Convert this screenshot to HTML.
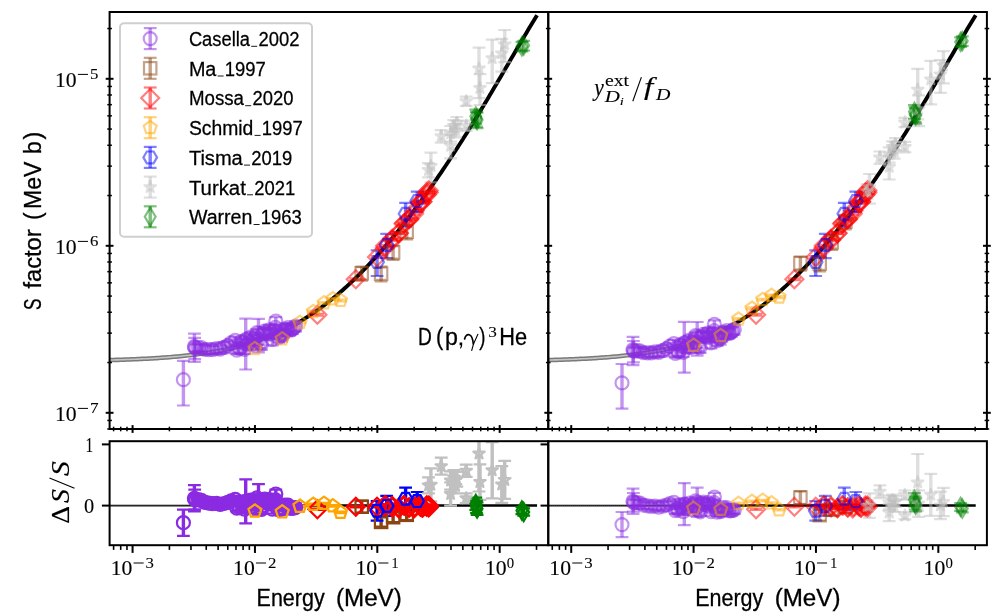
<!DOCTYPE html>
<html><head><meta charset="utf-8"><title>S factor</title><style>html,body{margin:0;padding:0;background:#fff}svg{display:block}text{fill:#000;stroke:#000}svg{will-change:transform}</style></head><body>
<svg width="997" height="613" viewBox="0 0 997 613">
<rect width="997" height="613" fill="#fff"/>
<defs>
<clipPath id="ctl"><rect x="109.60" y="12.00" width="438.65" height="417.00"/></clipPath>
<clipPath id="ctr"><rect x="548.25" y="12.00" width="438.65" height="417.00"/></clipPath>
<clipPath id="cbl"><rect x="109.60" y="441.20" width="438.65" height="104.00"/></clipPath>
<clipPath id="cbr"><rect x="548.25" y="441.20" width="438.65" height="104.00"/></clipPath>
</defs>
<g clip-path="url(#ctl)">
<path d="M109.60 360.11 L111.74 360.05 L113.87 359.98 L116.01 359.92 L118.15 359.85 L120.29 359.79 L122.42 359.71 L124.56 359.64 L126.70 359.56 L128.84 359.48 L130.97 359.40 L133.11 359.31 L135.25 359.22 L137.38 359.12 L139.52 359.03 L141.66 358.92 L143.80 358.82 L145.93 358.71 L148.07 358.59 L150.21 358.47 L152.34 358.35 L154.48 358.22 L156.62 358.09 L158.76 357.95 L160.89 357.81 L163.03 357.66 L165.17 357.50 L167.31 357.34 L169.44 357.17 L171.58 356.99 L173.72 356.81 L175.85 356.63 L177.99 356.43 L180.13 356.23 L182.27 356.02 L184.40 355.80 L186.54 355.57 L188.68 355.33 L190.81 355.09 L192.95 354.83 L195.09 354.57 L197.23 354.30 L199.36 354.01 L201.50 353.72 L203.64 353.42 L205.78 353.10 L207.91 352.77 L210.05 352.43 L212.19 352.08 L214.32 351.71 L216.46 351.34 L218.60 350.95 L220.74 350.54 L222.87 350.12 L225.01 349.69 L227.15 349.24 L229.28 348.77 L231.42 348.29 L233.56 347.79 L235.70 347.28 L237.83 346.74 L239.97 346.19 L242.11 345.62 L244.25 345.04 L246.38 344.43 L248.52 343.80 L250.66 343.15 L252.79 342.49 L254.93 341.80 L257.07 341.09 L259.21 340.35 L261.34 339.60 L263.48 338.82 L265.62 338.01 L267.75 337.19 L269.89 336.33 L272.03 335.46 L274.17 334.55 L276.30 333.63 L278.44 332.67 L280.58 331.69 L282.72 330.68 L284.85 329.64 L286.99 328.58 L289.13 327.48 L291.26 326.36 L293.40 325.21 L295.54 324.03 L297.68 322.82" fill="none" stroke="#7a7a7a" stroke-width="4.6"/>
<path d="M109.60 360.11 L111.74 360.05 L113.87 359.98 L116.01 359.92 L118.15 359.85 L120.29 359.79 L122.42 359.71 L124.56 359.64 L126.70 359.56 L128.84 359.48 L130.97 359.40 L133.11 359.31 L135.25 359.22 L137.38 359.12 L139.52 359.03 L141.66 358.92 L143.80 358.82 L145.93 358.71 L148.07 358.59 L150.21 358.47 L152.34 358.35 L154.48 358.22 L156.62 358.09 L158.76 357.95 L160.89 357.81 L163.03 357.66 L165.17 357.50 L167.31 357.34 L169.44 357.17 L171.58 356.99 L173.72 356.81 L175.85 356.63 L177.99 356.43 L180.13 356.23 L182.27 356.02 L184.40 355.80 L186.54 355.57 L188.68 355.33 L190.81 355.09 L192.95 354.83 L195.09 354.57 L197.23 354.30 L199.36 354.01 L201.50 353.72 L203.64 353.42 L205.78 353.10 L207.91 352.77 L210.05 352.43 L212.19 352.08 L214.32 351.71 L216.46 351.34 L218.60 350.95 L220.74 350.54 L222.87 350.12 L225.01 349.69 L227.15 349.24 L229.28 348.77 L231.42 348.29 L233.56 347.79 L235.70 347.28 L237.83 346.74 L239.97 346.19 L242.11 345.62 L244.25 345.04 L246.38 344.43 L248.52 343.80 L250.66 343.15 L252.79 342.49 L254.93 341.80 L257.07 341.09 L259.21 340.35 L261.34 339.60 L263.48 338.82 L265.62 338.01 L267.75 337.19 L269.89 336.33 L272.03 335.46 L274.17 334.55 L276.30 333.63 L278.44 332.67 L280.58 331.69 L282.72 330.68 L284.85 329.64 L286.99 328.58 L289.13 327.48 L291.26 326.36 L293.40 325.21 L295.54 324.03 L297.68 322.82" fill="none" stroke="#c4c4c4" stroke-width="1.6"/>
<path d="M297.68 322.82 L299.81 321.58 L301.95 320.31 L304.09 319.01 L306.23 317.68 L308.36 316.31 L310.50 314.92 L312.64 313.50 L314.77 312.04 L316.91 310.55 L319.05 309.03 L321.19 307.48 L323.32 305.89 L325.46 304.28 L327.60 302.63 L329.73 300.95 L331.87 299.23 L334.01 297.49 L336.15 295.71 L338.28 293.90 L340.42 292.06 L342.56 290.19 L344.70 288.28 L346.83 286.35 L348.97 284.38 L351.11 282.38 L353.24 280.35 L355.38 278.29 L357.52 276.20 L359.66 274.07 L361.79 271.92 L363.93 269.74 L366.07 267.53 L368.20 265.28 L370.34 263.01 L372.48 260.71 L374.62 258.38 L376.75 256.02 L378.89 253.63 L381.03 251.21 L383.17 248.77 L385.30 246.29 L387.44 243.79 L389.58 241.26 L391.71 238.71 L393.85 236.12 L395.99 233.51 L398.13 230.88 L400.26 228.22 L402.40 225.53 L404.54 222.81 L406.67 220.07 L408.81 217.30 L410.95 214.51 L413.09 211.69 L415.22 208.85 L417.36 205.98 L419.50 203.09 L421.64 200.17 L423.77 197.23 L425.91 194.26 L428.05 191.27 L430.18 188.25 L432.32 185.21 L434.46 182.15 L436.60 179.06 L438.73 175.95 L440.87 172.81 L443.01 169.66 L445.14 166.48 L447.28 163.27 L449.42 160.04 L451.56 156.79 L453.69 153.52 L455.83 150.23 L457.97 146.91 L460.11 143.57 L462.24 140.21 L464.38 136.83 L466.52 133.43 L468.65 130.01 L470.79 126.57 L472.93 123.11 L475.07 119.63 L477.20 116.13 L479.34 112.62 L481.48 109.08 L483.62 105.53 L485.75 101.97 L487.89 98.39 L490.03 94.79 L492.16 91.19 L494.30 87.57 L496.44 83.94 L498.58 80.30 L500.71 76.65 L502.85 72.99 L504.99 69.33 L507.12 65.67 L509.26 62.00 L511.40 58.34 L513.54 54.67 L515.67 51.01 L517.81 47.36 L519.95 43.72 L522.09 40.09 L524.22 36.47 L526.36 32.88 L528.50 29.30 L530.63 25.76 L532.77 22.25 L534.91 18.77 L537.05 15.33" fill="none" stroke="#000" stroke-width="3.9"/>
<g stroke-opacity="0.50" fill-opacity="0.50" fill="none">
<path d="M183.4 360.8V405.5" stroke="rgb(138,43,226)" stroke-width="3.4"/>
<path d="M194.4 333.7V361.9" stroke="rgb(138,43,226)" stroke-width="3.4"/>
<path d="M194.7 337.9V359.1" stroke="rgb(138,43,226)" stroke-width="3.4"/>
<path d="M196.0 344.5V351.7" stroke="rgb(138,43,226)" stroke-width="3.4"/>
<path d="M198.4 344.1V351.0" stroke="rgb(138,43,226)" stroke-width="3.4"/>
<path d="M201.4 343.8V351.9" stroke="rgb(138,43,226)" stroke-width="3.4"/>
<path d="M204.9 345.2V354.2" stroke="rgb(138,43,226)" stroke-width="3.4"/>
<path d="M208.8 345.4V354.2" stroke="rgb(138,43,226)" stroke-width="3.4"/>
<path d="M212.5 346.1V353.5" stroke="rgb(138,43,226)" stroke-width="3.4"/>
<path d="M216.5 343.6V354.1" stroke="rgb(138,43,226)" stroke-width="3.4"/>
<path d="M220.2 345.3V353.4" stroke="rgb(138,43,226)" stroke-width="3.4"/>
<path d="M224.1 342.1V353.1" stroke="rgb(138,43,226)" stroke-width="3.4"/>
<path d="M227.8 341.2V349.7" stroke="rgb(138,43,226)" stroke-width="3.4"/>
<path d="M231.2 339.4V346.4" stroke="rgb(138,43,226)" stroke-width="3.4"/>
<path d="M235.2 336.6V344.3" stroke="rgb(138,43,226)" stroke-width="3.4"/>
<path d="M236.8 346.1V354.2" stroke="rgb(138,43,226)" stroke-width="3.4"/>
<path d="M238.3 342.0V352.9" stroke="rgb(138,43,226)" stroke-width="3.4"/>
<path d="M239.9 343.8V354.0" stroke="rgb(138,43,226)" stroke-width="3.4"/>
<path d="M241.4 337.7V346.1" stroke="rgb(138,43,226)" stroke-width="3.4"/>
<path d="M243.0 339.0V346.3" stroke="rgb(138,43,226)" stroke-width="3.4"/>
<path d="M244.5 345.1V353.8" stroke="rgb(138,43,226)" stroke-width="3.4"/>
<path d="M246.1 335.7V344.3" stroke="rgb(138,43,226)" stroke-width="3.4"/>
<path d="M247.6 339.8V349.7" stroke="rgb(138,43,226)" stroke-width="3.4"/>
<path d="M249.2 338.1V346.4" stroke="rgb(138,43,226)" stroke-width="3.4"/>
<path d="M250.7 332.4V341.9" stroke="rgb(138,43,226)" stroke-width="3.4"/>
<path d="M252.3 339.4V349.4" stroke="rgb(138,43,226)" stroke-width="3.4"/>
<path d="M253.8 334.5V345.2" stroke="rgb(138,43,226)" stroke-width="3.4"/>
<path d="M255.4 332.5V340.4" stroke="rgb(138,43,226)" stroke-width="3.4"/>
<path d="M256.9 329.2V336.1" stroke="rgb(138,43,226)" stroke-width="3.4"/>
<path d="M258.5 334.6V345.0" stroke="rgb(138,43,226)" stroke-width="3.4"/>
<path d="M260.0 338.3V348.1" stroke="rgb(138,43,226)" stroke-width="3.4"/>
<path d="M261.5 339.0V349.8" stroke="rgb(138,43,226)" stroke-width="3.4"/>
<path d="M263.1 328.8V337.8" stroke="rgb(138,43,226)" stroke-width="3.4"/>
<path d="M264.6 327.3V335.1" stroke="rgb(138,43,226)" stroke-width="3.4"/>
<path d="M266.2 328.5V337.7" stroke="rgb(138,43,226)" stroke-width="3.4"/>
<path d="M267.7 329.6V338.5" stroke="rgb(138,43,226)" stroke-width="3.4"/>
<path d="M269.3 324.8V335.2" stroke="rgb(138,43,226)" stroke-width="3.4"/>
<path d="M270.8 329.4V339.3" stroke="rgb(138,43,226)" stroke-width="3.4"/>
<path d="M272.4 334.4V345.3" stroke="rgb(138,43,226)" stroke-width="3.4"/>
<path d="M273.9 325.2V336.1" stroke="rgb(138,43,226)" stroke-width="3.4"/>
<path d="M275.5 323.7V331.4" stroke="rgb(138,43,226)" stroke-width="3.4"/>
<path d="M277.0 327.9V338.0" stroke="rgb(138,43,226)" stroke-width="3.4"/>
<path d="M278.6 332.7V342.7" stroke="rgb(138,43,226)" stroke-width="3.4"/>
<path d="M280.1 330.7V338.7" stroke="rgb(138,43,226)" stroke-width="3.4"/>
<path d="M281.7 330.1V341.4" stroke="rgb(138,43,226)" stroke-width="3.4"/>
<path d="M283.2 329.5V338.2" stroke="rgb(138,43,226)" stroke-width="3.4"/>
<path d="M284.8 325.3V332.8" stroke="rgb(138,43,226)" stroke-width="3.4"/>
<path d="M286.3 324.7V336.0" stroke="rgb(138,43,226)" stroke-width="3.4"/>
<path d="M287.9 323.4V331.8" stroke="rgb(138,43,226)" stroke-width="3.4"/>
<path d="M289.4 324.1V335.6" stroke="rgb(138,43,226)" stroke-width="3.4"/>
<path d="M291.0 326.0V334.4" stroke="rgb(138,43,226)" stroke-width="3.4"/>
<path d="M292.5 324.0V333.8" stroke="rgb(138,43,226)" stroke-width="3.4"/>
<path d="M294.1 324.0V331.6" stroke="rgb(138,43,226)" stroke-width="3.4"/>
<path d="M295.6 321.4V331.4" stroke="rgb(138,43,226)" stroke-width="3.4"/>
<path d="M245.7 318.7V369.5" stroke="rgb(138,43,226)" stroke-width="3.4"/>
<path d="M258.5 318.8V352.4" stroke="rgb(138,43,226)" stroke-width="3.4"/>
<path d="M275.8 317.1V325.6" stroke="rgb(138,43,226)" stroke-width="3.4"/>
<path d="M177.0 360.8h12.8M177.0 405.5h12.8" stroke="rgb(138,43,226)" stroke-width="2.2"/>
<path d="M188.0 333.7h12.8M188.0 361.9h12.8" stroke="rgb(138,43,226)" stroke-width="2.2"/>
<path d="M188.3 337.9h12.8M188.3 359.1h12.8" stroke="rgb(138,43,226)" stroke-width="2.2"/>
<path d="M189.6 344.5h12.8M189.6 351.7h12.8" stroke="rgb(138,43,226)" stroke-width="2.2"/>
<path d="M192.0 344.1h12.8M192.0 351.0h12.8" stroke="rgb(138,43,226)" stroke-width="2.2"/>
<path d="M195.0 343.8h12.8M195.0 351.9h12.8" stroke="rgb(138,43,226)" stroke-width="2.2"/>
<path d="M198.5 345.2h12.8M198.5 354.2h12.8" stroke="rgb(138,43,226)" stroke-width="2.2"/>
<path d="M202.4 345.4h12.8M202.4 354.2h12.8" stroke="rgb(138,43,226)" stroke-width="2.2"/>
<path d="M206.1 346.1h12.8M206.1 353.5h12.8" stroke="rgb(138,43,226)" stroke-width="2.2"/>
<path d="M210.1 343.6h12.8M210.1 354.1h12.8" stroke="rgb(138,43,226)" stroke-width="2.2"/>
<path d="M213.8 345.3h12.8M213.8 353.4h12.8" stroke="rgb(138,43,226)" stroke-width="2.2"/>
<path d="M217.7 342.1h12.8M217.7 353.1h12.8" stroke="rgb(138,43,226)" stroke-width="2.2"/>
<path d="M221.4 341.2h12.8M221.4 349.7h12.8" stroke="rgb(138,43,226)" stroke-width="2.2"/>
<path d="M224.8 339.4h12.8M224.8 346.4h12.8" stroke="rgb(138,43,226)" stroke-width="2.2"/>
<path d="M228.8 336.6h12.8M228.8 344.3h12.8" stroke="rgb(138,43,226)" stroke-width="2.2"/>
<path d="M230.4 346.1h12.8M230.4 354.2h12.8" stroke="rgb(138,43,226)" stroke-width="2.2"/>
<path d="M231.9 342.0h12.8M231.9 352.9h12.8" stroke="rgb(138,43,226)" stroke-width="2.2"/>
<path d="M233.5 343.8h12.8M233.5 354.0h12.8" stroke="rgb(138,43,226)" stroke-width="2.2"/>
<path d="M235.0 337.7h12.8M235.0 346.1h12.8" stroke="rgb(138,43,226)" stroke-width="2.2"/>
<path d="M236.6 339.0h12.8M236.6 346.3h12.8" stroke="rgb(138,43,226)" stroke-width="2.2"/>
<path d="M238.1 345.1h12.8M238.1 353.8h12.8" stroke="rgb(138,43,226)" stroke-width="2.2"/>
<path d="M239.7 335.7h12.8M239.7 344.3h12.8" stroke="rgb(138,43,226)" stroke-width="2.2"/>
<path d="M241.2 339.8h12.8M241.2 349.7h12.8" stroke="rgb(138,43,226)" stroke-width="2.2"/>
<path d="M242.8 338.1h12.8M242.8 346.4h12.8" stroke="rgb(138,43,226)" stroke-width="2.2"/>
<path d="M244.3 332.4h12.8M244.3 341.9h12.8" stroke="rgb(138,43,226)" stroke-width="2.2"/>
<path d="M245.9 339.4h12.8M245.9 349.4h12.8" stroke="rgb(138,43,226)" stroke-width="2.2"/>
<path d="M247.4 334.5h12.8M247.4 345.2h12.8" stroke="rgb(138,43,226)" stroke-width="2.2"/>
<path d="M249.0 332.5h12.8M249.0 340.4h12.8" stroke="rgb(138,43,226)" stroke-width="2.2"/>
<path d="M250.5 329.2h12.8M250.5 336.1h12.8" stroke="rgb(138,43,226)" stroke-width="2.2"/>
<path d="M252.1 334.6h12.8M252.1 345.0h12.8" stroke="rgb(138,43,226)" stroke-width="2.2"/>
<path d="M253.6 338.3h12.8M253.6 348.1h12.8" stroke="rgb(138,43,226)" stroke-width="2.2"/>
<path d="M255.1 339.0h12.8M255.1 349.8h12.8" stroke="rgb(138,43,226)" stroke-width="2.2"/>
<path d="M256.7 328.8h12.8M256.7 337.8h12.8" stroke="rgb(138,43,226)" stroke-width="2.2"/>
<path d="M258.2 327.3h12.8M258.2 335.1h12.8" stroke="rgb(138,43,226)" stroke-width="2.2"/>
<path d="M259.8 328.5h12.8M259.8 337.7h12.8" stroke="rgb(138,43,226)" stroke-width="2.2"/>
<path d="M261.3 329.6h12.8M261.3 338.5h12.8" stroke="rgb(138,43,226)" stroke-width="2.2"/>
<path d="M262.9 324.8h12.8M262.9 335.2h12.8" stroke="rgb(138,43,226)" stroke-width="2.2"/>
<path d="M264.4 329.4h12.8M264.4 339.3h12.8" stroke="rgb(138,43,226)" stroke-width="2.2"/>
<path d="M266.0 334.4h12.8M266.0 345.3h12.8" stroke="rgb(138,43,226)" stroke-width="2.2"/>
<path d="M267.5 325.2h12.8M267.5 336.1h12.8" stroke="rgb(138,43,226)" stroke-width="2.2"/>
<path d="M269.1 323.7h12.8M269.1 331.4h12.8" stroke="rgb(138,43,226)" stroke-width="2.2"/>
<path d="M270.6 327.9h12.8M270.6 338.0h12.8" stroke="rgb(138,43,226)" stroke-width="2.2"/>
<path d="M272.2 332.7h12.8M272.2 342.7h12.8" stroke="rgb(138,43,226)" stroke-width="2.2"/>
<path d="M273.7 330.7h12.8M273.7 338.7h12.8" stroke="rgb(138,43,226)" stroke-width="2.2"/>
<path d="M275.3 330.1h12.8M275.3 341.4h12.8" stroke="rgb(138,43,226)" stroke-width="2.2"/>
<path d="M276.8 329.5h12.8M276.8 338.2h12.8" stroke="rgb(138,43,226)" stroke-width="2.2"/>
<path d="M278.4 325.3h12.8M278.4 332.8h12.8" stroke="rgb(138,43,226)" stroke-width="2.2"/>
<path d="M279.9 324.7h12.8M279.9 336.0h12.8" stroke="rgb(138,43,226)" stroke-width="2.2"/>
<path d="M281.5 323.4h12.8M281.5 331.8h12.8" stroke="rgb(138,43,226)" stroke-width="2.2"/>
<path d="M283.0 324.1h12.8M283.0 335.6h12.8" stroke="rgb(138,43,226)" stroke-width="2.2"/>
<path d="M284.6 326.0h12.8M284.6 334.4h12.8" stroke="rgb(138,43,226)" stroke-width="2.2"/>
<path d="M286.1 324.0h12.8M286.1 333.8h12.8" stroke="rgb(138,43,226)" stroke-width="2.2"/>
<path d="M287.7 324.0h12.8M287.7 331.6h12.8" stroke="rgb(138,43,226)" stroke-width="2.2"/>
<path d="M289.2 321.4h12.8M289.2 331.4h12.8" stroke="rgb(138,43,226)" stroke-width="2.2"/>
<path d="M239.3 318.7h12.8M239.3 369.5h12.8" stroke="rgb(138,43,226)" stroke-width="2.2"/>
<path d="M252.1 318.8h12.8M252.1 352.4h12.8" stroke="rgb(138,43,226)" stroke-width="2.2"/>
<path d="M269.4 317.1h12.8M269.4 325.6h12.8" stroke="rgb(138,43,226)" stroke-width="2.2"/>
<path d="M361.7 266.6V280.7" stroke="rgb(139,69,19)" stroke-width="3.4"/>
<path d="M381.1 266.6V281.5" stroke="rgb(139,69,19)" stroke-width="3.4"/>
<path d="M393.1 245.5V259.9" stroke="rgb(139,69,19)" stroke-width="3.4"/>
<path d="M406.7 224.9V239.4" stroke="rgb(139,69,19)" stroke-width="3.4"/>
<path d="M355.3 266.6h12.8M355.3 280.7h12.8" stroke="rgb(139,69,19)" stroke-width="2.2"/>
<path d="M374.7 266.6h12.8M374.7 281.5h12.8" stroke="rgb(139,69,19)" stroke-width="2.2"/>
<path d="M386.7 245.5h12.8M386.7 259.9h12.8" stroke="rgb(139,69,19)" stroke-width="2.2"/>
<path d="M400.3 224.9h12.8M400.3 239.4h12.8" stroke="rgb(139,69,19)" stroke-width="2.2"/>
<path d="M317.4 313.8V315.6" stroke="rgb(255,0,0)" stroke-width="3.4"/>
<path d="M355.8 278.3V280.1" stroke="rgb(255,0,0)" stroke-width="3.4"/>
<path d="M377.0 256.1V257.9" stroke="rgb(255,0,0)" stroke-width="3.4"/>
<path d="M385.2 244.9V246.6" stroke="rgb(255,0,0)" stroke-width="3.4"/>
<path d="M392.4 239.2V241.0" stroke="rgb(255,0,0)" stroke-width="3.4"/>
<path d="M398.6 232.3V234.2" stroke="rgb(255,0,0)" stroke-width="3.4"/>
<path d="M404.3 222.3V224.0" stroke="rgb(255,0,0)" stroke-width="3.4"/>
<path d="M409.3 217.9V219.7" stroke="rgb(255,0,0)" stroke-width="3.4"/>
<path d="M414.0 212.9V214.7" stroke="rgb(255,0,0)" stroke-width="3.4"/>
<path d="M419.9 201.3V203.1" stroke="rgb(255,0,0)" stroke-width="3.4"/>
<path d="M422.2 200.7V202.5" stroke="rgb(255,0,0)" stroke-width="3.4"/>
<path d="M426.6 193.9V195.6" stroke="rgb(255,0,0)" stroke-width="3.4"/>
<path d="M428.7 191.7V193.5" stroke="rgb(255,0,0)" stroke-width="3.4"/>
<path d="M384.7 247.0V248.7" stroke="rgb(255,0,0)" stroke-width="3.4"/>
<path d="M392.2 237.9V239.6" stroke="rgb(255,0,0)" stroke-width="3.4"/>
<path d="M398.8 232.2V234.0" stroke="rgb(255,0,0)" stroke-width="3.4"/>
<path d="M403.5 222.9V224.6" stroke="rgb(255,0,0)" stroke-width="3.4"/>
<path d="M409.0 218.5V220.3" stroke="rgb(255,0,0)" stroke-width="3.4"/>
<path d="M414.8 209.8V211.5" stroke="rgb(255,0,0)" stroke-width="3.4"/>
<path d="M420.4 202.2V203.9" stroke="rgb(255,0,0)" stroke-width="3.4"/>
<path d="M422.5 200.8V202.6" stroke="rgb(255,0,0)" stroke-width="3.4"/>
<path d="M426.8 191.6V193.3" stroke="rgb(255,0,0)" stroke-width="3.4"/>
<path d="M428.7 189.5V191.2" stroke="rgb(255,0,0)" stroke-width="3.4"/>
<path d="M311.0 313.8h12.8M311.0 315.6h12.8" stroke="rgb(255,0,0)" stroke-width="2.2"/>
<path d="M349.4 278.3h12.8M349.4 280.1h12.8" stroke="rgb(255,0,0)" stroke-width="2.2"/>
<path d="M370.6 256.1h12.8M370.6 257.9h12.8" stroke="rgb(255,0,0)" stroke-width="2.2"/>
<path d="M378.8 244.9h12.8M378.8 246.6h12.8" stroke="rgb(255,0,0)" stroke-width="2.2"/>
<path d="M386.0 239.2h12.8M386.0 241.0h12.8" stroke="rgb(255,0,0)" stroke-width="2.2"/>
<path d="M392.2 232.3h12.8M392.2 234.2h12.8" stroke="rgb(255,0,0)" stroke-width="2.2"/>
<path d="M397.9 222.3h12.8M397.9 224.0h12.8" stroke="rgb(255,0,0)" stroke-width="2.2"/>
<path d="M402.9 217.9h12.8M402.9 219.7h12.8" stroke="rgb(255,0,0)" stroke-width="2.2"/>
<path d="M407.6 212.9h12.8M407.6 214.7h12.8" stroke="rgb(255,0,0)" stroke-width="2.2"/>
<path d="M413.5 201.3h12.8M413.5 203.1h12.8" stroke="rgb(255,0,0)" stroke-width="2.2"/>
<path d="M415.8 200.7h12.8M415.8 202.5h12.8" stroke="rgb(255,0,0)" stroke-width="2.2"/>
<path d="M420.2 193.9h12.8M420.2 195.6h12.8" stroke="rgb(255,0,0)" stroke-width="2.2"/>
<path d="M422.3 191.7h12.8M422.3 193.5h12.8" stroke="rgb(255,0,0)" stroke-width="2.2"/>
<path d="M378.3 247.0h12.8M378.3 248.7h12.8" stroke="rgb(255,0,0)" stroke-width="2.2"/>
<path d="M385.8 237.9h12.8M385.8 239.6h12.8" stroke="rgb(255,0,0)" stroke-width="2.2"/>
<path d="M392.4 232.2h12.8M392.4 234.0h12.8" stroke="rgb(255,0,0)" stroke-width="2.2"/>
<path d="M397.1 222.9h12.8M397.1 224.6h12.8" stroke="rgb(255,0,0)" stroke-width="2.2"/>
<path d="M402.6 218.5h12.8M402.6 220.3h12.8" stroke="rgb(255,0,0)" stroke-width="2.2"/>
<path d="M408.4 209.8h12.8M408.4 211.5h12.8" stroke="rgb(255,0,0)" stroke-width="2.2"/>
<path d="M414.0 202.2h12.8M414.0 203.9h12.8" stroke="rgb(255,0,0)" stroke-width="2.2"/>
<path d="M416.1 200.8h12.8M416.1 202.6h12.8" stroke="rgb(255,0,0)" stroke-width="2.2"/>
<path d="M420.4 191.6h12.8M420.4 193.3h12.8" stroke="rgb(255,0,0)" stroke-width="2.2"/>
<path d="M422.3 189.5h12.8M422.3 191.2h12.8" stroke="rgb(255,0,0)" stroke-width="2.2"/>
<path d="M254.9 347.7V349.6" stroke="rgb(255,165,0)" stroke-width="3.4"/>
<path d="M282.2 338.0V340.0" stroke="rgb(255,165,0)" stroke-width="3.4"/>
<path d="M299.9 321.5V323.3" stroke="rgb(255,165,0)" stroke-width="3.4"/>
<path d="M313.3 310.7V312.5" stroke="rgb(255,165,0)" stroke-width="3.4"/>
<path d="M324.0 302.1V303.8" stroke="rgb(255,165,0)" stroke-width="3.4"/>
<path d="M332.8 298.0V299.7" stroke="rgb(255,165,0)" stroke-width="3.4"/>
<path d="M340.5 299.5V301.5" stroke="rgb(255,165,0)" stroke-width="3.4"/>
<path d="M248.5 347.7h12.8M248.5 349.6h12.8" stroke="rgb(255,165,0)" stroke-width="2.2"/>
<path d="M275.8 338.0h12.8M275.8 340.0h12.8" stroke="rgb(255,165,0)" stroke-width="2.2"/>
<path d="M293.5 321.5h12.8M293.5 323.3h12.8" stroke="rgb(255,165,0)" stroke-width="2.2"/>
<path d="M306.9 310.7h12.8M306.9 312.5h12.8" stroke="rgb(255,165,0)" stroke-width="2.2"/>
<path d="M317.6 302.1h12.8M317.6 303.8h12.8" stroke="rgb(255,165,0)" stroke-width="2.2"/>
<path d="M326.4 298.0h12.8M326.4 299.7h12.8" stroke="rgb(255,165,0)" stroke-width="2.2"/>
<path d="M334.1 299.5h12.8M334.1 301.5h12.8" stroke="rgb(255,165,0)" stroke-width="2.2"/>
<path d="M377.1 250.4V276.0" stroke="rgb(0,0,255)" stroke-width="3.4"/>
<path d="M386.7 233.9V258.2" stroke="rgb(0,0,255)" stroke-width="3.4"/>
<path d="M405.6 202.9V226.6" stroke="rgb(0,0,255)" stroke-width="3.4"/>
<path d="M417.2 191.6V212.0" stroke="rgb(0,0,255)" stroke-width="3.4"/>
<path d="M370.7 250.4h12.8M370.7 276.0h12.8" stroke="rgb(0,0,255)" stroke-width="2.2"/>
<path d="M380.3 233.9h12.8M380.3 258.2h12.8" stroke="rgb(0,0,255)" stroke-width="2.2"/>
<path d="M399.2 202.9h12.8M399.2 226.6h12.8" stroke="rgb(0,0,255)" stroke-width="2.2"/>
<path d="M410.8 191.6h12.8M410.8 212.0h12.8" stroke="rgb(0,0,255)" stroke-width="2.2"/>
<path d="M428.5 163.2V177.4" stroke="rgb(192,192,192)" stroke-width="3.4"/>
<path d="M430.9 152.7V182.4" stroke="rgb(192,192,192)" stroke-width="3.4"/>
<path d="M441.2 130.2V142.6" stroke="rgb(192,192,192)" stroke-width="3.4"/>
<path d="M450.6 126.0V141.5" stroke="rgb(192,192,192)" stroke-width="3.4"/>
<path d="M450.6 134.9V158.3" stroke="rgb(192,192,192)" stroke-width="3.4"/>
<path d="M453.8 120.1V132.1" stroke="rgb(192,192,192)" stroke-width="3.4"/>
<path d="M456.8 117.0V129.2" stroke="rgb(192,192,192)" stroke-width="3.4"/>
<path d="M455.6 124.2V137.4" stroke="rgb(192,192,192)" stroke-width="3.4"/>
<path d="M466.2 96.7V105.9" stroke="rgb(192,192,192)" stroke-width="3.4"/>
<path d="M466.2 120.7V131.0" stroke="rgb(192,192,192)" stroke-width="3.4"/>
<path d="M479.0 47.6V98.1" stroke="rgb(192,192,192)" stroke-width="3.4"/>
<path d="M480.0 74.2V105.0" stroke="rgb(192,192,192)" stroke-width="3.4"/>
<path d="M492.2 39.6V83.2" stroke="rgb(192,192,192)" stroke-width="3.4"/>
<path d="M501.8 38.8V71.7" stroke="rgb(192,192,192)" stroke-width="3.4"/>
<path d="M504.7 30.0V62.2" stroke="rgb(192,192,192)" stroke-width="3.4"/>
<path d="M422.1 163.2h12.8M422.1 177.4h12.8" stroke="rgb(192,192,192)" stroke-width="2.2"/>
<path d="M424.5 152.7h12.8M424.5 182.4h12.8" stroke="rgb(192,192,192)" stroke-width="2.2"/>
<path d="M434.8 130.2h12.8M434.8 142.6h12.8" stroke="rgb(192,192,192)" stroke-width="2.2"/>
<path d="M444.2 126.0h12.8M444.2 141.5h12.8" stroke="rgb(192,192,192)" stroke-width="2.2"/>
<path d="M444.2 134.9h12.8M444.2 158.3h12.8" stroke="rgb(192,192,192)" stroke-width="2.2"/>
<path d="M447.4 120.1h12.8M447.4 132.1h12.8" stroke="rgb(192,192,192)" stroke-width="2.2"/>
<path d="M450.4 117.0h12.8M450.4 129.2h12.8" stroke="rgb(192,192,192)" stroke-width="2.2"/>
<path d="M449.2 124.2h12.8M449.2 137.4h12.8" stroke="rgb(192,192,192)" stroke-width="2.2"/>
<path d="M459.8 96.7h12.8M459.8 105.9h12.8" stroke="rgb(192,192,192)" stroke-width="2.2"/>
<path d="M459.8 120.7h12.8M459.8 131.0h12.8" stroke="rgb(192,192,192)" stroke-width="2.2"/>
<path d="M472.6 47.6h12.8M472.6 98.1h12.8" stroke="rgb(192,192,192)" stroke-width="2.2"/>
<path d="M473.6 74.2h12.8M473.6 105.0h12.8" stroke="rgb(192,192,192)" stroke-width="2.2"/>
<path d="M485.8 39.6h12.8M485.8 83.2h12.8" stroke="rgb(192,192,192)" stroke-width="2.2"/>
<path d="M495.4 38.8h12.8M495.4 71.7h12.8" stroke="rgb(192,192,192)" stroke-width="2.2"/>
<path d="M498.3 30.0h12.8M498.3 62.2h12.8" stroke="rgb(192,192,192)" stroke-width="2.2"/>
<path d="M475.8 109.6V123.7" stroke="rgb(0,128,0)" stroke-width="3.4"/>
<path d="M476.5 111.8V126.6" stroke="rgb(0,128,0)" stroke-width="3.4"/>
<path d="M477.1 112.7V128.1" stroke="rgb(0,128,0)" stroke-width="3.4"/>
<path d="M521.9 41.8V51.3" stroke="rgb(0,128,0)" stroke-width="3.4"/>
<path d="M523.7 40.8V50.5" stroke="rgb(0,128,0)" stroke-width="3.4"/>
<path d="M469.4 109.6h12.8M469.4 123.7h12.8" stroke="rgb(0,128,0)" stroke-width="2.2"/>
<path d="M470.1 111.8h12.8M470.1 126.6h12.8" stroke="rgb(0,128,0)" stroke-width="2.2"/>
<path d="M470.7 112.7h12.8M470.7 128.1h12.8" stroke="rgb(0,128,0)" stroke-width="2.2"/>
<path d="M515.5 41.8h12.8M515.5 51.3h12.8" stroke="rgb(0,128,0)" stroke-width="2.2"/>
<path d="M517.3 40.8h12.8M517.3 50.5h12.8" stroke="rgb(0,128,0)" stroke-width="2.2"/>
<g stroke="rgb(138,43,226)" stroke-width="2.2">
<circle cx="183.4" cy="379.7" r="6.5"/>
<circle cx="194.4" cy="346.4" r="6.5"/>
<circle cx="194.7" cy="347.7" r="6.5"/>
<circle cx="196.0" cy="348.0" r="6.5"/>
<circle cx="198.4" cy="347.5" r="6.5"/>
<circle cx="201.4" cy="347.7" r="6.5"/>
<circle cx="204.9" cy="349.5" r="6.5"/>
<circle cx="208.8" cy="349.7" r="6.5"/>
<circle cx="212.5" cy="349.7" r="6.5"/>
<circle cx="216.5" cy="348.7" r="6.5"/>
<circle cx="220.2" cy="349.2" r="6.5"/>
<circle cx="224.1" cy="347.4" r="6.5"/>
<circle cx="227.8" cy="345.3" r="6.5"/>
<circle cx="231.2" cy="342.8" r="6.5"/>
<circle cx="235.2" cy="340.4" r="6.5"/>
<circle cx="236.8" cy="350.1" r="6.5"/>
<circle cx="238.3" cy="347.2" r="6.5"/>
<circle cx="239.9" cy="348.7" r="6.5"/>
<circle cx="241.4" cy="341.7" r="6.5"/>
<circle cx="243.0" cy="342.6" r="6.5"/>
<circle cx="244.5" cy="349.3" r="6.5"/>
<circle cx="246.1" cy="339.9" r="6.5"/>
<circle cx="247.6" cy="344.6" r="6.5"/>
<circle cx="249.2" cy="342.1" r="6.5"/>
<circle cx="250.7" cy="337.0" r="6.5"/>
<circle cx="252.3" cy="344.2" r="6.5"/>
<circle cx="253.8" cy="339.7" r="6.5"/>
<circle cx="255.4" cy="336.4" r="6.5"/>
<circle cx="256.9" cy="332.5" r="6.5"/>
<circle cx="258.5" cy="339.6" r="6.5"/>
<circle cx="260.0" cy="343.0" r="6.5"/>
<circle cx="261.5" cy="344.2" r="6.5"/>
<circle cx="263.1" cy="333.2" r="6.5"/>
<circle cx="264.6" cy="331.1" r="6.5"/>
<circle cx="266.2" cy="332.9" r="6.5"/>
<circle cx="267.7" cy="333.9" r="6.5"/>
<circle cx="269.3" cy="329.8" r="6.5"/>
<circle cx="270.8" cy="334.2" r="6.5"/>
<circle cx="272.4" cy="339.6" r="6.5"/>
<circle cx="273.9" cy="330.5" r="6.5"/>
<circle cx="275.5" cy="327.4" r="6.5"/>
<circle cx="277.0" cy="332.8" r="6.5"/>
<circle cx="278.6" cy="337.5" r="6.5"/>
<circle cx="280.1" cy="334.6" r="6.5"/>
<circle cx="281.7" cy="335.5" r="6.5"/>
<circle cx="283.2" cy="333.7" r="6.5"/>
<circle cx="284.8" cy="329.0" r="6.5"/>
<circle cx="286.3" cy="330.1" r="6.5"/>
<circle cx="287.9" cy="327.5" r="6.5"/>
<circle cx="289.4" cy="329.6" r="6.5"/>
<circle cx="291.0" cy="330.1" r="6.5"/>
<circle cx="292.5" cy="328.8" r="6.5"/>
<circle cx="294.1" cy="327.7" r="6.5"/>
<circle cx="295.6" cy="326.2" r="6.5"/>
<circle cx="245.7" cy="339.7" r="6.5"/>
<circle cx="258.5" cy="333.7" r="6.5"/>
<circle cx="275.8" cy="321.2" r="6.5"/>
</g>
<g stroke="rgb(139,69,19)" stroke-width="2.2">
<rect x="355.5" y="267.1" width="12.4" height="12.4"/>
<rect x="374.9" y="267.5" width="12.4" height="12.4"/>
<rect x="386.9" y="246.2" width="12.4" height="12.4"/>
<rect x="400.5" y="225.6" width="12.4" height="12.4"/>
</g>
<g stroke="rgb(255,0,0)" stroke-width="2.2">
<polygon points="317.4,305.7 326.4,314.7 317.4,323.7 308.4,314.7"/>
<polygon points="355.8,270.2 364.8,279.2 355.8,288.2 346.8,279.2"/>
<polygon points="377.0,248.0 386.0,257.0 377.0,266.0 368.0,257.0"/>
<polygon points="385.2,236.7 394.2,245.7 385.2,254.7 376.2,245.7"/>
<polygon points="392.4,231.1 401.4,240.1 392.4,249.1 383.4,240.1"/>
<polygon points="398.6,224.2 407.6,233.2 398.6,242.2 389.6,233.2"/>
<polygon points="404.3,214.1 413.3,223.1 404.3,232.1 395.3,223.1"/>
<polygon points="409.3,209.8 418.3,218.8 409.3,227.8 400.3,218.8"/>
<polygon points="414.0,204.8 423.0,213.8 414.0,222.8 405.0,213.8"/>
<polygon points="419.9,193.2 428.9,202.2 419.9,211.2 410.9,202.2"/>
<polygon points="422.2,192.5 431.2,201.5 422.2,210.5 413.2,201.5"/>
<polygon points="426.6,185.7 435.6,194.7 426.6,203.7 417.6,194.7"/>
<polygon points="428.7,183.6 437.7,192.6 428.7,201.6 419.7,192.6"/>
<polygon points="384.7,238.9 393.7,247.9 384.7,256.9 375.7,247.9"/>
<polygon points="392.2,229.7 401.2,238.7 392.2,247.7 383.2,238.7"/>
<polygon points="398.8,224.1 407.8,233.1 398.8,242.1 389.8,233.1"/>
<polygon points="403.5,214.8 412.5,223.8 403.5,232.8 394.5,223.8"/>
<polygon points="409.0,210.4 418.0,219.4 409.0,228.4 400.0,219.4"/>
<polygon points="414.8,201.6 423.8,210.6 414.8,219.6 405.8,210.6"/>
<polygon points="420.4,194.0 429.4,203.0 420.4,212.0 411.4,203.0"/>
<polygon points="422.5,192.7 431.5,201.7 422.5,210.7 413.5,201.7"/>
<polygon points="426.8,183.5 435.8,192.5 426.8,201.5 417.8,192.5"/>
<polygon points="428.7,181.4 437.7,190.4 428.7,199.4 419.7,190.4"/>
</g>
<g stroke="rgb(255,165,0)" stroke-width="2.2">
<polygon points="254.9,341.8 261.4,346.5 258.9,354.1 250.9,354.1 248.5,346.5"/>
<polygon points="282.2,332.2 288.7,336.9 286.2,344.5 278.2,344.5 275.7,336.9"/>
<polygon points="299.9,315.6 306.4,320.3 303.9,327.9 295.9,327.9 293.4,320.3"/>
<polygon points="313.3,304.8 319.8,309.5 317.3,317.1 309.3,317.1 306.9,309.5"/>
<polygon points="324.0,296.1 330.5,300.8 328.0,308.4 320.0,308.4 317.6,300.8"/>
<polygon points="332.8,292.0 339.3,296.7 336.8,304.3 328.8,304.3 326.4,296.7"/>
<polygon points="340.5,293.7 346.9,298.4 344.5,306.0 336.5,306.0 334.0,298.4"/>
</g>
<g stroke="rgb(0,0,255)" stroke-width="2.2">
<polygon points="383.9,262.1 380.5,256.2 373.7,256.2 370.3,262.1 373.7,268.0 380.5,268.0"/>
<polygon points="393.5,245.0 390.1,239.1 383.3,239.1 379.9,245.0 383.3,250.9 390.1,250.9"/>
<polygon points="412.4,213.7 409.0,207.9 402.2,207.9 398.8,213.7 402.2,219.6 409.0,219.6"/>
<polygon points="424.0,201.1 420.6,195.2 413.8,195.2 410.4,201.1 413.8,207.0 420.6,207.0"/>
</g>
<g stroke="rgb(192,192,192)" stroke-width="2.2">
<polygon points="428.5,164.0 429.8,168.1 434.2,168.1 430.7,170.7 432.0,174.8 428.5,172.2 425.0,174.8 426.3,170.7 422.8,168.1 427.2,168.1" stroke-linejoin="round"/>
<polygon points="430.9,160.0 432.2,164.2 436.6,164.2 433.1,166.8 434.4,170.9 430.9,168.3 427.4,170.9 428.7,166.8 425.2,164.2 429.5,164.2" stroke-linejoin="round"/>
<polygon points="441.2,130.2 442.6,134.3 446.9,134.3 443.4,136.9 444.8,141.0 441.2,138.5 437.7,141.0 439.1,136.9 435.5,134.3 439.9,134.3" stroke-linejoin="round"/>
<polygon points="450.6,127.4 451.9,131.5 456.3,131.5 452.8,134.1 454.1,138.2 450.6,135.6 447.1,138.2 448.4,134.1 444.9,131.5 449.2,131.5" stroke-linejoin="round"/>
<polygon points="450.6,139.7 451.9,143.8 456.3,143.8 452.8,146.4 454.1,150.5 450.6,148.0 447.1,150.5 448.4,146.4 444.9,143.8 449.2,143.8" stroke-linejoin="round"/>
<polygon points="453.8,119.9 455.2,124.0 459.5,124.0 456.0,126.6 457.4,130.7 453.8,128.2 450.3,130.7 451.6,126.6 448.1,124.0 452.5,124.0" stroke-linejoin="round"/>
<polygon points="456.8,116.8 458.1,121.0 462.5,121.0 458.9,123.5 460.3,127.7 456.8,125.1 453.2,127.7 454.6,123.5 451.1,121.0 455.4,121.0" stroke-linejoin="round"/>
<polygon points="455.6,124.5 456.9,128.7 461.3,128.7 457.7,131.2 459.1,135.4 455.6,132.8 452.0,135.4 453.4,131.2 449.9,128.7 454.2,128.7" stroke-linejoin="round"/>
<polygon points="466.2,95.2 467.6,99.3 471.9,99.3 468.4,101.9 469.8,106.0 466.2,103.5 462.7,106.0 464.1,101.9 460.5,99.3 464.9,99.3" stroke-linejoin="round"/>
<polygon points="466.2,119.7 467.6,123.8 471.9,123.8 468.4,126.4 469.8,130.5 466.2,127.9 462.7,130.5 464.1,126.4 460.5,123.8 464.9,123.8" stroke-linejoin="round"/>
<polygon points="479.0,62.5 480.4,66.7 484.7,66.7 481.2,69.2 482.6,73.4 479.0,70.8 475.5,73.4 476.8,69.2 473.3,66.7 477.7,66.7" stroke-linejoin="round"/>
<polygon points="480.0,82.0 481.3,86.1 485.7,86.1 482.1,88.7 483.5,92.8 480.0,90.3 476.4,92.8 477.8,88.7 474.3,86.1 478.6,86.1" stroke-linejoin="round"/>
<polygon points="492.2,52.2 493.5,56.3 497.9,56.3 494.3,58.9 495.7,63.0 492.2,60.5 488.6,63.0 490.0,58.9 486.5,56.3 490.8,56.3" stroke-linejoin="round"/>
<polygon points="501.8,47.4 503.1,51.5 507.5,51.5 503.9,54.1 505.3,58.2 501.8,55.6 498.2,58.2 499.6,54.1 496.1,51.5 500.4,51.5" stroke-linejoin="round"/>
<polygon points="504.7,38.3 506.1,42.5 510.5,42.5 506.9,45.0 508.3,49.2 504.7,46.6 501.2,49.2 502.6,45.0 499.0,42.5 503.4,42.5" stroke-linejoin="round"/>
</g>
<g stroke="rgb(0,128,0)" stroke-width="2.2">
<polygon points="475.8,107.3 481.2,116.3 475.8,125.3 470.4,116.3"/>
<polygon points="476.5,109.8 481.9,118.8 476.5,127.8 471.1,118.8"/>
<polygon points="477.1,111.0 482.5,120.0 477.1,129.0 471.7,120.0"/>
<polygon points="521.9,37.4 527.3,46.4 521.9,55.4 516.5,46.4"/>
<polygon points="523.7,36.5 529.1,45.5 523.7,54.5 518.3,45.5"/>
</g>
</g>
</g>
<g clip-path="url(#ctr)">
<path d="M548.25 360.11 L550.39 360.05 L552.52 359.98 L554.66 359.92 L556.80 359.85 L558.94 359.79 L561.07 359.71 L563.21 359.64 L565.35 359.56 L567.49 359.48 L569.62 359.40 L571.76 359.31 L573.90 359.22 L576.03 359.12 L578.17 359.03 L580.31 358.92 L582.45 358.82 L584.58 358.71 L586.72 358.59 L588.86 358.47 L590.99 358.35 L593.13 358.22 L595.27 358.09 L597.41 357.95 L599.54 357.81 L601.68 357.66 L603.82 357.50 L605.96 357.34 L608.09 357.17 L610.23 356.99 L612.37 356.81 L614.50 356.63 L616.64 356.43 L618.78 356.23 L620.92 356.02 L623.05 355.80 L625.19 355.57 L627.33 355.33 L629.46 355.09 L631.60 354.83 L633.74 354.57 L635.88 354.30 L638.01 354.01 L640.15 353.72 L642.29 353.42 L644.43 353.10 L646.56 352.77 L648.70 352.43 L650.84 352.08 L652.97 351.71 L655.11 351.34 L657.25 350.95 L659.39 350.54 L661.52 350.12 L663.66 349.69 L665.80 349.24 L667.93 348.77 L670.07 348.29 L672.21 347.79 L674.35 347.28 L676.48 346.74 L678.62 346.19 L680.76 345.62 L682.90 345.04 L685.03 344.43 L687.17 343.80 L689.31 343.15 L691.44 342.49 L693.58 341.80 L695.72 341.09 L697.86 340.35 L699.99 339.60 L702.13 338.82 L704.27 338.01 L706.40 337.19 L708.54 336.33 L710.68 335.46 L712.82 334.55 L714.95 333.63 L717.09 332.67 L719.23 331.69 L721.37 330.68 L723.50 329.64 L725.64 328.58 L727.78 327.48 L729.91 326.36 L732.05 325.21 L734.19 324.03 L736.33 322.82" fill="none" stroke="#7a7a7a" stroke-width="4.6"/>
<path d="M548.25 360.11 L550.39 360.05 L552.52 359.98 L554.66 359.92 L556.80 359.85 L558.94 359.79 L561.07 359.71 L563.21 359.64 L565.35 359.56 L567.49 359.48 L569.62 359.40 L571.76 359.31 L573.90 359.22 L576.03 359.12 L578.17 359.03 L580.31 358.92 L582.45 358.82 L584.58 358.71 L586.72 358.59 L588.86 358.47 L590.99 358.35 L593.13 358.22 L595.27 358.09 L597.41 357.95 L599.54 357.81 L601.68 357.66 L603.82 357.50 L605.96 357.34 L608.09 357.17 L610.23 356.99 L612.37 356.81 L614.50 356.63 L616.64 356.43 L618.78 356.23 L620.92 356.02 L623.05 355.80 L625.19 355.57 L627.33 355.33 L629.46 355.09 L631.60 354.83 L633.74 354.57 L635.88 354.30 L638.01 354.01 L640.15 353.72 L642.29 353.42 L644.43 353.10 L646.56 352.77 L648.70 352.43 L650.84 352.08 L652.97 351.71 L655.11 351.34 L657.25 350.95 L659.39 350.54 L661.52 350.12 L663.66 349.69 L665.80 349.24 L667.93 348.77 L670.07 348.29 L672.21 347.79 L674.35 347.28 L676.48 346.74 L678.62 346.19 L680.76 345.62 L682.90 345.04 L685.03 344.43 L687.17 343.80 L689.31 343.15 L691.44 342.49 L693.58 341.80 L695.72 341.09 L697.86 340.35 L699.99 339.60 L702.13 338.82 L704.27 338.01 L706.40 337.19 L708.54 336.33 L710.68 335.46 L712.82 334.55 L714.95 333.63 L717.09 332.67 L719.23 331.69 L721.37 330.68 L723.50 329.64 L725.64 328.58 L727.78 327.48 L729.91 326.36 L732.05 325.21 L734.19 324.03 L736.33 322.82" fill="none" stroke="#c4c4c4" stroke-width="1.6"/>
<path d="M736.33 322.82 L738.46 321.58 L740.60 320.31 L742.74 319.01 L744.88 317.68 L747.01 316.31 L749.15 314.92 L751.29 313.50 L753.42 312.04 L755.56 310.55 L757.70 309.03 L759.84 307.48 L761.97 305.89 L764.11 304.28 L766.25 302.63 L768.38 300.95 L770.52 299.23 L772.66 297.49 L774.80 295.71 L776.93 293.90 L779.07 292.06 L781.21 290.19 L783.35 288.28 L785.48 286.35 L787.62 284.38 L789.76 282.38 L791.89 280.35 L794.03 278.29 L796.17 276.20 L798.31 274.07 L800.44 271.92 L802.58 269.74 L804.72 267.53 L806.85 265.28 L808.99 263.01 L811.13 260.71 L813.27 258.38 L815.40 256.02 L817.54 253.63 L819.68 251.21 L821.82 248.77 L823.95 246.29 L826.09 243.79 L828.23 241.26 L830.36 238.71 L832.50 236.12 L834.64 233.51 L836.78 230.88 L838.91 228.22 L841.05 225.53 L843.19 222.81 L845.32 220.07 L847.46 217.30 L849.60 214.51 L851.74 211.69 L853.87 208.85 L856.01 205.98 L858.15 203.09 L860.29 200.17 L862.42 197.23 L864.56 194.26 L866.70 191.27 L868.83 188.25 L870.97 185.21 L873.11 182.15 L875.25 179.06 L877.38 175.95 L879.52 172.81 L881.66 169.66 L883.79 166.48 L885.93 163.27 L888.07 160.04 L890.21 156.79 L892.34 153.52 L894.48 150.23 L896.62 146.91 L898.76 143.57 L900.89 140.21 L903.03 136.83 L905.17 133.43 L907.30 130.01 L909.44 126.57 L911.58 123.11 L913.72 119.63 L915.85 116.13 L917.99 112.62 L920.13 109.08 L922.27 105.53 L924.40 101.97 L926.54 98.39 L928.68 94.79 L930.81 91.19 L932.95 87.57 L935.09 83.94 L937.23 80.30 L939.36 76.65 L941.50 72.99 L943.64 69.33 L945.77 65.67 L947.91 62.00 L950.05 58.34 L952.19 54.67 L954.32 51.01 L956.46 47.36 L958.60 43.72 L960.74 40.09 L962.87 36.47 L965.01 32.88 L967.15 29.30 L969.28 25.76 L971.42 22.25 L973.56 18.77 L975.70 15.33" fill="none" stroke="#000" stroke-width="3.9"/>
<g stroke-opacity="0.50" fill-opacity="0.50" fill="none">
<path d="M622.0 364.0V408.6" stroke="rgb(138,43,226)" stroke-width="3.4"/>
<path d="M633.0 336.9V365.1" stroke="rgb(138,43,226)" stroke-width="3.4"/>
<path d="M633.4 341.0V362.3" stroke="rgb(138,43,226)" stroke-width="3.4"/>
<path d="M634.7 347.7V354.9" stroke="rgb(138,43,226)" stroke-width="3.4"/>
<path d="M637.0 347.3V354.2" stroke="rgb(138,43,226)" stroke-width="3.4"/>
<path d="M640.0 347.0V355.1" stroke="rgb(138,43,226)" stroke-width="3.4"/>
<path d="M643.5 348.4V357.4" stroke="rgb(138,43,226)" stroke-width="3.4"/>
<path d="M647.5 348.6V357.4" stroke="rgb(138,43,226)" stroke-width="3.4"/>
<path d="M651.2 349.3V356.7" stroke="rgb(138,43,226)" stroke-width="3.4"/>
<path d="M655.1 346.8V357.3" stroke="rgb(138,43,226)" stroke-width="3.4"/>
<path d="M658.8 348.5V356.6" stroke="rgb(138,43,226)" stroke-width="3.4"/>
<path d="M662.8 345.3V356.3" stroke="rgb(138,43,226)" stroke-width="3.4"/>
<path d="M666.4 344.4V352.9" stroke="rgb(138,43,226)" stroke-width="3.4"/>
<path d="M669.9 342.6V349.5" stroke="rgb(138,43,226)" stroke-width="3.4"/>
<path d="M673.9 339.8V347.5" stroke="rgb(138,43,226)" stroke-width="3.4"/>
<path d="M675.4 349.3V357.4" stroke="rgb(138,43,226)" stroke-width="3.4"/>
<path d="M677.0 345.2V356.1" stroke="rgb(138,43,226)" stroke-width="3.4"/>
<path d="M678.5 347.0V357.2" stroke="rgb(138,43,226)" stroke-width="3.4"/>
<path d="M680.1 340.9V349.2" stroke="rgb(138,43,226)" stroke-width="3.4"/>
<path d="M681.6 342.2V349.5" stroke="rgb(138,43,226)" stroke-width="3.4"/>
<path d="M683.2 348.3V357.0" stroke="rgb(138,43,226)" stroke-width="3.4"/>
<path d="M684.7 338.9V347.5" stroke="rgb(138,43,226)" stroke-width="3.4"/>
<path d="M686.3 343.0V352.9" stroke="rgb(138,43,226)" stroke-width="3.4"/>
<path d="M687.8 341.2V349.6" stroke="rgb(138,43,226)" stroke-width="3.4"/>
<path d="M689.4 335.6V345.0" stroke="rgb(138,43,226)" stroke-width="3.4"/>
<path d="M690.9 342.6V352.6" stroke="rgb(138,43,226)" stroke-width="3.4"/>
<path d="M692.5 337.7V348.4" stroke="rgb(138,43,226)" stroke-width="3.4"/>
<path d="M694.0 335.7V343.6" stroke="rgb(138,43,226)" stroke-width="3.4"/>
<path d="M695.6 332.4V339.3" stroke="rgb(138,43,226)" stroke-width="3.4"/>
<path d="M697.1 337.8V348.2" stroke="rgb(138,43,226)" stroke-width="3.4"/>
<path d="M698.6 341.5V351.3" stroke="rgb(138,43,226)" stroke-width="3.4"/>
<path d="M700.2 342.1V353.0" stroke="rgb(138,43,226)" stroke-width="3.4"/>
<path d="M701.7 332.0V341.0" stroke="rgb(138,43,226)" stroke-width="3.4"/>
<path d="M703.3 330.5V338.3" stroke="rgb(138,43,226)" stroke-width="3.4"/>
<path d="M704.8 331.7V340.9" stroke="rgb(138,43,226)" stroke-width="3.4"/>
<path d="M706.4 332.8V341.7" stroke="rgb(138,43,226)" stroke-width="3.4"/>
<path d="M707.9 328.0V338.4" stroke="rgb(138,43,226)" stroke-width="3.4"/>
<path d="M709.5 332.6V342.5" stroke="rgb(138,43,226)" stroke-width="3.4"/>
<path d="M711.0 337.5V348.5" stroke="rgb(138,43,226)" stroke-width="3.4"/>
<path d="M712.6 328.4V339.3" stroke="rgb(138,43,226)" stroke-width="3.4"/>
<path d="M714.1 326.9V334.6" stroke="rgb(138,43,226)" stroke-width="3.4"/>
<path d="M715.7 331.1V341.2" stroke="rgb(138,43,226)" stroke-width="3.4"/>
<path d="M717.2 335.9V345.8" stroke="rgb(138,43,226)" stroke-width="3.4"/>
<path d="M718.8 333.9V341.9" stroke="rgb(138,43,226)" stroke-width="3.4"/>
<path d="M720.3 333.3V344.6" stroke="rgb(138,43,226)" stroke-width="3.4"/>
<path d="M721.9 332.7V341.4" stroke="rgb(138,43,226)" stroke-width="3.4"/>
<path d="M723.4 328.5V336.0" stroke="rgb(138,43,226)" stroke-width="3.4"/>
<path d="M725.0 327.8V339.1" stroke="rgb(138,43,226)" stroke-width="3.4"/>
<path d="M726.5 326.6V335.0" stroke="rgb(138,43,226)" stroke-width="3.4"/>
<path d="M728.1 327.3V338.8" stroke="rgb(138,43,226)" stroke-width="3.4"/>
<path d="M729.6 329.2V337.6" stroke="rgb(138,43,226)" stroke-width="3.4"/>
<path d="M731.2 327.2V337.0" stroke="rgb(138,43,226)" stroke-width="3.4"/>
<path d="M732.7 327.2V334.8" stroke="rgb(138,43,226)" stroke-width="3.4"/>
<path d="M734.3 324.6V334.6" stroke="rgb(138,43,226)" stroke-width="3.4"/>
<path d="M684.3 321.9V372.7" stroke="rgb(138,43,226)" stroke-width="3.4"/>
<path d="M697.2 322.0V355.6" stroke="rgb(138,43,226)" stroke-width="3.4"/>
<path d="M714.4 320.3V328.8" stroke="rgb(138,43,226)" stroke-width="3.4"/>
<path d="M615.6 364.0h12.8M615.6 408.6h12.8" stroke="rgb(138,43,226)" stroke-width="2.2"/>
<path d="M626.6 336.9h12.8M626.6 365.1h12.8" stroke="rgb(138,43,226)" stroke-width="2.2"/>
<path d="M627.0 341.0h12.8M627.0 362.3h12.8" stroke="rgb(138,43,226)" stroke-width="2.2"/>
<path d="M628.3 347.7h12.8M628.3 354.9h12.8" stroke="rgb(138,43,226)" stroke-width="2.2"/>
<path d="M630.6 347.3h12.8M630.6 354.2h12.8" stroke="rgb(138,43,226)" stroke-width="2.2"/>
<path d="M633.6 347.0h12.8M633.6 355.1h12.8" stroke="rgb(138,43,226)" stroke-width="2.2"/>
<path d="M637.1 348.4h12.8M637.1 357.4h12.8" stroke="rgb(138,43,226)" stroke-width="2.2"/>
<path d="M641.1 348.6h12.8M641.1 357.4h12.8" stroke="rgb(138,43,226)" stroke-width="2.2"/>
<path d="M644.8 349.3h12.8M644.8 356.7h12.8" stroke="rgb(138,43,226)" stroke-width="2.2"/>
<path d="M648.7 346.8h12.8M648.7 357.3h12.8" stroke="rgb(138,43,226)" stroke-width="2.2"/>
<path d="M652.4 348.5h12.8M652.4 356.6h12.8" stroke="rgb(138,43,226)" stroke-width="2.2"/>
<path d="M656.4 345.3h12.8M656.4 356.3h12.8" stroke="rgb(138,43,226)" stroke-width="2.2"/>
<path d="M660.0 344.4h12.8M660.0 352.9h12.8" stroke="rgb(138,43,226)" stroke-width="2.2"/>
<path d="M663.5 342.6h12.8M663.5 349.5h12.8" stroke="rgb(138,43,226)" stroke-width="2.2"/>
<path d="M667.5 339.8h12.8M667.5 347.5h12.8" stroke="rgb(138,43,226)" stroke-width="2.2"/>
<path d="M669.0 349.3h12.8M669.0 357.4h12.8" stroke="rgb(138,43,226)" stroke-width="2.2"/>
<path d="M670.6 345.2h12.8M670.6 356.1h12.8" stroke="rgb(138,43,226)" stroke-width="2.2"/>
<path d="M672.1 347.0h12.8M672.1 357.2h12.8" stroke="rgb(138,43,226)" stroke-width="2.2"/>
<path d="M673.7 340.9h12.8M673.7 349.2h12.8" stroke="rgb(138,43,226)" stroke-width="2.2"/>
<path d="M675.2 342.2h12.8M675.2 349.5h12.8" stroke="rgb(138,43,226)" stroke-width="2.2"/>
<path d="M676.8 348.3h12.8M676.8 357.0h12.8" stroke="rgb(138,43,226)" stroke-width="2.2"/>
<path d="M678.3 338.9h12.8M678.3 347.5h12.8" stroke="rgb(138,43,226)" stroke-width="2.2"/>
<path d="M679.9 343.0h12.8M679.9 352.9h12.8" stroke="rgb(138,43,226)" stroke-width="2.2"/>
<path d="M681.4 341.2h12.8M681.4 349.6h12.8" stroke="rgb(138,43,226)" stroke-width="2.2"/>
<path d="M683.0 335.6h12.8M683.0 345.0h12.8" stroke="rgb(138,43,226)" stroke-width="2.2"/>
<path d="M684.5 342.6h12.8M684.5 352.6h12.8" stroke="rgb(138,43,226)" stroke-width="2.2"/>
<path d="M686.1 337.7h12.8M686.1 348.4h12.8" stroke="rgb(138,43,226)" stroke-width="2.2"/>
<path d="M687.6 335.7h12.8M687.6 343.6h12.8" stroke="rgb(138,43,226)" stroke-width="2.2"/>
<path d="M689.2 332.4h12.8M689.2 339.3h12.8" stroke="rgb(138,43,226)" stroke-width="2.2"/>
<path d="M690.7 337.8h12.8M690.7 348.2h12.8" stroke="rgb(138,43,226)" stroke-width="2.2"/>
<path d="M692.2 341.5h12.8M692.2 351.3h12.8" stroke="rgb(138,43,226)" stroke-width="2.2"/>
<path d="M693.8 342.1h12.8M693.8 353.0h12.8" stroke="rgb(138,43,226)" stroke-width="2.2"/>
<path d="M695.3 332.0h12.8M695.3 341.0h12.8" stroke="rgb(138,43,226)" stroke-width="2.2"/>
<path d="M696.9 330.5h12.8M696.9 338.3h12.8" stroke="rgb(138,43,226)" stroke-width="2.2"/>
<path d="M698.4 331.7h12.8M698.4 340.9h12.8" stroke="rgb(138,43,226)" stroke-width="2.2"/>
<path d="M700.0 332.8h12.8M700.0 341.7h12.8" stroke="rgb(138,43,226)" stroke-width="2.2"/>
<path d="M701.5 328.0h12.8M701.5 338.4h12.8" stroke="rgb(138,43,226)" stroke-width="2.2"/>
<path d="M703.1 332.6h12.8M703.1 342.5h12.8" stroke="rgb(138,43,226)" stroke-width="2.2"/>
<path d="M704.6 337.5h12.8M704.6 348.5h12.8" stroke="rgb(138,43,226)" stroke-width="2.2"/>
<path d="M706.2 328.4h12.8M706.2 339.3h12.8" stroke="rgb(138,43,226)" stroke-width="2.2"/>
<path d="M707.7 326.9h12.8M707.7 334.6h12.8" stroke="rgb(138,43,226)" stroke-width="2.2"/>
<path d="M709.3 331.1h12.8M709.3 341.2h12.8" stroke="rgb(138,43,226)" stroke-width="2.2"/>
<path d="M710.8 335.9h12.8M710.8 345.8h12.8" stroke="rgb(138,43,226)" stroke-width="2.2"/>
<path d="M712.4 333.9h12.8M712.4 341.9h12.8" stroke="rgb(138,43,226)" stroke-width="2.2"/>
<path d="M713.9 333.3h12.8M713.9 344.6h12.8" stroke="rgb(138,43,226)" stroke-width="2.2"/>
<path d="M715.5 332.7h12.8M715.5 341.4h12.8" stroke="rgb(138,43,226)" stroke-width="2.2"/>
<path d="M717.0 328.5h12.8M717.0 336.0h12.8" stroke="rgb(138,43,226)" stroke-width="2.2"/>
<path d="M718.6 327.8h12.8M718.6 339.1h12.8" stroke="rgb(138,43,226)" stroke-width="2.2"/>
<path d="M720.1 326.6h12.8M720.1 335.0h12.8" stroke="rgb(138,43,226)" stroke-width="2.2"/>
<path d="M721.7 327.3h12.8M721.7 338.8h12.8" stroke="rgb(138,43,226)" stroke-width="2.2"/>
<path d="M723.2 329.2h12.8M723.2 337.6h12.8" stroke="rgb(138,43,226)" stroke-width="2.2"/>
<path d="M724.8 327.2h12.8M724.8 337.0h12.8" stroke="rgb(138,43,226)" stroke-width="2.2"/>
<path d="M726.3 327.2h12.8M726.3 334.8h12.8" stroke="rgb(138,43,226)" stroke-width="2.2"/>
<path d="M727.9 324.6h12.8M727.9 334.6h12.8" stroke="rgb(138,43,226)" stroke-width="2.2"/>
<path d="M677.9 321.9h12.8M677.9 372.7h12.8" stroke="rgb(138,43,226)" stroke-width="2.2"/>
<path d="M690.8 322.0h12.8M690.8 355.6h12.8" stroke="rgb(138,43,226)" stroke-width="2.2"/>
<path d="M708.0 320.3h12.8M708.0 328.8h12.8" stroke="rgb(138,43,226)" stroke-width="2.2"/>
<path d="M800.4 256.5V270.6" stroke="rgb(139,69,19)" stroke-width="3.4"/>
<path d="M819.7 256.5V271.4" stroke="rgb(139,69,19)" stroke-width="3.4"/>
<path d="M831.7 235.4V249.8" stroke="rgb(139,69,19)" stroke-width="3.4"/>
<path d="M845.4 214.8V229.3" stroke="rgb(139,69,19)" stroke-width="3.4"/>
<path d="M794.0 256.5h12.8M794.0 270.6h12.8" stroke="rgb(139,69,19)" stroke-width="2.2"/>
<path d="M813.3 256.5h12.8M813.3 271.4h12.8" stroke="rgb(139,69,19)" stroke-width="2.2"/>
<path d="M825.3 235.4h12.8M825.3 249.8h12.8" stroke="rgb(139,69,19)" stroke-width="2.2"/>
<path d="M839.0 214.8h12.8M839.0 229.3h12.8" stroke="rgb(139,69,19)" stroke-width="2.2"/>
<path d="M756.1 313.8V315.6" stroke="rgb(255,0,0)" stroke-width="3.4"/>
<path d="M794.4 278.3V280.1" stroke="rgb(255,0,0)" stroke-width="3.4"/>
<path d="M815.7 256.1V257.9" stroke="rgb(255,0,0)" stroke-width="3.4"/>
<path d="M823.8 244.9V246.6" stroke="rgb(255,0,0)" stroke-width="3.4"/>
<path d="M831.1 239.2V241.0" stroke="rgb(255,0,0)" stroke-width="3.4"/>
<path d="M837.3 232.3V234.2" stroke="rgb(255,0,0)" stroke-width="3.4"/>
<path d="M842.9 222.3V224.0" stroke="rgb(255,0,0)" stroke-width="3.4"/>
<path d="M848.0 217.9V219.7" stroke="rgb(255,0,0)" stroke-width="3.4"/>
<path d="M852.7 212.9V214.7" stroke="rgb(255,0,0)" stroke-width="3.4"/>
<path d="M858.5 201.3V203.1" stroke="rgb(255,0,0)" stroke-width="3.4"/>
<path d="M860.9 200.7V202.5" stroke="rgb(255,0,0)" stroke-width="3.4"/>
<path d="M865.3 193.9V195.6" stroke="rgb(255,0,0)" stroke-width="3.4"/>
<path d="M867.3 191.7V193.5" stroke="rgb(255,0,0)" stroke-width="3.4"/>
<path d="M823.4 247.0V248.7" stroke="rgb(255,0,0)" stroke-width="3.4"/>
<path d="M830.9 237.9V239.6" stroke="rgb(255,0,0)" stroke-width="3.4"/>
<path d="M837.5 232.2V234.0" stroke="rgb(255,0,0)" stroke-width="3.4"/>
<path d="M842.1 222.9V224.6" stroke="rgb(255,0,0)" stroke-width="3.4"/>
<path d="M847.6 218.5V220.3" stroke="rgb(255,0,0)" stroke-width="3.4"/>
<path d="M853.4 209.8V211.5" stroke="rgb(255,0,0)" stroke-width="3.4"/>
<path d="M859.1 202.2V203.9" stroke="rgb(255,0,0)" stroke-width="3.4"/>
<path d="M861.1 200.8V202.6" stroke="rgb(255,0,0)" stroke-width="3.4"/>
<path d="M865.5 191.6V193.3" stroke="rgb(255,0,0)" stroke-width="3.4"/>
<path d="M867.4 189.5V191.2" stroke="rgb(255,0,0)" stroke-width="3.4"/>
<path d="M749.7 313.8h12.8M749.7 315.6h12.8" stroke="rgb(255,0,0)" stroke-width="2.2"/>
<path d="M788.0 278.3h12.8M788.0 280.1h12.8" stroke="rgb(255,0,0)" stroke-width="2.2"/>
<path d="M809.3 256.1h12.8M809.3 257.9h12.8" stroke="rgb(255,0,0)" stroke-width="2.2"/>
<path d="M817.4 244.9h12.8M817.4 246.6h12.8" stroke="rgb(255,0,0)" stroke-width="2.2"/>
<path d="M824.7 239.2h12.8M824.7 241.0h12.8" stroke="rgb(255,0,0)" stroke-width="2.2"/>
<path d="M830.9 232.3h12.8M830.9 234.2h12.8" stroke="rgb(255,0,0)" stroke-width="2.2"/>
<path d="M836.5 222.3h12.8M836.5 224.0h12.8" stroke="rgb(255,0,0)" stroke-width="2.2"/>
<path d="M841.6 217.9h12.8M841.6 219.7h12.8" stroke="rgb(255,0,0)" stroke-width="2.2"/>
<path d="M846.3 212.9h12.8M846.3 214.7h12.8" stroke="rgb(255,0,0)" stroke-width="2.2"/>
<path d="M852.1 201.3h12.8M852.1 203.1h12.8" stroke="rgb(255,0,0)" stroke-width="2.2"/>
<path d="M854.5 200.7h12.8M854.5 202.5h12.8" stroke="rgb(255,0,0)" stroke-width="2.2"/>
<path d="M858.9 193.9h12.8M858.9 195.6h12.8" stroke="rgb(255,0,0)" stroke-width="2.2"/>
<path d="M860.9 191.7h12.8M860.9 193.5h12.8" stroke="rgb(255,0,0)" stroke-width="2.2"/>
<path d="M817.0 247.0h12.8M817.0 248.7h12.8" stroke="rgb(255,0,0)" stroke-width="2.2"/>
<path d="M824.5 237.9h12.8M824.5 239.6h12.8" stroke="rgb(255,0,0)" stroke-width="2.2"/>
<path d="M831.1 232.2h12.8M831.1 234.0h12.8" stroke="rgb(255,0,0)" stroke-width="2.2"/>
<path d="M835.7 222.9h12.8M835.7 224.6h12.8" stroke="rgb(255,0,0)" stroke-width="2.2"/>
<path d="M841.2 218.5h12.8M841.2 220.3h12.8" stroke="rgb(255,0,0)" stroke-width="2.2"/>
<path d="M847.0 209.8h12.8M847.0 211.5h12.8" stroke="rgb(255,0,0)" stroke-width="2.2"/>
<path d="M852.7 202.2h12.8M852.7 203.9h12.8" stroke="rgb(255,0,0)" stroke-width="2.2"/>
<path d="M854.7 200.8h12.8M854.7 202.6h12.8" stroke="rgb(255,0,0)" stroke-width="2.2"/>
<path d="M859.1 191.6h12.8M859.1 193.3h12.8" stroke="rgb(255,0,0)" stroke-width="2.2"/>
<path d="M861.0 189.5h12.8M861.0 191.2h12.8" stroke="rgb(255,0,0)" stroke-width="2.2"/>
<path d="M693.6 344.3V346.3" stroke="rgb(255,165,0)" stroke-width="3.4"/>
<path d="M720.8 334.7V336.6" stroke="rgb(255,165,0)" stroke-width="3.4"/>
<path d="M738.5 318.2V320.0" stroke="rgb(255,165,0)" stroke-width="3.4"/>
<path d="M752.0 307.4V309.1" stroke="rgb(255,165,0)" stroke-width="3.4"/>
<path d="M762.7 298.8V300.4" stroke="rgb(255,165,0)" stroke-width="3.4"/>
<path d="M771.5 294.6V296.4" stroke="rgb(255,165,0)" stroke-width="3.4"/>
<path d="M779.1 296.2V298.1" stroke="rgb(255,165,0)" stroke-width="3.4"/>
<path d="M687.2 344.3h12.8M687.2 346.3h12.8" stroke="rgb(255,165,0)" stroke-width="2.2"/>
<path d="M714.4 334.7h12.8M714.4 336.6h12.8" stroke="rgb(255,165,0)" stroke-width="2.2"/>
<path d="M732.1 318.2h12.8M732.1 320.0h12.8" stroke="rgb(255,165,0)" stroke-width="2.2"/>
<path d="M745.6 307.4h12.8M745.6 309.1h12.8" stroke="rgb(255,165,0)" stroke-width="2.2"/>
<path d="M756.3 298.8h12.8M756.3 300.4h12.8" stroke="rgb(255,165,0)" stroke-width="2.2"/>
<path d="M765.1 294.6h12.8M765.1 296.4h12.8" stroke="rgb(255,165,0)" stroke-width="2.2"/>
<path d="M772.7 296.2h12.8M772.7 298.1h12.8" stroke="rgb(255,165,0)" stroke-width="2.2"/>
<path d="M815.7 250.4V276.0" stroke="rgb(0,0,255)" stroke-width="3.4"/>
<path d="M825.3 233.9V258.2" stroke="rgb(0,0,255)" stroke-width="3.4"/>
<path d="M844.3 202.9V226.6" stroke="rgb(0,0,255)" stroke-width="3.4"/>
<path d="M855.8 191.6V212.0" stroke="rgb(0,0,255)" stroke-width="3.4"/>
<path d="M809.3 250.4h12.8M809.3 276.0h12.8" stroke="rgb(0,0,255)" stroke-width="2.2"/>
<path d="M818.9 233.9h12.8M818.9 258.2h12.8" stroke="rgb(0,0,255)" stroke-width="2.2"/>
<path d="M837.9 202.9h12.8M837.9 226.6h12.8" stroke="rgb(0,0,255)" stroke-width="2.2"/>
<path d="M849.4 191.6h12.8M849.4 212.0h12.8" stroke="rgb(0,0,255)" stroke-width="2.2"/>
<path d="M867.1 184.4V198.6" stroke="rgb(192,192,192)" stroke-width="3.4"/>
<path d="M869.5 174.0V203.6" stroke="rgb(192,192,192)" stroke-width="3.4"/>
<path d="M879.9 151.5V163.8" stroke="rgb(192,192,192)" stroke-width="3.4"/>
<path d="M889.2 147.3V162.7" stroke="rgb(192,192,192)" stroke-width="3.4"/>
<path d="M889.2 156.1V179.5" stroke="rgb(192,192,192)" stroke-width="3.4"/>
<path d="M892.5 141.4V153.3" stroke="rgb(192,192,192)" stroke-width="3.4"/>
<path d="M895.4 138.2V150.4" stroke="rgb(192,192,192)" stroke-width="3.4"/>
<path d="M894.2 145.4V158.6" stroke="rgb(192,192,192)" stroke-width="3.4"/>
<path d="M904.9 117.9V127.2" stroke="rgb(192,192,192)" stroke-width="3.4"/>
<path d="M904.9 141.9V152.3" stroke="rgb(192,192,192)" stroke-width="3.4"/>
<path d="M917.7 68.8V119.3" stroke="rgb(192,192,192)" stroke-width="3.4"/>
<path d="M918.6 95.4V126.2" stroke="rgb(192,192,192)" stroke-width="3.4"/>
<path d="M930.8 60.8V104.4" stroke="rgb(192,192,192)" stroke-width="3.4"/>
<path d="M940.4 60.0V92.9" stroke="rgb(192,192,192)" stroke-width="3.4"/>
<path d="M943.4 51.2V83.4" stroke="rgb(192,192,192)" stroke-width="3.4"/>
<path d="M860.7 184.4h12.8M860.7 198.6h12.8" stroke="rgb(192,192,192)" stroke-width="2.2"/>
<path d="M863.1 174.0h12.8M863.1 203.6h12.8" stroke="rgb(192,192,192)" stroke-width="2.2"/>
<path d="M873.5 151.5h12.8M873.5 163.8h12.8" stroke="rgb(192,192,192)" stroke-width="2.2"/>
<path d="M882.8 147.3h12.8M882.8 162.7h12.8" stroke="rgb(192,192,192)" stroke-width="2.2"/>
<path d="M882.8 156.1h12.8M882.8 179.5h12.8" stroke="rgb(192,192,192)" stroke-width="2.2"/>
<path d="M886.1 141.4h12.8M886.1 153.3h12.8" stroke="rgb(192,192,192)" stroke-width="2.2"/>
<path d="M889.0 138.2h12.8M889.0 150.4h12.8" stroke="rgb(192,192,192)" stroke-width="2.2"/>
<path d="M887.8 145.4h12.8M887.8 158.6h12.8" stroke="rgb(192,192,192)" stroke-width="2.2"/>
<path d="M898.5 117.9h12.8M898.5 127.2h12.8" stroke="rgb(192,192,192)" stroke-width="2.2"/>
<path d="M898.5 141.9h12.8M898.5 152.3h12.8" stroke="rgb(192,192,192)" stroke-width="2.2"/>
<path d="M911.3 68.8h12.8M911.3 119.3h12.8" stroke="rgb(192,192,192)" stroke-width="2.2"/>
<path d="M912.2 95.4h12.8M912.2 126.2h12.8" stroke="rgb(192,192,192)" stroke-width="2.2"/>
<path d="M924.4 60.8h12.8M924.4 104.4h12.8" stroke="rgb(192,192,192)" stroke-width="2.2"/>
<path d="M934.0 60.0h12.8M934.0 92.9h12.8" stroke="rgb(192,192,192)" stroke-width="2.2"/>
<path d="M937.0 51.2h12.8M937.0 83.4h12.8" stroke="rgb(192,192,192)" stroke-width="2.2"/>
<path d="M914.4 105.1V119.2" stroke="rgb(0,128,0)" stroke-width="3.4"/>
<path d="M915.1 107.3V122.1" stroke="rgb(0,128,0)" stroke-width="3.4"/>
<path d="M915.8 108.3V123.6" stroke="rgb(0,128,0)" stroke-width="3.4"/>
<path d="M960.6 37.3V46.8" stroke="rgb(0,128,0)" stroke-width="3.4"/>
<path d="M962.3 36.3V46.0" stroke="rgb(0,128,0)" stroke-width="3.4"/>
<path d="M908.0 105.1h12.8M908.0 119.2h12.8" stroke="rgb(0,128,0)" stroke-width="2.2"/>
<path d="M908.7 107.3h12.8M908.7 122.1h12.8" stroke="rgb(0,128,0)" stroke-width="2.2"/>
<path d="M909.4 108.3h12.8M909.4 123.6h12.8" stroke="rgb(0,128,0)" stroke-width="2.2"/>
<path d="M954.2 37.3h12.8M954.2 46.8h12.8" stroke="rgb(0,128,0)" stroke-width="2.2"/>
<path d="M955.9 36.3h12.8M955.9 46.0h12.8" stroke="rgb(0,128,0)" stroke-width="2.2"/>
<g stroke="rgb(138,43,226)" stroke-width="2.2">
<circle cx="622.0" cy="382.9" r="6.5"/>
<circle cx="633.0" cy="349.6" r="6.5"/>
<circle cx="633.4" cy="350.9" r="6.5"/>
<circle cx="634.7" cy="351.2" r="6.5"/>
<circle cx="637.0" cy="350.7" r="6.5"/>
<circle cx="640.0" cy="350.9" r="6.5"/>
<circle cx="643.5" cy="352.7" r="6.5"/>
<circle cx="647.5" cy="352.9" r="6.5"/>
<circle cx="651.2" cy="352.9" r="6.5"/>
<circle cx="655.1" cy="351.9" r="6.5"/>
<circle cx="658.8" cy="352.4" r="6.5"/>
<circle cx="662.8" cy="350.6" r="6.5"/>
<circle cx="666.4" cy="348.5" r="6.5"/>
<circle cx="669.9" cy="346.0" r="6.5"/>
<circle cx="673.9" cy="343.6" r="6.5"/>
<circle cx="675.4" cy="353.3" r="6.5"/>
<circle cx="677.0" cy="350.4" r="6.5"/>
<circle cx="678.5" cy="351.9" r="6.5"/>
<circle cx="680.1" cy="344.9" r="6.5"/>
<circle cx="681.6" cy="345.8" r="6.5"/>
<circle cx="683.2" cy="352.5" r="6.5"/>
<circle cx="684.7" cy="343.1" r="6.5"/>
<circle cx="686.3" cy="347.8" r="6.5"/>
<circle cx="687.8" cy="345.3" r="6.5"/>
<circle cx="689.4" cy="340.2" r="6.5"/>
<circle cx="690.9" cy="347.4" r="6.5"/>
<circle cx="692.5" cy="342.9" r="6.5"/>
<circle cx="694.0" cy="339.5" r="6.5"/>
<circle cx="695.6" cy="335.7" r="6.5"/>
<circle cx="697.1" cy="342.8" r="6.5"/>
<circle cx="698.6" cy="346.2" r="6.5"/>
<circle cx="700.2" cy="347.4" r="6.5"/>
<circle cx="701.7" cy="336.4" r="6.5"/>
<circle cx="703.3" cy="334.3" r="6.5"/>
<circle cx="704.8" cy="336.1" r="6.5"/>
<circle cx="706.4" cy="337.1" r="6.5"/>
<circle cx="707.9" cy="333.0" r="6.5"/>
<circle cx="709.5" cy="337.4" r="6.5"/>
<circle cx="711.0" cy="342.8" r="6.5"/>
<circle cx="712.6" cy="333.7" r="6.5"/>
<circle cx="714.1" cy="330.6" r="6.5"/>
<circle cx="715.7" cy="336.0" r="6.5"/>
<circle cx="717.2" cy="340.7" r="6.5"/>
<circle cx="718.8" cy="337.8" r="6.5"/>
<circle cx="720.3" cy="338.7" r="6.5"/>
<circle cx="721.9" cy="336.9" r="6.5"/>
<circle cx="723.4" cy="332.2" r="6.5"/>
<circle cx="725.0" cy="333.3" r="6.5"/>
<circle cx="726.5" cy="330.7" r="6.5"/>
<circle cx="728.1" cy="332.8" r="6.5"/>
<circle cx="729.6" cy="333.3" r="6.5"/>
<circle cx="731.2" cy="331.9" r="6.5"/>
<circle cx="732.7" cy="330.9" r="6.5"/>
<circle cx="734.3" cy="329.4" r="6.5"/>
<circle cx="684.3" cy="342.9" r="6.5"/>
<circle cx="697.2" cy="336.9" r="6.5"/>
<circle cx="714.4" cy="324.4" r="6.5"/>
</g>
<g stroke="rgb(139,69,19)" stroke-width="2.2">
<rect x="794.2" y="257.0" width="12.4" height="12.4"/>
<rect x="813.5" y="257.4" width="12.4" height="12.4"/>
<rect x="825.5" y="236.1" width="12.4" height="12.4"/>
<rect x="839.2" y="215.5" width="12.4" height="12.4"/>
</g>
<g stroke="rgb(255,0,0)" stroke-width="2.2">
<polygon points="756.1,305.7 765.1,314.7 756.1,323.7 747.1,314.7"/>
<polygon points="794.4,270.2 803.4,279.2 794.4,288.2 785.4,279.2"/>
<polygon points="815.7,248.0 824.7,257.0 815.7,266.0 806.7,257.0"/>
<polygon points="823.8,236.7 832.8,245.7 823.8,254.7 814.8,245.7"/>
<polygon points="831.1,231.1 840.1,240.1 831.1,249.1 822.1,240.1"/>
<polygon points="837.3,224.2 846.3,233.2 837.3,242.2 828.3,233.2"/>
<polygon points="842.9,214.1 851.9,223.1 842.9,232.1 833.9,223.1"/>
<polygon points="848.0,209.8 857.0,218.8 848.0,227.8 839.0,218.8"/>
<polygon points="852.7,204.8 861.7,213.8 852.7,222.8 843.7,213.8"/>
<polygon points="858.5,193.2 867.5,202.2 858.5,211.2 849.5,202.2"/>
<polygon points="860.9,192.5 869.9,201.5 860.9,210.5 851.9,201.5"/>
<polygon points="865.3,185.7 874.3,194.7 865.3,203.7 856.3,194.7"/>
<polygon points="867.3,183.6 876.3,192.6 867.3,201.6 858.3,192.6"/>
<polygon points="823.4,238.9 832.4,247.9 823.4,256.9 814.4,247.9"/>
<polygon points="830.9,229.7 839.9,238.7 830.9,247.7 821.9,238.7"/>
<polygon points="837.5,224.1 846.5,233.1 837.5,242.1 828.5,233.1"/>
<polygon points="842.1,214.8 851.1,223.8 842.1,232.8 833.1,223.8"/>
<polygon points="847.6,210.4 856.6,219.4 847.6,228.4 838.6,219.4"/>
<polygon points="853.4,201.6 862.4,210.6 853.4,219.6 844.4,210.6"/>
<polygon points="859.1,194.0 868.1,203.0 859.1,212.0 850.1,203.0"/>
<polygon points="861.1,192.7 870.1,201.7 861.1,210.7 852.1,201.7"/>
<polygon points="865.5,183.5 874.5,192.5 865.5,201.5 856.5,192.5"/>
<polygon points="867.4,181.4 876.4,190.4 867.4,199.4 858.4,190.4"/>
</g>
<g stroke="rgb(255,165,0)" stroke-width="2.2">
<polygon points="693.6,338.5 700.1,343.2 697.6,350.8 689.6,350.8 687.1,343.2"/>
<polygon points="720.8,328.8 727.3,333.5 724.8,341.1 716.8,341.1 714.4,333.5"/>
<polygon points="738.5,312.3 745.0,317.0 742.5,324.6 734.5,324.6 732.1,317.0"/>
<polygon points="752.0,301.5 758.4,306.2 756.0,313.8 748.0,313.8 745.5,306.2"/>
<polygon points="762.7,292.8 769.2,297.5 766.7,305.1 758.7,305.1 756.2,297.5"/>
<polygon points="771.5,288.7 777.9,293.4 775.5,301.0 767.5,301.0 765.0,293.4"/>
<polygon points="779.1,290.3 785.6,295.0 783.1,302.6 775.1,302.6 772.7,295.0"/>
</g>
<g stroke="rgb(0,0,255)" stroke-width="2.2">
<polygon points="822.5,262.1 819.1,256.2 812.3,256.2 808.9,262.1 812.3,268.0 819.1,268.0"/>
<polygon points="832.1,245.0 828.7,239.1 821.9,239.1 818.5,245.0 821.9,250.9 828.7,250.9"/>
<polygon points="851.1,213.7 847.7,207.9 840.9,207.9 837.5,213.7 840.9,219.6 847.7,219.6"/>
<polygon points="862.6,201.1 859.2,195.2 852.4,195.2 849.0,201.1 852.4,207.0 859.2,207.0"/>
</g>
<g stroke="rgb(192,192,192)" stroke-width="2.2">
<polygon points="867.1,185.2 868.5,189.3 872.9,189.3 869.3,191.9 870.7,196.0 867.1,193.5 863.6,196.0 865.0,191.9 861.4,189.3 865.8,189.3" stroke-linejoin="round"/>
<polygon points="869.5,181.3 870.9,185.4 875.2,185.4 871.7,188.0 873.1,192.1 869.5,189.6 866.0,192.1 867.3,188.0 863.8,185.4 868.2,185.4" stroke-linejoin="round"/>
<polygon points="879.9,151.4 881.2,155.5 885.6,155.5 882.1,158.1 883.4,162.2 879.9,159.7 876.4,162.2 877.7,158.1 874.2,155.5 878.5,155.5" stroke-linejoin="round"/>
<polygon points="889.2,148.6 890.6,152.7 894.9,152.7 891.4,155.3 892.8,159.4 889.2,156.9 885.7,159.4 887.1,155.3 883.5,152.7 887.9,152.7" stroke-linejoin="round"/>
<polygon points="889.2,160.9 890.6,165.0 894.9,165.0 891.4,167.6 892.8,171.7 889.2,169.2 885.7,171.7 887.1,167.6 883.5,165.0 887.9,165.0" stroke-linejoin="round"/>
<polygon points="892.5,141.1 893.8,145.2 898.2,145.2 894.7,147.8 896.0,151.9 892.5,149.4 889.0,151.9 890.3,147.8 886.8,145.2 891.1,145.2" stroke-linejoin="round"/>
<polygon points="895.4,138.1 896.8,142.2 901.1,142.2 897.6,144.8 898.9,148.9 895.4,146.4 891.9,148.9 893.2,144.8 889.7,142.2 894.1,142.2" stroke-linejoin="round"/>
<polygon points="894.2,145.7 895.6,149.9 899.9,149.9 896.4,152.4 897.7,156.6 894.2,154.0 890.7,156.6 892.0,152.4 888.5,149.9 892.9,149.9" stroke-linejoin="round"/>
<polygon points="904.9,116.4 906.2,120.5 910.6,120.5 907.1,123.1 908.4,127.2 904.9,124.7 901.4,127.2 902.7,123.1 899.2,120.5 903.5,120.5" stroke-linejoin="round"/>
<polygon points="904.9,140.9 906.2,145.0 910.6,145.0 907.1,147.6 908.4,151.7 904.9,149.2 901.4,151.7 902.7,147.6 899.2,145.0 903.5,145.0" stroke-linejoin="round"/>
<polygon points="917.7,83.7 919.0,87.9 923.4,87.9 919.9,90.4 921.2,94.6 917.7,92.0 914.2,94.6 915.5,90.4 912.0,87.9 916.3,87.9" stroke-linejoin="round"/>
<polygon points="918.6,103.2 920.0,107.3 924.3,107.3 920.8,109.9 922.1,114.1 918.6,111.5 915.1,114.1 916.4,109.9 912.9,107.3 917.3,107.3" stroke-linejoin="round"/>
<polygon points="930.8,73.4 932.2,77.5 936.5,77.5 933.0,80.1 934.3,84.2 930.8,81.7 927.3,84.2 928.6,80.1 925.1,77.5 929.5,77.5" stroke-linejoin="round"/>
<polygon points="940.4,68.6 941.8,72.7 946.1,72.7 942.6,75.3 943.9,79.4 940.4,76.9 936.9,79.4 938.2,75.3 934.7,72.7 939.1,72.7" stroke-linejoin="round"/>
<polygon points="943.4,59.5 944.7,63.7 949.1,63.7 945.6,66.2 946.9,70.4 943.4,67.8 939.9,70.4 941.2,66.2 937.7,63.7 942.0,63.7" stroke-linejoin="round"/>
</g>
<g stroke="rgb(0,128,0)" stroke-width="2.2">
<polygon points="914.4,102.8 919.8,111.8 914.4,120.8 909.0,111.8"/>
<polygon points="915.1,105.3 920.5,114.3 915.1,123.3 909.7,114.3"/>
<polygon points="915.8,106.5 921.2,115.5 915.8,124.5 910.4,115.5"/>
<polygon points="960.6,32.9 966.0,41.9 960.6,50.9 955.2,41.9"/>
<polygon points="962.3,32.0 967.7,41.0 962.3,50.0 956.9,41.0"/>
</g>
</g>
</g>
<g clip-path="url(#cbl)">
<line x1="109.60" y1="505.60" x2="298.04" y2="505.60" stroke="#141414" stroke-width="1.9"/>
<line x1="109.60" y1="505.10" x2="298.04" y2="505.10" stroke="#999" stroke-width="0.5" stroke-dasharray="1 1"/>
<line x1="298.04" y1="505.60" x2="537.05" y2="505.60" stroke="#000" stroke-width="2.5"/>
<g stroke-opacity="1.00" fill-opacity="1.00" fill="none">
<path d="M183.4 509.6V535.9M194.4 485.1V511.4M194.7 489.7V509.3M196.0 496.6V503.2M198.4 496.5V502.9M201.4 496.6V504.0M204.9 498.4V506.4M208.8 499.2V506.9M212.5 500.4V506.8M216.5 498.8V507.9M220.2 500.9V507.8M224.1 498.7V508.3M227.8 498.6V506.1M231.2 497.6V503.9M235.2 495.8V503.0M236.8 504.8V511.4M238.3 501.5V510.7M239.9 503.5V511.8M241.4 498.3V505.8M243.0 500.0V506.4M244.5 505.7V512.6M246.1 497.7V505.4M247.6 501.9V510.2M249.2 500.7V507.9M250.7 495.8V504.5M252.3 502.8V511.0M253.8 498.8V508.1M255.4 497.4V504.5M256.9 494.6V501.2M258.5 500.3V509.2M260.0 504.1V512.0M261.5 505.1V513.7M263.1 496.4V504.6M264.6 495.5V502.8M266.2 497.2V505.5M267.7 498.9V506.7M269.3 494.8V504.4M270.8 499.8V508.4M272.4 504.8V513.5M273.9 497.1V506.8M275.5 496.2V503.4M277.0 500.9V509.4M278.6 505.7V513.5M280.1 504.6V511.1M281.7 504.7V513.6M283.2 504.8V511.8M284.8 501.8V508.2M286.3 501.9V511.3M287.9 501.5V508.6M289.4 502.8V512.2M291.0 505.1V511.9M292.5 504.2V512.1M294.1 504.9V511.1M295.6 503.4V511.6M245.7 479.3V523.3M258.5 484.2V514.8M275.8 489.7V498.3" stroke="rgb(138,43,226)" stroke-width="3.4"/>
<path d="M177.0 509.6h12.8M177.0 535.9h12.8M188.0 485.1h12.8M188.0 511.4h12.8M188.3 489.7h12.8M188.3 509.3h12.8M189.6 496.6h12.8M189.6 503.2h12.8M192.0 496.5h12.8M192.0 502.9h12.8M195.0 496.6h12.8M195.0 504.0h12.8M198.5 498.4h12.8M198.5 506.4h12.8M202.4 499.2h12.8M202.4 506.9h12.8M206.1 500.4h12.8M206.1 506.8h12.8M210.1 498.8h12.8M210.1 507.9h12.8M213.8 500.9h12.8M213.8 507.8h12.8M217.7 498.7h12.8M217.7 508.3h12.8M221.4 498.6h12.8M221.4 506.1h12.8M224.8 497.6h12.8M224.8 503.9h12.8M228.8 495.8h12.8M228.8 503.0h12.8M230.4 504.8h12.8M230.4 511.4h12.8M231.9 501.5h12.8M231.9 510.7h12.8M233.5 503.5h12.8M233.5 511.8h12.8M235.0 498.3h12.8M235.0 505.8h12.8M236.6 500.0h12.8M236.6 506.4h12.8M238.1 505.7h12.8M238.1 512.6h12.8M239.7 497.7h12.8M239.7 505.4h12.8M241.2 501.9h12.8M241.2 510.2h12.8M242.8 500.7h12.8M242.8 507.9h12.8M244.3 495.8h12.8M244.3 504.5h12.8M245.9 502.8h12.8M245.9 511.0h12.8M247.4 498.8h12.8M247.4 508.1h12.8M249.0 497.4h12.8M249.0 504.5h12.8M250.5 494.6h12.8M250.5 501.2h12.8M252.1 500.3h12.8M252.1 509.2h12.8M253.6 504.1h12.8M253.6 512.0h12.8M255.1 505.1h12.8M255.1 513.7h12.8M256.7 496.4h12.8M256.7 504.6h12.8M258.2 495.5h12.8M258.2 502.8h12.8M259.8 497.2h12.8M259.8 505.5h12.8M261.3 498.9h12.8M261.3 506.7h12.8M262.9 494.8h12.8M262.9 504.4h12.8M264.4 499.8h12.8M264.4 508.4h12.8M266.0 504.8h12.8M266.0 513.5h12.8M267.5 497.1h12.8M267.5 506.8h12.8M269.1 496.2h12.8M269.1 503.4h12.8M270.6 500.9h12.8M270.6 509.4h12.8M272.2 505.7h12.8M272.2 513.5h12.8M273.7 504.6h12.8M273.7 511.1h12.8M275.3 504.7h12.8M275.3 513.6h12.8M276.8 504.8h12.8M276.8 511.8h12.8M278.4 501.8h12.8M278.4 508.2h12.8M279.9 501.9h12.8M279.9 511.3h12.8M281.5 501.5h12.8M281.5 508.6h12.8M283.0 502.8h12.8M283.0 512.2h12.8M284.6 505.1h12.8M284.6 511.9h12.8M286.1 504.2h12.8M286.1 512.1h12.8M287.7 504.9h12.8M287.7 511.1h12.8M289.2 503.4h12.8M289.2 511.6h12.8M239.3 479.3h12.8M239.3 523.3h12.8M252.1 484.2h12.8M252.1 514.8h12.8M269.4 489.7h12.8M269.4 498.3h12.8" stroke="rgb(138,43,226)" stroke-width="2.2"/>
<path d="M361.7 500.9V512.5M381.1 517.4V526.5M393.1 512.3V522.1M406.7 509.6V520.0" stroke="rgb(139,69,19)" stroke-width="3.4"/>
<path d="M355.3 500.9h12.8M355.3 512.5h12.8M374.7 517.4h12.8M374.7 526.5h12.8M386.7 512.3h12.8M386.7 522.1h12.8M400.3 509.6h12.8M400.3 520.0h12.8" stroke="rgb(139,69,19)" stroke-width="2.2"/>
<path d="M317.4 508.5V510.0M355.8 506.0V507.4M377.0 506.0V507.4M385.2 504.3V505.7M392.4 506.7V508.2M398.6 507.3V508.8M404.3 504.9V506.3M409.3 506.7V508.2M414.0 507.6V509.1M419.9 504.6V506.0M422.2 506.7V508.2M426.6 506.1V507.6M428.7 506.7V508.2M384.7 505.6V507.1M392.2 505.4V506.9M398.8 507.4V508.8M403.5 504.5V506.0M409.0 506.8V508.2M414.8 505.9V507.4M420.4 505.9V507.3M422.5 507.1V508.5M426.8 504.4V505.9M428.7 504.9V506.4" stroke="rgb(255,0,0)" stroke-width="3.4"/>
<path d="M311.0 508.5h12.8M311.0 510.0h12.8M349.4 506.0h12.8M349.4 507.4h12.8M370.6 506.0h12.8M370.6 507.4h12.8M378.8 504.3h12.8M378.8 505.7h12.8M386.0 506.7h12.8M386.0 508.2h12.8M392.2 507.3h12.8M392.2 508.8h12.8M397.9 504.9h12.8M397.9 506.3h12.8M402.9 506.7h12.8M402.9 508.2h12.8M407.6 507.6h12.8M407.6 509.1h12.8M413.5 504.6h12.8M413.5 506.0h12.8M415.8 506.7h12.8M415.8 508.2h12.8M420.2 506.1h12.8M420.2 507.6h12.8M422.3 506.7h12.8M422.3 508.2h12.8M378.3 505.6h12.8M378.3 507.1h12.8M385.8 505.4h12.8M385.8 506.9h12.8M392.4 507.4h12.8M392.4 508.8h12.8M397.1 504.5h12.8M397.1 506.0h12.8M402.6 506.8h12.8M402.6 508.2h12.8M408.4 505.9h12.8M408.4 507.4h12.8M414.0 505.9h12.8M414.0 507.3h12.8M416.1 507.1h12.8M416.1 508.5h12.8M420.4 504.4h12.8M420.4 505.9h12.8M422.3 504.9h12.8M422.3 506.4h12.8" stroke="rgb(255,0,0)" stroke-width="2.2"/>
<path d="M254.9 510.4V511.8M282.2 511.3V512.8M299.9 505.6V507.1M313.3 503.6V505.1M324.0 502.8V504.3M332.8 505.2V506.6M340.5 511.6V513.1" stroke="rgb(255,165,0)" stroke-width="3.4"/>
<path d="M248.5 510.4h12.8M248.5 511.8h12.8M275.8 511.3h12.8M275.8 512.8h12.8M293.5 505.6h12.8M293.5 507.1h12.8M306.9 503.6h12.8M306.9 505.1h12.8M317.6 502.8h12.8M317.6 504.3h12.8M326.4 505.2h12.8M326.4 506.6h12.8M334.1 511.6h12.8M334.1 513.1h12.8" stroke="rgb(255,165,0)" stroke-width="2.2"/>
<path d="M377.1 501.0V520.6M386.7 495.8V516.0M405.6 487.7V509.8M417.2 492.0V510.3" stroke="rgb(0,0,255)" stroke-width="3.4"/>
<path d="M370.7 501.0h12.8M370.7 520.6h12.8M380.3 495.8h12.8M380.3 516.0h12.8M399.2 487.7h12.8M399.2 509.8h12.8M410.8 492.0h12.8M410.8 510.3h12.8" stroke="rgb(0,0,255)" stroke-width="2.2"/>
<path d="M428.5 477.4V493.4M430.9 468.3V501.3M441.2 457.6V474.7M450.6 471.3V489.7M450.6 482.3V505.6M453.8 470.1V484.8M456.8 471.9V486.6M455.6 478.7V493.4M466.2 464.6V476.8M466.2 493.4V503.2M479.0 415.6V491.5M480.0 464.3V499.8M492.2 442.1V498.4M501.8 466.1V502.8M504.7 460.9V498.9" stroke="rgb(192,192,192)" stroke-width="3.4"/>
<path d="M422.1 477.4h12.8M422.1 493.4h12.8M424.5 468.3h12.8M424.5 501.3h12.8M434.8 457.6h12.8M434.8 474.7h12.8M444.2 471.3h12.8M444.2 489.7h12.8M444.2 482.3h12.8M444.2 505.6h12.8M447.4 470.1h12.8M447.4 484.8h12.8M450.4 471.9h12.8M450.4 486.6h12.8M449.2 478.7h12.8M449.2 493.4h12.8M459.8 464.6h12.8M459.8 476.8h12.8M459.8 493.4h12.8M459.8 503.2h12.8M472.6 415.6h12.8M472.6 491.5h12.8M473.6 464.3h12.8M473.6 499.8h12.8M485.8 442.1h12.8M485.8 498.4h12.8M495.4 466.1h12.8M495.4 502.8h12.8M498.3 460.9h12.8M498.3 498.9h12.8" stroke="rgb(192,192,192)" stroke-width="2.2"/>
<path d="M475.8 497.6V509.9M476.5 500.7V512.9M477.1 502.5V514.8M521.9 506.8V514.2M523.7 508.4V515.7" stroke="rgb(0,128,0)" stroke-width="3.4"/>
<path d="M469.4 497.6h12.8M469.4 509.9h12.8M470.1 500.7h12.8M470.1 512.9h12.8M470.7 502.5h12.8M470.7 514.8h12.8M515.5 506.8h12.8M515.5 514.2h12.8M517.3 508.4h12.8M517.3 515.7h12.8" stroke="rgb(0,128,0)" stroke-width="2.2"/>
<g stroke="rgb(138,43,226)" stroke-width="2.2">
<circle cx="183.4" cy="522.7" r="6.5"/>
<circle cx="194.4" cy="498.3" r="6.5"/>
<circle cx="194.7" cy="499.5" r="6.5"/>
<circle cx="196.0" cy="499.9" r="6.5"/>
<circle cx="198.4" cy="499.7" r="6.5"/>
<circle cx="201.4" cy="500.3" r="6.5"/>
<circle cx="204.9" cy="502.4" r="6.5"/>
<circle cx="208.8" cy="503.1" r="6.5"/>
<circle cx="212.5" cy="503.6" r="6.5"/>
<circle cx="216.5" cy="503.3" r="6.5"/>
<circle cx="220.2" cy="504.4" r="6.5"/>
<circle cx="224.1" cy="503.5" r="6.5"/>
<circle cx="227.8" cy="502.4" r="6.5"/>
<circle cx="231.2" cy="500.8" r="6.5"/>
<circle cx="235.2" cy="499.4" r="6.5"/>
<circle cx="236.8" cy="508.1" r="6.5"/>
<circle cx="238.3" cy="506.1" r="6.5"/>
<circle cx="239.9" cy="507.7" r="6.5"/>
<circle cx="241.4" cy="502.1" r="6.5"/>
<circle cx="243.0" cy="503.2" r="6.5"/>
<circle cx="244.5" cy="509.2" r="6.5"/>
<circle cx="246.1" cy="501.6" r="6.5"/>
<circle cx="247.6" cy="506.0" r="6.5"/>
<circle cx="249.2" cy="504.3" r="6.5"/>
<circle cx="250.7" cy="500.2" r="6.5"/>
<circle cx="252.3" cy="506.9" r="6.5"/>
<circle cx="253.8" cy="503.5" r="6.5"/>
<circle cx="255.4" cy="501.0" r="6.5"/>
<circle cx="256.9" cy="497.9" r="6.5"/>
<circle cx="258.5" cy="504.8" r="6.5"/>
<circle cx="260.0" cy="508.0" r="6.5"/>
<circle cx="261.5" cy="509.4" r="6.5"/>
<circle cx="263.1" cy="500.5" r="6.5"/>
<circle cx="264.6" cy="499.2" r="6.5"/>
<circle cx="266.2" cy="501.4" r="6.5"/>
<circle cx="267.7" cy="502.8" r="6.5"/>
<circle cx="269.3" cy="499.6" r="6.5"/>
<circle cx="270.8" cy="504.1" r="6.5"/>
<circle cx="272.4" cy="509.1" r="6.5"/>
<circle cx="273.9" cy="502.0" r="6.5"/>
<circle cx="275.5" cy="499.8" r="6.5"/>
<circle cx="277.0" cy="505.2" r="6.5"/>
<circle cx="278.6" cy="509.6" r="6.5"/>
<circle cx="280.1" cy="507.8" r="6.5"/>
<circle cx="281.7" cy="509.2" r="6.5"/>
<circle cx="283.2" cy="508.3" r="6.5"/>
<circle cx="284.8" cy="505.0" r="6.5"/>
<circle cx="286.3" cy="506.6" r="6.5"/>
<circle cx="287.9" cy="505.0" r="6.5"/>
<circle cx="289.4" cy="507.5" r="6.5"/>
<circle cx="291.0" cy="508.5" r="6.5"/>
<circle cx="292.5" cy="508.1" r="6.5"/>
<circle cx="294.1" cy="508.0" r="6.5"/>
<circle cx="295.6" cy="507.5" r="6.5"/>
<circle cx="245.7" cy="501.3" r="6.5"/>
<circle cx="258.5" cy="499.5" r="6.5"/>
<circle cx="275.8" cy="494.0" r="6.5"/>
</g>
<g stroke="rgb(139,69,19)" stroke-width="2.2">
<rect x="355.5" y="500.5" width="12.4" height="12.4"/>
<rect x="374.9" y="515.7" width="12.4" height="12.4"/>
<rect x="386.9" y="511.0" width="12.4" height="12.4"/>
<rect x="400.5" y="508.6" width="12.4" height="12.4"/>
</g>
<g stroke="rgb(255,0,0)" stroke-width="2.2">
<polygon points="317.4,500.3 326.4,509.3 317.4,518.3 308.4,509.3"/>
<polygon points="355.8,497.7 364.8,506.7 355.8,515.7 346.8,506.7"/>
<polygon points="377.0,497.7 386.0,506.7 377.0,515.7 368.0,506.7"/>
<polygon points="385.2,496.0 394.2,505.0 385.2,514.0 376.2,505.0"/>
<polygon points="392.4,498.4 401.4,507.4 392.4,516.4 383.4,507.4"/>
<polygon points="398.6,499.0 407.6,508.0 398.6,517.0 389.6,508.0"/>
<polygon points="404.3,496.6 413.3,505.6 404.3,514.6 395.3,505.6"/>
<polygon points="409.3,498.4 418.3,507.4 409.3,516.4 400.3,507.4"/>
<polygon points="414.0,499.4 423.0,508.4 414.0,517.4 405.0,508.4"/>
<polygon points="419.9,496.3 428.9,505.3 419.9,514.3 410.9,505.3"/>
<polygon points="422.2,498.4 431.2,507.4 422.2,516.4 413.2,507.4"/>
<polygon points="426.6,497.8 435.6,506.8 426.6,515.8 417.6,506.8"/>
<polygon points="428.7,498.4 437.7,507.4 428.7,516.4 419.7,507.4"/>
<polygon points="384.7,497.4 393.7,506.4 384.7,515.4 375.7,506.4"/>
<polygon points="392.2,497.1 401.2,506.1 392.2,515.1 383.2,506.1"/>
<polygon points="398.8,499.1 407.8,508.1 398.8,517.1 389.8,508.1"/>
<polygon points="403.5,496.3 412.5,505.3 403.5,514.3 394.5,505.3"/>
<polygon points="409.0,498.5 418.0,507.5 409.0,516.5 400.0,507.5"/>
<polygon points="414.8,497.6 423.8,506.6 414.8,515.6 405.8,506.6"/>
<polygon points="420.4,497.6 429.4,506.6 420.4,515.6 411.4,506.6"/>
<polygon points="422.5,498.8 431.5,507.8 422.5,516.8 413.5,507.8"/>
<polygon points="426.8,496.2 435.8,505.2 426.8,514.2 417.8,505.2"/>
<polygon points="428.7,496.6 437.7,505.6 428.7,514.6 419.7,505.6"/>
</g>
<g stroke="rgb(255,165,0)" stroke-width="2.2">
<polygon points="254.9,504.3 261.4,509.0 258.9,516.6 250.9,516.6 248.5,509.0"/>
<polygon points="282.2,505.2 288.7,509.9 286.2,517.5 278.2,517.5 275.7,509.9"/>
<polygon points="299.9,499.5 306.4,504.2 303.9,511.8 295.9,511.8 293.4,504.2"/>
<polygon points="313.3,497.6 319.8,502.3 317.3,509.9 309.3,509.9 306.9,502.3"/>
<polygon points="324.0,496.7 330.5,501.4 328.0,509.0 320.0,509.0 317.6,501.4"/>
<polygon points="332.8,499.1 339.3,503.8 336.8,511.4 328.8,511.4 326.4,503.8"/>
<polygon points="340.5,505.5 346.9,510.2 344.5,517.8 336.5,517.8 334.0,510.2"/>
</g>
<g stroke="rgb(0,0,255)" stroke-width="2.2">
<polygon points="383.9,510.8 380.5,504.9 373.7,504.9 370.3,510.8 373.7,516.7 380.5,516.7"/>
<polygon points="393.5,505.9 390.1,500.0 383.3,500.0 379.9,505.9 383.3,511.8 390.1,511.8"/>
<polygon points="412.4,498.7 409.0,492.9 402.2,492.9 398.8,498.7 402.2,504.6 409.0,504.6"/>
<polygon points="424.0,501.1 420.6,495.2 413.8,495.2 410.4,501.1 413.8,507.0 420.6,507.0"/>
</g>
<g stroke="rgb(192,192,192)" stroke-width="2.2">
<polygon points="428.5,479.4 429.8,483.5 434.2,483.5 430.7,486.1 432.0,490.3 428.5,487.7 425.0,490.3 426.3,486.1 422.8,483.5 427.2,483.5" stroke-linejoin="round"/>
<polygon points="430.9,478.8 432.2,482.9 436.6,482.9 433.1,485.5 434.4,489.6 430.9,487.1 427.4,489.6 428.7,485.5 425.2,482.9 429.5,482.9" stroke-linejoin="round"/>
<polygon points="441.2,460.1 442.6,464.3 446.9,464.3 443.4,466.8 444.8,471.0 441.2,468.4 437.7,471.0 439.1,466.8 435.5,464.3 439.9,464.3" stroke-linejoin="round"/>
<polygon points="450.6,474.5 451.9,478.7 456.3,478.7 452.8,481.2 454.1,485.4 450.6,482.8 447.1,485.4 448.4,481.2 444.9,478.7 449.2,478.7" stroke-linejoin="round"/>
<polygon points="450.6,488.0 451.9,492.1 456.3,492.1 452.8,494.7 454.1,498.8 450.6,496.3 447.1,498.8 448.4,494.7 444.9,492.1 449.2,492.1" stroke-linejoin="round"/>
<polygon points="453.8,471.4 455.2,475.6 459.5,475.6 456.0,478.2 457.4,482.3 453.8,479.7 450.3,482.3 451.6,478.2 448.1,475.6 452.5,475.6" stroke-linejoin="round"/>
<polygon points="456.8,473.3 458.1,477.4 462.5,477.4 458.9,480.0 460.3,484.1 456.8,481.6 453.2,484.1 454.6,480.0 451.1,477.4 455.4,477.4" stroke-linejoin="round"/>
<polygon points="455.6,480.0 456.9,484.2 461.3,484.2 457.7,486.7 459.1,490.9 455.6,488.3 452.0,490.9 453.4,486.7 449.9,484.2 454.2,484.2" stroke-linejoin="round"/>
<polygon points="466.2,464.7 467.6,468.9 471.9,468.9 468.4,471.4 469.8,475.6 466.2,473.0 462.7,475.6 464.1,471.4 460.5,468.9 464.9,468.9" stroke-linejoin="round"/>
<polygon points="466.2,492.3 467.6,496.4 471.9,496.4 468.4,499.0 469.8,503.1 466.2,500.5 462.7,503.1 464.1,499.0 460.5,496.4 464.9,496.4" stroke-linejoin="round"/>
<polygon points="479.0,447.6 480.4,451.7 484.7,451.7 481.2,454.3 482.6,458.4 479.0,455.9 475.5,458.4 476.8,454.3 473.3,451.7 477.7,451.7" stroke-linejoin="round"/>
<polygon points="480.0,476.0 481.3,480.2 485.7,480.2 482.1,482.7 483.5,486.9 480.0,484.3 476.4,486.9 477.8,482.7 474.3,480.2 478.6,480.2" stroke-linejoin="round"/>
<polygon points="492.2,464.3 493.5,468.4 497.9,468.4 494.3,471.0 495.7,475.1 492.2,472.6 488.6,475.1 490.0,471.0 486.5,468.4 490.8,468.4" stroke-linejoin="round"/>
<polygon points="501.8,478.5 503.1,482.6 507.5,482.6 503.9,485.2 505.3,489.3 501.8,486.8 498.2,489.3 499.6,485.2 496.1,482.6 500.4,482.6" stroke-linejoin="round"/>
<polygon points="504.7,473.9 506.1,478.0 510.5,478.0 506.9,480.6 508.3,484.8 504.7,482.2 501.2,484.8 502.6,480.6 499.0,478.0 503.4,478.0" stroke-linejoin="round"/>
</g>
<g stroke="rgb(0,128,0)" stroke-width="2.2">
<polygon points="475.8,494.8 481.2,503.8 475.8,512.8 470.4,503.8"/>
<polygon points="476.5,497.8 481.9,506.8 476.5,515.8 471.1,506.8"/>
<polygon points="477.1,499.7 482.5,508.7 477.1,517.7 471.7,508.7"/>
<polygon points="521.9,501.5 527.3,510.5 521.9,519.5 516.5,510.5"/>
<polygon points="523.7,503.0 529.1,512.0 523.7,521.0 518.3,512.0"/>
</g>
</g>
</g>
<g clip-path="url(#cbr)">
<line x1="548.25" y1="505.60" x2="736.69" y2="505.60" stroke="#141414" stroke-width="1.9"/>
<line x1="548.25" y1="505.10" x2="736.69" y2="505.10" stroke="#999" stroke-width="0.5" stroke-dasharray="1 1"/>
<line x1="736.69" y1="505.60" x2="975.70" y2="505.60" stroke="#000" stroke-width="2.5"/>
<g stroke-opacity="0.50" fill-opacity="0.50" fill="none">
<path d="M622.0 512.0V537.2" stroke="rgb(138,43,226)" stroke-width="3.4"/>
<path d="M633.0 488.6V513.8" stroke="rgb(138,43,226)" stroke-width="3.4"/>
<path d="M633.4 493.0V511.7" stroke="rgb(138,43,226)" stroke-width="3.4"/>
<path d="M634.7 499.6V506.0" stroke="rgb(138,43,226)" stroke-width="3.4"/>
<path d="M637.0 499.6V505.7" stroke="rgb(138,43,226)" stroke-width="3.4"/>
<path d="M640.0 499.6V506.7" stroke="rgb(138,43,226)" stroke-width="3.4"/>
<path d="M643.5 501.4V509.0" stroke="rgb(138,43,226)" stroke-width="3.4"/>
<path d="M647.5 502.1V509.5" stroke="rgb(138,43,226)" stroke-width="3.4"/>
<path d="M651.2 503.2V509.4" stroke="rgb(138,43,226)" stroke-width="3.4"/>
<path d="M655.1 501.7V510.5" stroke="rgb(138,43,226)" stroke-width="3.4"/>
<path d="M658.8 503.7V510.4" stroke="rgb(138,43,226)" stroke-width="3.4"/>
<path d="M662.8 501.6V510.8" stroke="rgb(138,43,226)" stroke-width="3.4"/>
<path d="M666.4 501.5V508.8" stroke="rgb(138,43,226)" stroke-width="3.4"/>
<path d="M669.9 500.6V506.6" stroke="rgb(138,43,226)" stroke-width="3.4"/>
<path d="M673.9 498.8V505.7" stroke="rgb(138,43,226)" stroke-width="3.4"/>
<path d="M675.4 507.5V513.8" stroke="rgb(138,43,226)" stroke-width="3.4"/>
<path d="M677.0 504.4V513.1" stroke="rgb(138,43,226)" stroke-width="3.4"/>
<path d="M678.5 506.3V514.2" stroke="rgb(138,43,226)" stroke-width="3.4"/>
<path d="M680.1 501.3V508.4" stroke="rgb(138,43,226)" stroke-width="3.4"/>
<path d="M681.6 502.9V509.0" stroke="rgb(138,43,226)" stroke-width="3.4"/>
<path d="M683.2 508.3V514.9" stroke="rgb(138,43,226)" stroke-width="3.4"/>
<path d="M684.7 500.7V508.0" stroke="rgb(138,43,226)" stroke-width="3.4"/>
<path d="M686.3 504.7V512.6" stroke="rgb(138,43,226)" stroke-width="3.4"/>
<path d="M687.8 503.6V510.5" stroke="rgb(138,43,226)" stroke-width="3.4"/>
<path d="M689.4 498.9V507.2" stroke="rgb(138,43,226)" stroke-width="3.4"/>
<path d="M690.9 505.5V513.4" stroke="rgb(138,43,226)" stroke-width="3.4"/>
<path d="M692.5 501.7V510.6" stroke="rgb(138,43,226)" stroke-width="3.4"/>
<path d="M694.0 500.4V507.2" stroke="rgb(138,43,226)" stroke-width="3.4"/>
<path d="M695.6 497.7V504.0" stroke="rgb(138,43,226)" stroke-width="3.4"/>
<path d="M697.1 503.2V511.7" stroke="rgb(138,43,226)" stroke-width="3.4"/>
<path d="M698.6 506.8V514.3" stroke="rgb(138,43,226)" stroke-width="3.4"/>
<path d="M700.2 507.8V516.0" stroke="rgb(138,43,226)" stroke-width="3.4"/>
<path d="M701.7 499.4V507.3" stroke="rgb(138,43,226)" stroke-width="3.4"/>
<path d="M703.3 498.6V505.6" stroke="rgb(138,43,226)" stroke-width="3.4"/>
<path d="M704.8 500.2V508.2" stroke="rgb(138,43,226)" stroke-width="3.4"/>
<path d="M706.4 501.8V509.3" stroke="rgb(138,43,226)" stroke-width="3.4"/>
<path d="M707.9 497.9V507.1" stroke="rgb(138,43,226)" stroke-width="3.4"/>
<path d="M709.5 502.7V510.9" stroke="rgb(138,43,226)" stroke-width="3.4"/>
<path d="M711.0 507.5V515.8" stroke="rgb(138,43,226)" stroke-width="3.4"/>
<path d="M712.6 500.1V509.4" stroke="rgb(138,43,226)" stroke-width="3.4"/>
<path d="M714.1 499.3V506.1" stroke="rgb(138,43,226)" stroke-width="3.4"/>
<path d="M715.7 503.7V511.9" stroke="rgb(138,43,226)" stroke-width="3.4"/>
<path d="M717.2 508.3V515.8" stroke="rgb(138,43,226)" stroke-width="3.4"/>
<path d="M718.8 507.2V513.5" stroke="rgb(138,43,226)" stroke-width="3.4"/>
<path d="M720.3 507.4V515.9" stroke="rgb(138,43,226)" stroke-width="3.4"/>
<path d="M721.9 507.5V514.2" stroke="rgb(138,43,226)" stroke-width="3.4"/>
<path d="M723.4 504.6V510.7" stroke="rgb(138,43,226)" stroke-width="3.4"/>
<path d="M725.0 504.7V513.7" stroke="rgb(138,43,226)" stroke-width="3.4"/>
<path d="M726.5 504.3V511.1" stroke="rgb(138,43,226)" stroke-width="3.4"/>
<path d="M728.1 505.6V514.6" stroke="rgb(138,43,226)" stroke-width="3.4"/>
<path d="M729.6 507.8V514.3" stroke="rgb(138,43,226)" stroke-width="3.4"/>
<path d="M731.2 506.9V514.4" stroke="rgb(138,43,226)" stroke-width="3.4"/>
<path d="M732.7 507.6V513.5" stroke="rgb(138,43,226)" stroke-width="3.4"/>
<path d="M734.3 506.1V513.9" stroke="rgb(138,43,226)" stroke-width="3.4"/>
<path d="M684.3 483.1V525.2" stroke="rgb(138,43,226)" stroke-width="3.4"/>
<path d="M697.2 487.7V517.0" stroke="rgb(138,43,226)" stroke-width="3.4"/>
<path d="M714.4 493.0V501.2" stroke="rgb(138,43,226)" stroke-width="3.4"/>
<path d="M615.6 512.0h12.8M615.6 537.2h12.8" stroke="rgb(138,43,226)" stroke-width="2.2"/>
<path d="M626.6 488.6h12.8M626.6 513.8h12.8" stroke="rgb(138,43,226)" stroke-width="2.2"/>
<path d="M627.0 493.0h12.8M627.0 511.7h12.8" stroke="rgb(138,43,226)" stroke-width="2.2"/>
<path d="M628.3 499.6h12.8M628.3 506.0h12.8" stroke="rgb(138,43,226)" stroke-width="2.2"/>
<path d="M630.6 499.6h12.8M630.6 505.7h12.8" stroke="rgb(138,43,226)" stroke-width="2.2"/>
<path d="M633.6 499.6h12.8M633.6 506.7h12.8" stroke="rgb(138,43,226)" stroke-width="2.2"/>
<path d="M637.1 501.4h12.8M637.1 509.0h12.8" stroke="rgb(138,43,226)" stroke-width="2.2"/>
<path d="M641.1 502.1h12.8M641.1 509.5h12.8" stroke="rgb(138,43,226)" stroke-width="2.2"/>
<path d="M644.8 503.2h12.8M644.8 509.4h12.8" stroke="rgb(138,43,226)" stroke-width="2.2"/>
<path d="M648.7 501.7h12.8M648.7 510.5h12.8" stroke="rgb(138,43,226)" stroke-width="2.2"/>
<path d="M652.4 503.7h12.8M652.4 510.4h12.8" stroke="rgb(138,43,226)" stroke-width="2.2"/>
<path d="M656.4 501.6h12.8M656.4 510.8h12.8" stroke="rgb(138,43,226)" stroke-width="2.2"/>
<path d="M660.0 501.5h12.8M660.0 508.8h12.8" stroke="rgb(138,43,226)" stroke-width="2.2"/>
<path d="M663.5 500.6h12.8M663.5 506.6h12.8" stroke="rgb(138,43,226)" stroke-width="2.2"/>
<path d="M667.5 498.8h12.8M667.5 505.7h12.8" stroke="rgb(138,43,226)" stroke-width="2.2"/>
<path d="M669.0 507.5h12.8M669.0 513.8h12.8" stroke="rgb(138,43,226)" stroke-width="2.2"/>
<path d="M670.6 504.4h12.8M670.6 513.1h12.8" stroke="rgb(138,43,226)" stroke-width="2.2"/>
<path d="M672.1 506.3h12.8M672.1 514.2h12.8" stroke="rgb(138,43,226)" stroke-width="2.2"/>
<path d="M673.7 501.3h12.8M673.7 508.4h12.8" stroke="rgb(138,43,226)" stroke-width="2.2"/>
<path d="M675.2 502.9h12.8M675.2 509.0h12.8" stroke="rgb(138,43,226)" stroke-width="2.2"/>
<path d="M676.8 508.3h12.8M676.8 514.9h12.8" stroke="rgb(138,43,226)" stroke-width="2.2"/>
<path d="M678.3 500.7h12.8M678.3 508.0h12.8" stroke="rgb(138,43,226)" stroke-width="2.2"/>
<path d="M679.9 504.7h12.8M679.9 512.6h12.8" stroke="rgb(138,43,226)" stroke-width="2.2"/>
<path d="M681.4 503.6h12.8M681.4 510.5h12.8" stroke="rgb(138,43,226)" stroke-width="2.2"/>
<path d="M683.0 498.9h12.8M683.0 507.2h12.8" stroke="rgb(138,43,226)" stroke-width="2.2"/>
<path d="M684.5 505.5h12.8M684.5 513.4h12.8" stroke="rgb(138,43,226)" stroke-width="2.2"/>
<path d="M686.1 501.7h12.8M686.1 510.6h12.8" stroke="rgb(138,43,226)" stroke-width="2.2"/>
<path d="M687.6 500.4h12.8M687.6 507.2h12.8" stroke="rgb(138,43,226)" stroke-width="2.2"/>
<path d="M689.2 497.7h12.8M689.2 504.0h12.8" stroke="rgb(138,43,226)" stroke-width="2.2"/>
<path d="M690.7 503.2h12.8M690.7 511.7h12.8" stroke="rgb(138,43,226)" stroke-width="2.2"/>
<path d="M692.2 506.8h12.8M692.2 514.3h12.8" stroke="rgb(138,43,226)" stroke-width="2.2"/>
<path d="M693.8 507.8h12.8M693.8 516.0h12.8" stroke="rgb(138,43,226)" stroke-width="2.2"/>
<path d="M695.3 499.4h12.8M695.3 507.3h12.8" stroke="rgb(138,43,226)" stroke-width="2.2"/>
<path d="M696.9 498.6h12.8M696.9 505.6h12.8" stroke="rgb(138,43,226)" stroke-width="2.2"/>
<path d="M698.4 500.2h12.8M698.4 508.2h12.8" stroke="rgb(138,43,226)" stroke-width="2.2"/>
<path d="M700.0 501.8h12.8M700.0 509.3h12.8" stroke="rgb(138,43,226)" stroke-width="2.2"/>
<path d="M701.5 497.9h12.8M701.5 507.1h12.8" stroke="rgb(138,43,226)" stroke-width="2.2"/>
<path d="M703.1 502.7h12.8M703.1 510.9h12.8" stroke="rgb(138,43,226)" stroke-width="2.2"/>
<path d="M704.6 507.5h12.8M704.6 515.8h12.8" stroke="rgb(138,43,226)" stroke-width="2.2"/>
<path d="M706.2 500.1h12.8M706.2 509.4h12.8" stroke="rgb(138,43,226)" stroke-width="2.2"/>
<path d="M707.7 499.3h12.8M707.7 506.1h12.8" stroke="rgb(138,43,226)" stroke-width="2.2"/>
<path d="M709.3 503.7h12.8M709.3 511.9h12.8" stroke="rgb(138,43,226)" stroke-width="2.2"/>
<path d="M710.8 508.3h12.8M710.8 515.8h12.8" stroke="rgb(138,43,226)" stroke-width="2.2"/>
<path d="M712.4 507.2h12.8M712.4 513.5h12.8" stroke="rgb(138,43,226)" stroke-width="2.2"/>
<path d="M713.9 507.4h12.8M713.9 515.9h12.8" stroke="rgb(138,43,226)" stroke-width="2.2"/>
<path d="M715.5 507.5h12.8M715.5 514.2h12.8" stroke="rgb(138,43,226)" stroke-width="2.2"/>
<path d="M717.0 504.6h12.8M717.0 510.7h12.8" stroke="rgb(138,43,226)" stroke-width="2.2"/>
<path d="M718.6 504.7h12.8M718.6 513.7h12.8" stroke="rgb(138,43,226)" stroke-width="2.2"/>
<path d="M720.1 504.3h12.8M720.1 511.1h12.8" stroke="rgb(138,43,226)" stroke-width="2.2"/>
<path d="M721.7 505.6h12.8M721.7 514.6h12.8" stroke="rgb(138,43,226)" stroke-width="2.2"/>
<path d="M723.2 507.8h12.8M723.2 514.3h12.8" stroke="rgb(138,43,226)" stroke-width="2.2"/>
<path d="M724.8 506.9h12.8M724.8 514.4h12.8" stroke="rgb(138,43,226)" stroke-width="2.2"/>
<path d="M726.3 507.6h12.8M726.3 513.5h12.8" stroke="rgb(138,43,226)" stroke-width="2.2"/>
<path d="M727.9 506.1h12.8M727.9 513.9h12.8" stroke="rgb(138,43,226)" stroke-width="2.2"/>
<path d="M677.9 483.1h12.8M677.9 525.2h12.8" stroke="rgb(138,43,226)" stroke-width="2.2"/>
<path d="M690.8 487.7h12.8M690.8 517.0h12.8" stroke="rgb(138,43,226)" stroke-width="2.2"/>
<path d="M708.0 493.0h12.8M708.0 501.2h12.8" stroke="rgb(138,43,226)" stroke-width="2.2"/>
<path d="M800.4 491.0V504.4" stroke="rgb(139,69,19)" stroke-width="3.4"/>
<path d="M819.7 510.0V520.5" stroke="rgb(139,69,19)" stroke-width="3.4"/>
<path d="M831.7 504.2V515.4" stroke="rgb(139,69,19)" stroke-width="3.4"/>
<path d="M845.4 501.0V513.0" stroke="rgb(139,69,19)" stroke-width="3.4"/>
<path d="M794.0 491.0h12.8M794.0 504.4h12.8" stroke="rgb(139,69,19)" stroke-width="2.2"/>
<path d="M813.3 510.0h12.8M813.3 520.5h12.8" stroke="rgb(139,69,19)" stroke-width="2.2"/>
<path d="M825.3 504.2h12.8M825.3 515.4h12.8" stroke="rgb(139,69,19)" stroke-width="2.2"/>
<path d="M839.0 501.0h12.8M839.0 513.0h12.8" stroke="rgb(139,69,19)" stroke-width="2.2"/>
<path d="M756.1 508.5V510.0" stroke="rgb(255,0,0)" stroke-width="3.4"/>
<path d="M794.4 506.0V507.4" stroke="rgb(255,0,0)" stroke-width="3.4"/>
<path d="M815.7 506.0V507.4" stroke="rgb(255,0,0)" stroke-width="3.4"/>
<path d="M823.8 504.3V505.7" stroke="rgb(255,0,0)" stroke-width="3.4"/>
<path d="M831.1 506.7V508.2" stroke="rgb(255,0,0)" stroke-width="3.4"/>
<path d="M837.3 507.3V508.8" stroke="rgb(255,0,0)" stroke-width="3.4"/>
<path d="M842.9 504.9V506.3" stroke="rgb(255,0,0)" stroke-width="3.4"/>
<path d="M848.0 506.7V508.2" stroke="rgb(255,0,0)" stroke-width="3.4"/>
<path d="M852.7 507.6V509.1" stroke="rgb(255,0,0)" stroke-width="3.4"/>
<path d="M858.5 504.6V506.0" stroke="rgb(255,0,0)" stroke-width="3.4"/>
<path d="M860.9 506.7V508.2" stroke="rgb(255,0,0)" stroke-width="3.4"/>
<path d="M865.3 506.1V507.6" stroke="rgb(255,0,0)" stroke-width="3.4"/>
<path d="M867.3 506.7V508.2" stroke="rgb(255,0,0)" stroke-width="3.4"/>
<path d="M823.4 505.6V507.1" stroke="rgb(255,0,0)" stroke-width="3.4"/>
<path d="M830.9 505.4V506.9" stroke="rgb(255,0,0)" stroke-width="3.4"/>
<path d="M837.5 507.4V508.8" stroke="rgb(255,0,0)" stroke-width="3.4"/>
<path d="M842.1 504.5V506.0" stroke="rgb(255,0,0)" stroke-width="3.4"/>
<path d="M847.6 506.8V508.2" stroke="rgb(255,0,0)" stroke-width="3.4"/>
<path d="M853.4 505.9V507.4" stroke="rgb(255,0,0)" stroke-width="3.4"/>
<path d="M859.1 505.9V507.3" stroke="rgb(255,0,0)" stroke-width="3.4"/>
<path d="M861.1 507.1V508.5" stroke="rgb(255,0,0)" stroke-width="3.4"/>
<path d="M865.5 504.4V505.9" stroke="rgb(255,0,0)" stroke-width="3.4"/>
<path d="M867.4 504.9V506.4" stroke="rgb(255,0,0)" stroke-width="3.4"/>
<path d="M749.7 508.5h12.8M749.7 510.0h12.8" stroke="rgb(255,0,0)" stroke-width="2.2"/>
<path d="M788.0 506.0h12.8M788.0 507.4h12.8" stroke="rgb(255,0,0)" stroke-width="2.2"/>
<path d="M809.3 506.0h12.8M809.3 507.4h12.8" stroke="rgb(255,0,0)" stroke-width="2.2"/>
<path d="M817.4 504.3h12.8M817.4 505.7h12.8" stroke="rgb(255,0,0)" stroke-width="2.2"/>
<path d="M824.7 506.7h12.8M824.7 508.2h12.8" stroke="rgb(255,0,0)" stroke-width="2.2"/>
<path d="M830.9 507.3h12.8M830.9 508.8h12.8" stroke="rgb(255,0,0)" stroke-width="2.2"/>
<path d="M836.5 504.9h12.8M836.5 506.3h12.8" stroke="rgb(255,0,0)" stroke-width="2.2"/>
<path d="M841.6 506.7h12.8M841.6 508.2h12.8" stroke="rgb(255,0,0)" stroke-width="2.2"/>
<path d="M846.3 507.6h12.8M846.3 509.1h12.8" stroke="rgb(255,0,0)" stroke-width="2.2"/>
<path d="M852.1 504.6h12.8M852.1 506.0h12.8" stroke="rgb(255,0,0)" stroke-width="2.2"/>
<path d="M854.5 506.7h12.8M854.5 508.2h12.8" stroke="rgb(255,0,0)" stroke-width="2.2"/>
<path d="M858.9 506.1h12.8M858.9 507.6h12.8" stroke="rgb(255,0,0)" stroke-width="2.2"/>
<path d="M860.9 506.7h12.8M860.9 508.2h12.8" stroke="rgb(255,0,0)" stroke-width="2.2"/>
<path d="M817.0 505.6h12.8M817.0 507.1h12.8" stroke="rgb(255,0,0)" stroke-width="2.2"/>
<path d="M824.5 505.4h12.8M824.5 506.9h12.8" stroke="rgb(255,0,0)" stroke-width="2.2"/>
<path d="M831.1 507.4h12.8M831.1 508.8h12.8" stroke="rgb(255,0,0)" stroke-width="2.2"/>
<path d="M835.7 504.5h12.8M835.7 506.0h12.8" stroke="rgb(255,0,0)" stroke-width="2.2"/>
<path d="M841.2 506.8h12.8M841.2 508.2h12.8" stroke="rgb(255,0,0)" stroke-width="2.2"/>
<path d="M847.0 505.9h12.8M847.0 507.4h12.8" stroke="rgb(255,0,0)" stroke-width="2.2"/>
<path d="M852.7 505.9h12.8M852.7 507.3h12.8" stroke="rgb(255,0,0)" stroke-width="2.2"/>
<path d="M854.7 507.1h12.8M854.7 508.5h12.8" stroke="rgb(255,0,0)" stroke-width="2.2"/>
<path d="M859.1 504.4h12.8M859.1 505.9h12.8" stroke="rgb(255,0,0)" stroke-width="2.2"/>
<path d="M861.0 504.9h12.8M861.0 506.4h12.8" stroke="rgb(255,0,0)" stroke-width="2.2"/>
<path d="M693.6 507.7V509.3" stroke="rgb(255,165,0)" stroke-width="3.4"/>
<path d="M720.8 508.7V510.2" stroke="rgb(255,165,0)" stroke-width="3.4"/>
<path d="M738.5 502.7V504.3" stroke="rgb(255,165,0)" stroke-width="3.4"/>
<path d="M752.0 500.7V502.2" stroke="rgb(255,165,0)" stroke-width="3.4"/>
<path d="M762.7 499.8V501.3" stroke="rgb(255,165,0)" stroke-width="3.4"/>
<path d="M771.5 502.3V503.8" stroke="rgb(255,165,0)" stroke-width="3.4"/>
<path d="M779.1 509.0V510.5" stroke="rgb(255,165,0)" stroke-width="3.4"/>
<path d="M687.2 507.7h12.8M687.2 509.3h12.8" stroke="rgb(255,165,0)" stroke-width="2.2"/>
<path d="M714.4 508.7h12.8M714.4 510.2h12.8" stroke="rgb(255,165,0)" stroke-width="2.2"/>
<path d="M732.1 502.7h12.8M732.1 504.3h12.8" stroke="rgb(255,165,0)" stroke-width="2.2"/>
<path d="M745.6 500.7h12.8M745.6 502.2h12.8" stroke="rgb(255,165,0)" stroke-width="2.2"/>
<path d="M756.3 499.8h12.8M756.3 501.3h12.8" stroke="rgb(255,165,0)" stroke-width="2.2"/>
<path d="M765.1 502.3h12.8M765.1 503.8h12.8" stroke="rgb(255,165,0)" stroke-width="2.2"/>
<path d="M772.7 509.0h12.8M772.7 510.5h12.8" stroke="rgb(255,165,0)" stroke-width="2.2"/>
<path d="M815.7 501.0V520.6" stroke="rgb(0,0,255)" stroke-width="3.4"/>
<path d="M825.3 495.8V516.0" stroke="rgb(0,0,255)" stroke-width="3.4"/>
<path d="M844.3 487.7V509.8" stroke="rgb(0,0,255)" stroke-width="3.4"/>
<path d="M855.8 492.0V510.3" stroke="rgb(0,0,255)" stroke-width="3.4"/>
<path d="M809.3 501.0h12.8M809.3 520.6h12.8" stroke="rgb(0,0,255)" stroke-width="2.2"/>
<path d="M818.9 495.8h12.8M818.9 516.0h12.8" stroke="rgb(0,0,255)" stroke-width="2.2"/>
<path d="M837.9 487.7h12.8M837.9 509.8h12.8" stroke="rgb(0,0,255)" stroke-width="2.2"/>
<path d="M849.4 492.0h12.8M849.4 510.3h12.8" stroke="rgb(0,0,255)" stroke-width="2.2"/>
<path d="M867.1 500.1V512.0" stroke="rgb(192,192,192)" stroke-width="3.4"/>
<path d="M869.5 493.3V517.9" stroke="rgb(192,192,192)" stroke-width="3.4"/>
<path d="M879.9 485.3V498.1" stroke="rgb(192,192,192)" stroke-width="3.4"/>
<path d="M889.2 495.6V509.3" stroke="rgb(192,192,192)" stroke-width="3.4"/>
<path d="M889.2 503.8V521.1" stroke="rgb(192,192,192)" stroke-width="3.4"/>
<path d="M892.5 494.6V505.6" stroke="rgb(192,192,192)" stroke-width="3.4"/>
<path d="M895.4 496.0V507.0" stroke="rgb(192,192,192)" stroke-width="3.4"/>
<path d="M894.2 501.0V512.0" stroke="rgb(192,192,192)" stroke-width="3.4"/>
<path d="M904.9 490.5V499.7" stroke="rgb(192,192,192)" stroke-width="3.4"/>
<path d="M904.9 512.0V519.3" stroke="rgb(192,192,192)" stroke-width="3.4"/>
<path d="M917.7 454.0V510.6" stroke="rgb(192,192,192)" stroke-width="3.4"/>
<path d="M918.6 490.3V516.8" stroke="rgb(192,192,192)" stroke-width="3.4"/>
<path d="M930.8 473.8V515.8" stroke="rgb(192,192,192)" stroke-width="3.4"/>
<path d="M940.4 491.7V519.1" stroke="rgb(192,192,192)" stroke-width="3.4"/>
<path d="M943.4 487.8V516.1" stroke="rgb(192,192,192)" stroke-width="3.4"/>
<path d="M860.7 500.1h12.8M860.7 512.0h12.8" stroke="rgb(192,192,192)" stroke-width="2.2"/>
<path d="M863.1 493.3h12.8M863.1 517.9h12.8" stroke="rgb(192,192,192)" stroke-width="2.2"/>
<path d="M873.5 485.3h12.8M873.5 498.1h12.8" stroke="rgb(192,192,192)" stroke-width="2.2"/>
<path d="M882.8 495.6h12.8M882.8 509.3h12.8" stroke="rgb(192,192,192)" stroke-width="2.2"/>
<path d="M882.8 503.8h12.8M882.8 521.1h12.8" stroke="rgb(192,192,192)" stroke-width="2.2"/>
<path d="M886.1 494.6h12.8M886.1 505.6h12.8" stroke="rgb(192,192,192)" stroke-width="2.2"/>
<path d="M889.0 496.0h12.8M889.0 507.0h12.8" stroke="rgb(192,192,192)" stroke-width="2.2"/>
<path d="M887.8 501.0h12.8M887.8 512.0h12.8" stroke="rgb(192,192,192)" stroke-width="2.2"/>
<path d="M898.5 490.5h12.8M898.5 499.7h12.8" stroke="rgb(192,192,192)" stroke-width="2.2"/>
<path d="M898.5 512.0h12.8M898.5 519.3h12.8" stroke="rgb(192,192,192)" stroke-width="2.2"/>
<path d="M911.3 454.0h12.8M911.3 510.6h12.8" stroke="rgb(192,192,192)" stroke-width="2.2"/>
<path d="M912.2 490.3h12.8M912.2 516.8h12.8" stroke="rgb(192,192,192)" stroke-width="2.2"/>
<path d="M924.4 473.8h12.8M924.4 515.8h12.8" stroke="rgb(192,192,192)" stroke-width="2.2"/>
<path d="M934.0 491.7h12.8M934.0 519.1h12.8" stroke="rgb(192,192,192)" stroke-width="2.2"/>
<path d="M937.0 487.8h12.8M937.0 516.1h12.8" stroke="rgb(192,192,192)" stroke-width="2.2"/>
<path d="M914.4 493.2V506.3" stroke="rgb(0,128,0)" stroke-width="3.4"/>
<path d="M915.1 496.5V509.5" stroke="rgb(0,128,0)" stroke-width="3.4"/>
<path d="M915.8 498.4V511.5" stroke="rgb(0,128,0)" stroke-width="3.4"/>
<path d="M960.6 503.0V510.8" stroke="rgb(0,128,0)" stroke-width="3.4"/>
<path d="M962.3 504.6V512.4" stroke="rgb(0,128,0)" stroke-width="3.4"/>
<path d="M908.0 493.2h12.8M908.0 506.3h12.8" stroke="rgb(0,128,0)" stroke-width="2.2"/>
<path d="M908.7 496.5h12.8M908.7 509.5h12.8" stroke="rgb(0,128,0)" stroke-width="2.2"/>
<path d="M909.4 498.4h12.8M909.4 511.5h12.8" stroke="rgb(0,128,0)" stroke-width="2.2"/>
<path d="M954.2 503.0h12.8M954.2 510.8h12.8" stroke="rgb(0,128,0)" stroke-width="2.2"/>
<path d="M955.9 504.6h12.8M955.9 512.4h12.8" stroke="rgb(0,128,0)" stroke-width="2.2"/>
<g stroke="rgb(138,43,226)" stroke-width="2.2">
<circle cx="622.0" cy="524.6" r="6.5"/>
<circle cx="633.0" cy="501.2" r="6.5"/>
<circle cx="633.4" cy="502.4" r="6.5"/>
<circle cx="634.7" cy="502.8" r="6.5"/>
<circle cx="637.0" cy="502.6" r="6.5"/>
<circle cx="640.0" cy="503.2" r="6.5"/>
<circle cx="643.5" cy="505.2" r="6.5"/>
<circle cx="647.5" cy="505.8" r="6.5"/>
<circle cx="651.2" cy="506.3" r="6.5"/>
<circle cx="655.1" cy="506.1" r="6.5"/>
<circle cx="658.8" cy="507.1" r="6.5"/>
<circle cx="662.8" cy="506.2" r="6.5"/>
<circle cx="666.4" cy="505.1" r="6.5"/>
<circle cx="669.9" cy="503.6" r="6.5"/>
<circle cx="673.9" cy="502.3" r="6.5"/>
<circle cx="675.4" cy="510.6" r="6.5"/>
<circle cx="677.0" cy="508.7" r="6.5"/>
<circle cx="678.5" cy="510.2" r="6.5"/>
<circle cx="680.1" cy="504.9" r="6.5"/>
<circle cx="681.6" cy="505.9" r="6.5"/>
<circle cx="683.2" cy="511.6" r="6.5"/>
<circle cx="684.7" cy="504.4" r="6.5"/>
<circle cx="686.3" cy="508.7" r="6.5"/>
<circle cx="687.8" cy="507.0" r="6.5"/>
<circle cx="689.4" cy="503.0" r="6.5"/>
<circle cx="690.9" cy="509.5" r="6.5"/>
<circle cx="692.5" cy="506.2" r="6.5"/>
<circle cx="694.0" cy="503.8" r="6.5"/>
<circle cx="695.6" cy="500.9" r="6.5"/>
<circle cx="697.1" cy="507.4" r="6.5"/>
<circle cx="698.6" cy="510.6" r="6.5"/>
<circle cx="700.2" cy="511.9" r="6.5"/>
<circle cx="701.7" cy="503.4" r="6.5"/>
<circle cx="703.3" cy="502.1" r="6.5"/>
<circle cx="704.8" cy="504.2" r="6.5"/>
<circle cx="706.4" cy="505.5" r="6.5"/>
<circle cx="707.9" cy="502.5" r="6.5"/>
<circle cx="709.5" cy="506.8" r="6.5"/>
<circle cx="711.0" cy="511.6" r="6.5"/>
<circle cx="712.6" cy="504.8" r="6.5"/>
<circle cx="714.1" cy="502.7" r="6.5"/>
<circle cx="715.7" cy="507.8" r="6.5"/>
<circle cx="717.2" cy="512.1" r="6.5"/>
<circle cx="718.8" cy="510.4" r="6.5"/>
<circle cx="720.3" cy="511.6" r="6.5"/>
<circle cx="721.9" cy="510.8" r="6.5"/>
<circle cx="723.4" cy="507.7" r="6.5"/>
<circle cx="725.0" cy="509.2" r="6.5"/>
<circle cx="726.5" cy="507.7" r="6.5"/>
<circle cx="728.1" cy="510.1" r="6.5"/>
<circle cx="729.6" cy="511.0" r="6.5"/>
<circle cx="731.2" cy="510.7" r="6.5"/>
<circle cx="732.7" cy="510.5" r="6.5"/>
<circle cx="734.3" cy="510.0" r="6.5"/>
<circle cx="684.3" cy="504.1" r="6.5"/>
<circle cx="697.2" cy="502.4" r="6.5"/>
<circle cx="714.4" cy="497.1" r="6.5"/>
</g>
<g stroke="rgb(139,69,19)" stroke-width="2.2">
<rect x="794.2" y="491.5" width="12.4" height="12.4"/>
<rect x="813.5" y="509.0" width="12.4" height="12.4"/>
<rect x="825.5" y="503.6" width="12.4" height="12.4"/>
<rect x="839.2" y="500.8" width="12.4" height="12.4"/>
</g>
<g stroke="rgb(255,0,0)" stroke-width="2.2">
<polygon points="756.1,500.3 765.1,509.3 756.1,518.3 747.1,509.3"/>
<polygon points="794.4,497.7 803.4,506.7 794.4,515.7 785.4,506.7"/>
<polygon points="815.7,497.7 824.7,506.7 815.7,515.7 806.7,506.7"/>
<polygon points="823.8,496.0 832.8,505.0 823.8,514.0 814.8,505.0"/>
<polygon points="831.1,498.4 840.1,507.4 831.1,516.4 822.1,507.4"/>
<polygon points="837.3,499.0 846.3,508.0 837.3,517.0 828.3,508.0"/>
<polygon points="842.9,496.6 851.9,505.6 842.9,514.6 833.9,505.6"/>
<polygon points="848.0,498.4 857.0,507.4 848.0,516.4 839.0,507.4"/>
<polygon points="852.7,499.4 861.7,508.4 852.7,517.4 843.7,508.4"/>
<polygon points="858.5,496.3 867.5,505.3 858.5,514.3 849.5,505.3"/>
<polygon points="860.9,498.4 869.9,507.4 860.9,516.4 851.9,507.4"/>
<polygon points="865.3,497.8 874.3,506.8 865.3,515.8 856.3,506.8"/>
<polygon points="867.3,498.4 876.3,507.4 867.3,516.4 858.3,507.4"/>
<polygon points="823.4,497.4 832.4,506.4 823.4,515.4 814.4,506.4"/>
<polygon points="830.9,497.1 839.9,506.1 830.9,515.1 821.9,506.1"/>
<polygon points="837.5,499.1 846.5,508.1 837.5,517.1 828.5,508.1"/>
<polygon points="842.1,496.3 851.1,505.3 842.1,514.3 833.1,505.3"/>
<polygon points="847.6,498.5 856.6,507.5 847.6,516.5 838.6,507.5"/>
<polygon points="853.4,497.6 862.4,506.6 853.4,515.6 844.4,506.6"/>
<polygon points="859.1,497.6 868.1,506.6 859.1,515.6 850.1,506.6"/>
<polygon points="861.1,498.8 870.1,507.8 861.1,516.8 852.1,507.8"/>
<polygon points="865.5,496.2 874.5,505.2 865.5,514.2 856.5,505.2"/>
<polygon points="867.4,496.6 876.4,505.6 867.4,514.6 858.4,505.6"/>
</g>
<g stroke="rgb(255,165,0)" stroke-width="2.2">
<polygon points="693.6,501.7 700.1,506.4 697.6,514.0 689.6,514.0 687.1,506.4"/>
<polygon points="720.8,502.6 727.3,507.3 724.8,514.9 716.8,514.9 714.4,507.3"/>
<polygon points="738.5,496.7 745.0,501.4 742.5,509.0 734.5,509.0 732.1,501.4"/>
<polygon points="752.0,494.6 758.4,499.3 756.0,506.9 748.0,506.9 745.5,499.3"/>
<polygon points="762.7,493.7 769.2,498.4 766.7,506.0 758.7,506.0 756.2,498.4"/>
<polygon points="771.5,496.2 777.9,500.9 775.5,508.5 767.5,508.5 765.0,500.9"/>
<polygon points="779.1,503.0 785.6,507.7 783.1,515.3 775.1,515.3 772.7,507.7"/>
</g>
<g stroke="rgb(0,0,255)" stroke-width="2.2">
<polygon points="822.5,510.8 819.1,504.9 812.3,504.9 808.9,510.8 812.3,516.7 819.1,516.7"/>
<polygon points="832.1,505.9 828.7,500.0 821.9,500.0 818.5,505.9 821.9,511.8 828.7,511.8"/>
<polygon points="851.1,498.7 847.7,492.9 840.9,492.9 837.5,498.7 840.9,504.6 847.7,504.6"/>
<polygon points="862.6,501.1 859.2,495.2 852.4,495.2 849.0,501.1 852.4,507.0 859.2,507.0"/>
</g>
<g stroke="rgb(192,192,192)" stroke-width="2.2">
<polygon points="867.1,500.1 868.5,504.2 872.9,504.2 869.3,506.8 870.7,510.9 867.1,508.3 863.6,510.9 865.0,506.8 861.4,504.2 865.8,504.2" stroke-linejoin="round"/>
<polygon points="869.5,499.6 870.9,503.7 875.2,503.7 871.7,506.3 873.1,510.5 869.5,507.9 866.0,510.5 867.3,506.3 863.8,503.7 868.2,503.7" stroke-linejoin="round"/>
<polygon points="879.9,485.7 881.2,489.8 885.6,489.8 882.1,492.4 883.4,496.5 879.9,494.0 876.4,496.5 877.7,492.4 874.2,489.8 878.5,489.8" stroke-linejoin="round"/>
<polygon points="889.2,496.4 890.6,500.5 894.9,500.5 891.4,503.1 892.8,507.3 889.2,504.7 885.7,507.3 887.1,503.1 883.5,500.5 887.9,500.5" stroke-linejoin="round"/>
<polygon points="889.2,506.5 890.6,510.6 894.9,510.6 891.4,513.2 892.8,517.3 889.2,514.7 885.7,517.3 887.1,513.2 883.5,510.6 887.9,510.6" stroke-linejoin="round"/>
<polygon points="892.5,494.1 893.8,498.3 898.2,498.3 894.7,500.8 896.0,505.0 892.5,502.4 889.0,505.0 890.3,500.8 886.8,498.3 891.1,498.3" stroke-linejoin="round"/>
<polygon points="895.4,495.5 896.8,499.6 901.1,499.6 897.6,502.2 898.9,506.3 895.4,503.8 891.9,506.3 893.2,502.2 889.7,499.6 894.1,499.6" stroke-linejoin="round"/>
<polygon points="894.2,500.5 895.6,504.7 899.9,504.7 896.4,507.2 897.7,511.4 894.2,508.8 890.7,511.4 892.0,507.2 888.5,504.7 892.9,504.7" stroke-linejoin="round"/>
<polygon points="904.9,489.1 906.2,493.2 910.6,493.2 907.1,495.8 908.4,499.9 904.9,497.4 901.4,499.9 902.7,495.8 899.2,493.2 903.5,493.2" stroke-linejoin="round"/>
<polygon points="904.9,509.6 906.2,513.8 910.6,513.8 907.1,516.4 908.4,520.5 904.9,517.9 901.4,520.5 902.7,516.4 899.2,513.8 903.5,513.8" stroke-linejoin="round"/>
<polygon points="917.7,476.3 919.0,480.5 923.4,480.5 919.9,483.0 921.2,487.2 917.7,484.6 914.2,487.2 915.5,483.0 912.0,480.5 916.3,480.5" stroke-linejoin="round"/>
<polygon points="918.6,497.5 920.0,501.7 924.3,501.7 920.8,504.3 922.1,508.4 918.6,505.8 915.1,508.4 916.4,504.3 912.9,501.7 917.3,501.7" stroke-linejoin="round"/>
<polygon points="930.8,488.8 932.2,492.9 936.5,492.9 933.0,495.5 934.3,499.6 930.8,497.1 927.3,499.6 928.6,495.5 925.1,492.9 929.5,492.9" stroke-linejoin="round"/>
<polygon points="940.4,499.4 941.8,503.5 946.1,503.5 942.6,506.1 943.9,510.2 940.4,507.7 936.9,510.2 938.2,506.1 934.7,503.5 939.1,503.5" stroke-linejoin="round"/>
<polygon points="943.4,495.9 944.7,500.1 949.1,500.1 945.6,502.7 946.9,506.8 943.4,504.2 939.9,506.8 941.2,502.7 937.7,500.1 942.0,500.1" stroke-linejoin="round"/>
</g>
<g stroke="rgb(0,128,0)" stroke-width="2.2">
<polygon points="914.4,490.7 919.8,499.7 914.4,508.7 909.0,499.7"/>
<polygon points="915.1,494.0 920.5,503.0 915.1,512.0 909.7,503.0"/>
<polygon points="915.8,495.9 921.2,504.9 915.8,513.9 910.4,504.9"/>
<polygon points="960.6,497.9 966.0,506.9 960.6,515.9 955.2,506.9"/>
<polygon points="962.3,499.5 967.7,508.5 962.3,517.5 956.9,508.5"/>
</g>
</g>
</g>
<rect x="109.60" y="12.00" width="438.65" height="417.00" fill="none" stroke="#000" stroke-width="2"/>
<rect x="548.25" y="12.00" width="438.65" height="417.00" fill="none" stroke="#000" stroke-width="2"/>
<rect x="109.60" y="441.20" width="438.65" height="104.00" fill="none" stroke="#000" stroke-width="2"/>
<rect x="548.25" y="441.20" width="438.65" height="104.00" fill="none" stroke="#000" stroke-width="2"/>
<line x1="113.61" y1="426.70" x2="113.61" y2="431.30" stroke="#000" stroke-width="1.50"/>
<line x1="113.61" y1="545.20" x2="113.61" y2="549.90" stroke="#000" stroke-width="1.60"/>
<line x1="120.71" y1="426.70" x2="120.71" y2="431.30" stroke="#000" stroke-width="1.50"/>
<line x1="120.71" y1="545.20" x2="120.71" y2="549.90" stroke="#000" stroke-width="1.60"/>
<line x1="126.97" y1="426.70" x2="126.97" y2="431.30" stroke="#000" stroke-width="1.50"/>
<line x1="126.97" y1="545.20" x2="126.97" y2="549.90" stroke="#000" stroke-width="1.60"/>
<line x1="132.57" y1="425.10" x2="132.57" y2="432.90" stroke="#000" stroke-width="2.00"/>
<line x1="132.57" y1="545.20" x2="132.57" y2="552.90" stroke="#000" stroke-width="2.00"/>
<line x1="169.41" y1="426.70" x2="169.41" y2="431.30" stroke="#000" stroke-width="1.50"/>
<line x1="169.41" y1="545.20" x2="169.41" y2="549.90" stroke="#000" stroke-width="1.60"/>
<line x1="190.96" y1="426.70" x2="190.96" y2="431.30" stroke="#000" stroke-width="1.50"/>
<line x1="190.96" y1="545.20" x2="190.96" y2="549.90" stroke="#000" stroke-width="1.60"/>
<line x1="206.24" y1="426.70" x2="206.24" y2="431.30" stroke="#000" stroke-width="1.50"/>
<line x1="206.24" y1="545.20" x2="206.24" y2="549.90" stroke="#000" stroke-width="1.60"/>
<line x1="218.10" y1="426.70" x2="218.10" y2="431.30" stroke="#000" stroke-width="1.50"/>
<line x1="218.10" y1="545.20" x2="218.10" y2="549.90" stroke="#000" stroke-width="1.60"/>
<line x1="227.79" y1="426.70" x2="227.79" y2="431.30" stroke="#000" stroke-width="1.50"/>
<line x1="227.79" y1="545.20" x2="227.79" y2="549.90" stroke="#000" stroke-width="1.60"/>
<line x1="235.98" y1="426.70" x2="235.98" y2="431.30" stroke="#000" stroke-width="1.50"/>
<line x1="235.98" y1="545.20" x2="235.98" y2="549.90" stroke="#000" stroke-width="1.60"/>
<line x1="243.08" y1="426.70" x2="243.08" y2="431.30" stroke="#000" stroke-width="1.50"/>
<line x1="243.08" y1="545.20" x2="243.08" y2="549.90" stroke="#000" stroke-width="1.60"/>
<line x1="249.34" y1="426.70" x2="249.34" y2="431.30" stroke="#000" stroke-width="1.50"/>
<line x1="249.34" y1="545.20" x2="249.34" y2="549.90" stroke="#000" stroke-width="1.60"/>
<line x1="254.94" y1="425.10" x2="254.94" y2="432.90" stroke="#000" stroke-width="2.00"/>
<line x1="254.94" y1="545.20" x2="254.94" y2="552.90" stroke="#000" stroke-width="2.00"/>
<line x1="291.78" y1="426.70" x2="291.78" y2="431.30" stroke="#000" stroke-width="1.50"/>
<line x1="291.78" y1="545.20" x2="291.78" y2="549.90" stroke="#000" stroke-width="1.60"/>
<line x1="313.33" y1="426.70" x2="313.33" y2="431.30" stroke="#000" stroke-width="1.50"/>
<line x1="313.33" y1="545.20" x2="313.33" y2="549.90" stroke="#000" stroke-width="1.60"/>
<line x1="328.61" y1="426.70" x2="328.61" y2="431.30" stroke="#000" stroke-width="1.50"/>
<line x1="328.61" y1="545.20" x2="328.61" y2="549.90" stroke="#000" stroke-width="1.60"/>
<line x1="340.47" y1="426.70" x2="340.47" y2="431.30" stroke="#000" stroke-width="1.50"/>
<line x1="340.47" y1="545.20" x2="340.47" y2="549.90" stroke="#000" stroke-width="1.60"/>
<line x1="350.16" y1="426.70" x2="350.16" y2="431.30" stroke="#000" stroke-width="1.50"/>
<line x1="350.16" y1="545.20" x2="350.16" y2="549.90" stroke="#000" stroke-width="1.60"/>
<line x1="358.35" y1="426.70" x2="358.35" y2="431.30" stroke="#000" stroke-width="1.50"/>
<line x1="358.35" y1="545.20" x2="358.35" y2="549.90" stroke="#000" stroke-width="1.60"/>
<line x1="365.45" y1="426.70" x2="365.45" y2="431.30" stroke="#000" stroke-width="1.50"/>
<line x1="365.45" y1="545.20" x2="365.45" y2="549.90" stroke="#000" stroke-width="1.60"/>
<line x1="371.71" y1="426.70" x2="371.71" y2="431.30" stroke="#000" stroke-width="1.50"/>
<line x1="371.71" y1="545.20" x2="371.71" y2="549.90" stroke="#000" stroke-width="1.60"/>
<line x1="377.31" y1="425.10" x2="377.31" y2="432.90" stroke="#000" stroke-width="2.00"/>
<line x1="377.31" y1="545.20" x2="377.31" y2="552.90" stroke="#000" stroke-width="2.00"/>
<line x1="414.15" y1="426.70" x2="414.15" y2="431.30" stroke="#000" stroke-width="1.50"/>
<line x1="414.15" y1="545.20" x2="414.15" y2="549.90" stroke="#000" stroke-width="1.60"/>
<line x1="435.70" y1="426.70" x2="435.70" y2="431.30" stroke="#000" stroke-width="1.50"/>
<line x1="435.70" y1="545.20" x2="435.70" y2="549.90" stroke="#000" stroke-width="1.60"/>
<line x1="450.98" y1="426.70" x2="450.98" y2="431.30" stroke="#000" stroke-width="1.50"/>
<line x1="450.98" y1="545.20" x2="450.98" y2="549.90" stroke="#000" stroke-width="1.60"/>
<line x1="462.84" y1="426.70" x2="462.84" y2="431.30" stroke="#000" stroke-width="1.50"/>
<line x1="462.84" y1="545.20" x2="462.84" y2="549.90" stroke="#000" stroke-width="1.60"/>
<line x1="472.53" y1="426.70" x2="472.53" y2="431.30" stroke="#000" stroke-width="1.50"/>
<line x1="472.53" y1="545.20" x2="472.53" y2="549.90" stroke="#000" stroke-width="1.60"/>
<line x1="480.72" y1="426.70" x2="480.72" y2="431.30" stroke="#000" stroke-width="1.50"/>
<line x1="480.72" y1="545.20" x2="480.72" y2="549.90" stroke="#000" stroke-width="1.60"/>
<line x1="487.82" y1="426.70" x2="487.82" y2="431.30" stroke="#000" stroke-width="1.50"/>
<line x1="487.82" y1="545.20" x2="487.82" y2="549.90" stroke="#000" stroke-width="1.60"/>
<line x1="494.08" y1="426.70" x2="494.08" y2="431.30" stroke="#000" stroke-width="1.50"/>
<line x1="494.08" y1="545.20" x2="494.08" y2="549.90" stroke="#000" stroke-width="1.60"/>
<line x1="499.68" y1="425.10" x2="499.68" y2="432.90" stroke="#000" stroke-width="2.00"/>
<line x1="499.68" y1="545.20" x2="499.68" y2="552.90" stroke="#000" stroke-width="2.00"/>
<line x1="536.52" y1="426.70" x2="536.52" y2="431.30" stroke="#000" stroke-width="1.50"/>
<line x1="536.52" y1="545.20" x2="536.52" y2="549.90" stroke="#000" stroke-width="1.60"/>
<line x1="552.26" y1="426.70" x2="552.26" y2="431.30" stroke="#000" stroke-width="1.50"/>
<line x1="552.26" y1="545.20" x2="552.26" y2="549.90" stroke="#000" stroke-width="1.60"/>
<line x1="559.36" y1="426.70" x2="559.36" y2="431.30" stroke="#000" stroke-width="1.50"/>
<line x1="559.36" y1="545.20" x2="559.36" y2="549.90" stroke="#000" stroke-width="1.60"/>
<line x1="565.62" y1="426.70" x2="565.62" y2="431.30" stroke="#000" stroke-width="1.50"/>
<line x1="565.62" y1="545.20" x2="565.62" y2="549.90" stroke="#000" stroke-width="1.60"/>
<line x1="571.22" y1="425.10" x2="571.22" y2="432.90" stroke="#000" stroke-width="2.00"/>
<line x1="571.22" y1="545.20" x2="571.22" y2="552.90" stroke="#000" stroke-width="2.00"/>
<line x1="608.06" y1="426.70" x2="608.06" y2="431.30" stroke="#000" stroke-width="1.50"/>
<line x1="608.06" y1="545.20" x2="608.06" y2="549.90" stroke="#000" stroke-width="1.60"/>
<line x1="629.61" y1="426.70" x2="629.61" y2="431.30" stroke="#000" stroke-width="1.50"/>
<line x1="629.61" y1="545.20" x2="629.61" y2="549.90" stroke="#000" stroke-width="1.60"/>
<line x1="644.89" y1="426.70" x2="644.89" y2="431.30" stroke="#000" stroke-width="1.50"/>
<line x1="644.89" y1="545.20" x2="644.89" y2="549.90" stroke="#000" stroke-width="1.60"/>
<line x1="656.75" y1="426.70" x2="656.75" y2="431.30" stroke="#000" stroke-width="1.50"/>
<line x1="656.75" y1="545.20" x2="656.75" y2="549.90" stroke="#000" stroke-width="1.60"/>
<line x1="666.44" y1="426.70" x2="666.44" y2="431.30" stroke="#000" stroke-width="1.50"/>
<line x1="666.44" y1="545.20" x2="666.44" y2="549.90" stroke="#000" stroke-width="1.60"/>
<line x1="674.63" y1="426.70" x2="674.63" y2="431.30" stroke="#000" stroke-width="1.50"/>
<line x1="674.63" y1="545.20" x2="674.63" y2="549.90" stroke="#000" stroke-width="1.60"/>
<line x1="681.73" y1="426.70" x2="681.73" y2="431.30" stroke="#000" stroke-width="1.50"/>
<line x1="681.73" y1="545.20" x2="681.73" y2="549.90" stroke="#000" stroke-width="1.60"/>
<line x1="687.99" y1="426.70" x2="687.99" y2="431.30" stroke="#000" stroke-width="1.50"/>
<line x1="687.99" y1="545.20" x2="687.99" y2="549.90" stroke="#000" stroke-width="1.60"/>
<line x1="693.59" y1="425.10" x2="693.59" y2="432.90" stroke="#000" stroke-width="2.00"/>
<line x1="693.59" y1="545.20" x2="693.59" y2="552.90" stroke="#000" stroke-width="2.00"/>
<line x1="730.43" y1="426.70" x2="730.43" y2="431.30" stroke="#000" stroke-width="1.50"/>
<line x1="730.43" y1="545.20" x2="730.43" y2="549.90" stroke="#000" stroke-width="1.60"/>
<line x1="751.98" y1="426.70" x2="751.98" y2="431.30" stroke="#000" stroke-width="1.50"/>
<line x1="751.98" y1="545.20" x2="751.98" y2="549.90" stroke="#000" stroke-width="1.60"/>
<line x1="767.26" y1="426.70" x2="767.26" y2="431.30" stroke="#000" stroke-width="1.50"/>
<line x1="767.26" y1="545.20" x2="767.26" y2="549.90" stroke="#000" stroke-width="1.60"/>
<line x1="779.12" y1="426.70" x2="779.12" y2="431.30" stroke="#000" stroke-width="1.50"/>
<line x1="779.12" y1="545.20" x2="779.12" y2="549.90" stroke="#000" stroke-width="1.60"/>
<line x1="788.81" y1="426.70" x2="788.81" y2="431.30" stroke="#000" stroke-width="1.50"/>
<line x1="788.81" y1="545.20" x2="788.81" y2="549.90" stroke="#000" stroke-width="1.60"/>
<line x1="797.00" y1="426.70" x2="797.00" y2="431.30" stroke="#000" stroke-width="1.50"/>
<line x1="797.00" y1="545.20" x2="797.00" y2="549.90" stroke="#000" stroke-width="1.60"/>
<line x1="804.10" y1="426.70" x2="804.10" y2="431.30" stroke="#000" stroke-width="1.50"/>
<line x1="804.10" y1="545.20" x2="804.10" y2="549.90" stroke="#000" stroke-width="1.60"/>
<line x1="810.36" y1="426.70" x2="810.36" y2="431.30" stroke="#000" stroke-width="1.50"/>
<line x1="810.36" y1="545.20" x2="810.36" y2="549.90" stroke="#000" stroke-width="1.60"/>
<line x1="815.96" y1="425.10" x2="815.96" y2="432.90" stroke="#000" stroke-width="2.00"/>
<line x1="815.96" y1="545.20" x2="815.96" y2="552.90" stroke="#000" stroke-width="2.00"/>
<line x1="852.80" y1="426.70" x2="852.80" y2="431.30" stroke="#000" stroke-width="1.50"/>
<line x1="852.80" y1="545.20" x2="852.80" y2="549.90" stroke="#000" stroke-width="1.60"/>
<line x1="874.35" y1="426.70" x2="874.35" y2="431.30" stroke="#000" stroke-width="1.50"/>
<line x1="874.35" y1="545.20" x2="874.35" y2="549.90" stroke="#000" stroke-width="1.60"/>
<line x1="889.63" y1="426.70" x2="889.63" y2="431.30" stroke="#000" stroke-width="1.50"/>
<line x1="889.63" y1="545.20" x2="889.63" y2="549.90" stroke="#000" stroke-width="1.60"/>
<line x1="901.49" y1="426.70" x2="901.49" y2="431.30" stroke="#000" stroke-width="1.50"/>
<line x1="901.49" y1="545.20" x2="901.49" y2="549.90" stroke="#000" stroke-width="1.60"/>
<line x1="911.18" y1="426.70" x2="911.18" y2="431.30" stroke="#000" stroke-width="1.50"/>
<line x1="911.18" y1="545.20" x2="911.18" y2="549.90" stroke="#000" stroke-width="1.60"/>
<line x1="919.37" y1="426.70" x2="919.37" y2="431.30" stroke="#000" stroke-width="1.50"/>
<line x1="919.37" y1="545.20" x2="919.37" y2="549.90" stroke="#000" stroke-width="1.60"/>
<line x1="926.47" y1="426.70" x2="926.47" y2="431.30" stroke="#000" stroke-width="1.50"/>
<line x1="926.47" y1="545.20" x2="926.47" y2="549.90" stroke="#000" stroke-width="1.60"/>
<line x1="932.73" y1="426.70" x2="932.73" y2="431.30" stroke="#000" stroke-width="1.50"/>
<line x1="932.73" y1="545.20" x2="932.73" y2="549.90" stroke="#000" stroke-width="1.60"/>
<line x1="938.33" y1="425.10" x2="938.33" y2="432.90" stroke="#000" stroke-width="2.00"/>
<line x1="938.33" y1="545.20" x2="938.33" y2="552.90" stroke="#000" stroke-width="2.00"/>
<line x1="975.17" y1="426.70" x2="975.17" y2="431.30" stroke="#000" stroke-width="1.50"/>
<line x1="975.17" y1="545.20" x2="975.17" y2="549.90" stroke="#000" stroke-width="1.60"/>
<line x1="107.30" y1="428.98" x2="111.90" y2="428.98" stroke="#000" stroke-width="1.50"/>
<line x1="107.30" y1="420.44" x2="111.90" y2="420.44" stroke="#000" stroke-width="1.50"/>
<line x1="105.70" y1="412.80" x2="113.50" y2="412.80" stroke="#000" stroke-width="2.00"/>
<line x1="107.30" y1="362.53" x2="111.90" y2="362.53" stroke="#000" stroke-width="1.50"/>
<line x1="107.30" y1="333.12" x2="111.90" y2="333.12" stroke="#000" stroke-width="1.50"/>
<line x1="107.30" y1="312.26" x2="111.90" y2="312.26" stroke="#000" stroke-width="1.50"/>
<line x1="107.30" y1="296.07" x2="111.90" y2="296.07" stroke="#000" stroke-width="1.50"/>
<line x1="107.30" y1="282.85" x2="111.90" y2="282.85" stroke="#000" stroke-width="1.50"/>
<line x1="107.30" y1="271.67" x2="111.90" y2="271.67" stroke="#000" stroke-width="1.50"/>
<line x1="107.30" y1="261.98" x2="111.90" y2="261.98" stroke="#000" stroke-width="1.50"/>
<line x1="107.30" y1="253.44" x2="111.90" y2="253.44" stroke="#000" stroke-width="1.50"/>
<line x1="105.70" y1="245.80" x2="113.50" y2="245.80" stroke="#000" stroke-width="2.00"/>
<line x1="107.30" y1="195.53" x2="111.90" y2="195.53" stroke="#000" stroke-width="1.50"/>
<line x1="107.30" y1="166.12" x2="111.90" y2="166.12" stroke="#000" stroke-width="1.50"/>
<line x1="107.30" y1="145.26" x2="111.90" y2="145.26" stroke="#000" stroke-width="1.50"/>
<line x1="107.30" y1="129.07" x2="111.90" y2="129.07" stroke="#000" stroke-width="1.50"/>
<line x1="107.30" y1="115.85" x2="111.90" y2="115.85" stroke="#000" stroke-width="1.50"/>
<line x1="107.30" y1="104.67" x2="111.90" y2="104.67" stroke="#000" stroke-width="1.50"/>
<line x1="107.30" y1="94.98" x2="111.90" y2="94.98" stroke="#000" stroke-width="1.50"/>
<line x1="107.30" y1="86.44" x2="111.90" y2="86.44" stroke="#000" stroke-width="1.50"/>
<line x1="105.70" y1="78.80" x2="113.50" y2="78.80" stroke="#000" stroke-width="2.00"/>
<line x1="107.30" y1="28.53" x2="111.90" y2="28.53" stroke="#000" stroke-width="1.50"/>
<line x1="545.95" y1="428.98" x2="550.55" y2="428.98" stroke="#000" stroke-width="1.50"/>
<line x1="545.95" y1="420.44" x2="550.55" y2="420.44" stroke="#000" stroke-width="1.50"/>
<line x1="544.35" y1="412.80" x2="552.15" y2="412.80" stroke="#000" stroke-width="2.00"/>
<line x1="545.95" y1="362.53" x2="550.55" y2="362.53" stroke="#000" stroke-width="1.50"/>
<line x1="545.95" y1="333.12" x2="550.55" y2="333.12" stroke="#000" stroke-width="1.50"/>
<line x1="545.95" y1="312.26" x2="550.55" y2="312.26" stroke="#000" stroke-width="1.50"/>
<line x1="545.95" y1="296.07" x2="550.55" y2="296.07" stroke="#000" stroke-width="1.50"/>
<line x1="545.95" y1="282.85" x2="550.55" y2="282.85" stroke="#000" stroke-width="1.50"/>
<line x1="545.95" y1="271.67" x2="550.55" y2="271.67" stroke="#000" stroke-width="1.50"/>
<line x1="545.95" y1="261.98" x2="550.55" y2="261.98" stroke="#000" stroke-width="1.50"/>
<line x1="545.95" y1="253.44" x2="550.55" y2="253.44" stroke="#000" stroke-width="1.50"/>
<line x1="544.35" y1="245.80" x2="552.15" y2="245.80" stroke="#000" stroke-width="2.00"/>
<line x1="545.95" y1="195.53" x2="550.55" y2="195.53" stroke="#000" stroke-width="1.50"/>
<line x1="545.95" y1="166.12" x2="550.55" y2="166.12" stroke="#000" stroke-width="1.50"/>
<line x1="545.95" y1="145.26" x2="550.55" y2="145.26" stroke="#000" stroke-width="1.50"/>
<line x1="545.95" y1="129.07" x2="550.55" y2="129.07" stroke="#000" stroke-width="1.50"/>
<line x1="545.95" y1="115.85" x2="550.55" y2="115.85" stroke="#000" stroke-width="1.50"/>
<line x1="545.95" y1="104.67" x2="550.55" y2="104.67" stroke="#000" stroke-width="1.50"/>
<line x1="545.95" y1="94.98" x2="550.55" y2="94.98" stroke="#000" stroke-width="1.50"/>
<line x1="545.95" y1="86.44" x2="550.55" y2="86.44" stroke="#000" stroke-width="1.50"/>
<line x1="544.35" y1="78.80" x2="552.15" y2="78.80" stroke="#000" stroke-width="2.00"/>
<line x1="545.95" y1="28.53" x2="550.55" y2="28.53" stroke="#000" stroke-width="1.50"/>
<line x1="984.60" y1="428.98" x2="989.20" y2="428.98" stroke="#000" stroke-width="1.50"/>
<line x1="984.60" y1="420.44" x2="989.20" y2="420.44" stroke="#000" stroke-width="1.50"/>
<line x1="983.00" y1="412.80" x2="990.80" y2="412.80" stroke="#000" stroke-width="2.00"/>
<line x1="984.60" y1="362.53" x2="989.20" y2="362.53" stroke="#000" stroke-width="1.50"/>
<line x1="984.60" y1="333.12" x2="989.20" y2="333.12" stroke="#000" stroke-width="1.50"/>
<line x1="984.60" y1="312.26" x2="989.20" y2="312.26" stroke="#000" stroke-width="1.50"/>
<line x1="984.60" y1="296.07" x2="989.20" y2="296.07" stroke="#000" stroke-width="1.50"/>
<line x1="984.60" y1="282.85" x2="989.20" y2="282.85" stroke="#000" stroke-width="1.50"/>
<line x1="984.60" y1="271.67" x2="989.20" y2="271.67" stroke="#000" stroke-width="1.50"/>
<line x1="984.60" y1="261.98" x2="989.20" y2="261.98" stroke="#000" stroke-width="1.50"/>
<line x1="984.60" y1="253.44" x2="989.20" y2="253.44" stroke="#000" stroke-width="1.50"/>
<line x1="983.00" y1="245.80" x2="990.80" y2="245.80" stroke="#000" stroke-width="2.00"/>
<line x1="984.60" y1="195.53" x2="989.20" y2="195.53" stroke="#000" stroke-width="1.50"/>
<line x1="984.60" y1="166.12" x2="989.20" y2="166.12" stroke="#000" stroke-width="1.50"/>
<line x1="984.60" y1="145.26" x2="989.20" y2="145.26" stroke="#000" stroke-width="1.50"/>
<line x1="984.60" y1="129.07" x2="989.20" y2="129.07" stroke="#000" stroke-width="1.50"/>
<line x1="984.60" y1="115.85" x2="989.20" y2="115.85" stroke="#000" stroke-width="1.50"/>
<line x1="984.60" y1="104.67" x2="989.20" y2="104.67" stroke="#000" stroke-width="1.50"/>
<line x1="984.60" y1="94.98" x2="989.20" y2="94.98" stroke="#000" stroke-width="1.50"/>
<line x1="984.60" y1="86.44" x2="989.20" y2="86.44" stroke="#000" stroke-width="1.50"/>
<line x1="983.00" y1="78.80" x2="990.80" y2="78.80" stroke="#000" stroke-width="2.00"/>
<line x1="984.60" y1="28.53" x2="989.20" y2="28.53" stroke="#000" stroke-width="1.50"/>
<line x1="101.90" y1="505.60" x2="109.60" y2="505.60" stroke="#000" stroke-width="2.00"/>
<line x1="101.90" y1="444.40" x2="109.60" y2="444.40" stroke="#000" stroke-width="2.00"/>
<line x1="540.55" y1="505.60" x2="548.25" y2="505.60" stroke="#000" stroke-width="2.00"/>
<line x1="540.55" y1="444.40" x2="548.25" y2="444.40" stroke="#000" stroke-width="2.00"/>
<text transform="translate(55.00,86.50) scale(1.0140,1)" font-family="Liberation Serif" font-size="21.40" stroke-width="0.13">10</text>
<line x1="77.90" y1="74.40" x2="88.00" y2="74.40" stroke="#000" stroke-width="1.0"/>
<text transform="translate(89.90,79.00) scale(1.0769,1)" font-family="Liberation Serif" font-size="15.60" stroke-width="0.09">5</text>
<text transform="translate(55.00,253.50) scale(1.0140,1)" font-family="Liberation Serif" font-size="21.40" stroke-width="0.13">10</text>
<line x1="77.90" y1="241.40" x2="88.00" y2="241.40" stroke="#000" stroke-width="1.0"/>
<text transform="translate(89.90,246.00) scale(1.0769,1)" font-family="Liberation Serif" font-size="15.60" stroke-width="0.09">6</text>
<text transform="translate(55.00,420.50) scale(1.0140,1)" font-family="Liberation Serif" font-size="21.40" stroke-width="0.13">10</text>
<line x1="77.90" y1="408.40" x2="88.00" y2="408.40" stroke="#000" stroke-width="1.0"/>
<text transform="translate(89.90,413.00) scale(1.1026,1)" font-family="Liberation Serif" font-size="15.60" stroke-width="0.09">7</text>
<text transform="translate(83.90,512.90) scale(0.9533,1)" font-family="Liberation Serif" font-size="21.40" stroke-width="0.13">0</text>
<text transform="translate(85.40,451.70) scale(0.7196,1)" font-family="Liberation Serif" font-size="21.40" stroke-width="0.13">1</text>
<text transform="translate(110.67,575.10) scale(1.0140,1)" font-family="Liberation Serif" font-size="21.40" stroke-width="0.13">10</text>
<line x1="133.57" y1="563.00" x2="143.67" y2="563.00" stroke="#000" stroke-width="1.0"/>
<text transform="translate(145.57,567.60) scale(1.0769,1)" font-family="Liberation Serif" font-size="15.60" stroke-width="0.09">3</text>
<text transform="translate(233.04,575.10) scale(1.0140,1)" font-family="Liberation Serif" font-size="21.40" stroke-width="0.13">10</text>
<line x1="255.94" y1="563.00" x2="266.04" y2="563.00" stroke="#000" stroke-width="1.0"/>
<text transform="translate(267.94,567.60) scale(1.0769,1)" font-family="Liberation Serif" font-size="15.60" stroke-width="0.09">2</text>
<text transform="translate(355.41,575.10) scale(1.0140,1)" font-family="Liberation Serif" font-size="21.40" stroke-width="0.13">10</text>
<line x1="378.31" y1="563.00" x2="388.41" y2="563.00" stroke="#000" stroke-width="1.0"/>
<text transform="translate(391.51,567.60) scale(0.8974,1)" font-family="Liberation Serif" font-size="15.60" stroke-width="0.09">1</text>
<text transform="translate(484.88,575.20) scale(1.0140,1)" font-family="Liberation Serif" font-size="21.40" stroke-width="0.13">10</text>
<text transform="translate(506.78,567.70) scale(0.9487,1)" font-family="Liberation Serif" font-size="15.60" stroke-width="0.09">0</text>
<text transform="translate(549.32,575.10) scale(1.0140,1)" font-family="Liberation Serif" font-size="21.40" stroke-width="0.13">10</text>
<line x1="572.22" y1="563.00" x2="582.32" y2="563.00" stroke="#000" stroke-width="1.0"/>
<text transform="translate(584.22,567.60) scale(1.0769,1)" font-family="Liberation Serif" font-size="15.60" stroke-width="0.09">3</text>
<text transform="translate(671.69,575.10) scale(1.0140,1)" font-family="Liberation Serif" font-size="21.40" stroke-width="0.13">10</text>
<line x1="694.59" y1="563.00" x2="704.69" y2="563.00" stroke="#000" stroke-width="1.0"/>
<text transform="translate(706.59,567.60) scale(1.0769,1)" font-family="Liberation Serif" font-size="15.60" stroke-width="0.09">2</text>
<text transform="translate(794.06,575.10) scale(1.0140,1)" font-family="Liberation Serif" font-size="21.40" stroke-width="0.13">10</text>
<line x1="816.96" y1="563.00" x2="827.06" y2="563.00" stroke="#000" stroke-width="1.0"/>
<text transform="translate(830.16,567.60) scale(0.8974,1)" font-family="Liberation Serif" font-size="15.60" stroke-width="0.09">1</text>
<text transform="translate(923.53,575.20) scale(1.0140,1)" font-family="Liberation Serif" font-size="21.40" stroke-width="0.13">10</text>
<text transform="translate(945.43,567.70) scale(0.9487,1)" font-family="Liberation Serif" font-size="15.60" stroke-width="0.09">0</text>
<g transform="translate(40.9,309.3) rotate(-90)">
<text transform="translate(-0.60,0.00) scale(0.7063,1)" font-family="Liberation Sans" font-size="24.20" stroke-width="0.31">S</text>
<text transform="translate(20.80,0.00) scale(0.9765,1)" font-family="Liberation Sans" font-size="24.20" stroke-width="0.31">factor</text>
<text transform="translate(89.60,0.00) scale(0.9059,1)" font-family="Liberation Sans" font-size="24.20" stroke-width="0.31">(</text>
<text transform="translate(100.40,0.00) scale(0.9466,1)" font-family="Liberation Sans" font-size="24.20" stroke-width="0.31">MeV</text>
<text transform="translate(155.30,0.00) scale(0.9513,1)" font-family="Liberation Sans" font-size="24.20" stroke-width="0.31">b</text>
<text transform="translate(169.80,0.00) scale(0.9555,1)" font-family="Liberation Sans" font-size="24.20" stroke-width="0.31">)</text>
</g>
<g transform="translate(69.1,523.2) rotate(-90)">
<text transform="translate(-0.60,0.00) scale(1.0587,1)" font-family="Liberation Serif" font-size="26.00" stroke-width="0.16">&#916;</text>
<text transform="translate(20.10,0.00) scale(1.0692,1)" font-family="Liberation Serif" font-size="26.00" stroke-width="0.16" font-style="italic">S</text>
<line x1="34.9" y1="5.4" x2="45.2" y2="-19.6" stroke="#000" stroke-width="1.15"/>
<text transform="translate(47.30,0.00) scale(1.1385,1)" font-family="Liberation Serif" font-size="26.00" stroke-width="0.16" font-style="italic">S</text>
</g>
<text transform="translate(256.60,605.60) scale(0.8957,1)" font-family="Liberation Sans" font-size="24.00" stroke-width="0.31">Energy</text>
<text transform="translate(336.00,605.60) scale(1.0072,1)" font-family="Liberation Sans" font-size="24.00" stroke-width="0.31">(MeV)</text>
<text transform="translate(695.25,605.60) scale(0.8957,1)" font-family="Liberation Sans" font-size="24.00" stroke-width="0.31">Energy</text>
<text transform="translate(774.65,605.60) scale(1.0072,1)" font-family="Liberation Sans" font-size="24.00" stroke-width="0.31">(MeV)</text>
<rect x="120.00" y="23.20" width="192.00" height="213.60" rx="4" ry="4" fill="#fff" fill-opacity="0.8" stroke="#cfcfcf" stroke-width="2"/>
<g stroke-opacity="0.5" fill-opacity="0.5">
<line x1="150.20" y1="28.10" x2="150.20" y2="49.10" stroke="rgb(138,43,226)" stroke-width="3.40"/><line x1="143.80" y1="28.10" x2="156.60" y2="28.10" stroke="rgb(138,43,226)" stroke-width="2.20"/><line x1="143.80" y1="49.10" x2="156.60" y2="49.10" stroke="rgb(138,43,226)" stroke-width="2.20"/>
<circle cx="150.20" cy="38.60" r="6.50" fill="none" stroke="rgb(138,43,226)" stroke-width="2.20"/>
</g>
<text x="188.90" y="46.00" font-family="Liberation Sans" font-size="20.00" stroke-width="0.26" textLength="61.10" lengthAdjust="spacingAndGlyphs">Casella</text>
<line x1="251.20" y1="46.30" x2="257.20" y2="46.30" stroke="#000" stroke-width="0.9"/>
<text x="258.40" y="46.00" font-family="Liberation Sans" font-size="20.00" stroke-width="0.26" textLength="41.00" lengthAdjust="spacingAndGlyphs">2002</text>
<g stroke-opacity="0.5" fill-opacity="0.5">
<line x1="150.20" y1="57.80" x2="150.20" y2="78.80" stroke="rgb(139,69,19)" stroke-width="3.40"/><line x1="143.80" y1="57.80" x2="156.60" y2="57.80" stroke="rgb(139,69,19)" stroke-width="2.20"/><line x1="143.80" y1="78.80" x2="156.60" y2="78.80" stroke="rgb(139,69,19)" stroke-width="2.20"/>
<rect x="144.00" y="62.10" width="12.40" height="12.40" fill="none" stroke="rgb(139,69,19)" stroke-width="2.20"/>
</g>
<text x="188.90" y="75.70" font-family="Liberation Sans" font-size="20.00" stroke-width="0.26" textLength="27.50" lengthAdjust="spacingAndGlyphs">Ma</text>
<line x1="217.60" y1="76.00" x2="223.60" y2="76.00" stroke="#000" stroke-width="0.9"/>
<text x="224.80" y="75.70" font-family="Liberation Sans" font-size="20.00" stroke-width="0.26" textLength="41.00" lengthAdjust="spacingAndGlyphs">1997</text>
<g stroke-opacity="0.5" fill-opacity="0.5">
<line x1="150.20" y1="87.50" x2="150.20" y2="108.50" stroke="rgb(255,0,0)" stroke-width="3.40"/><line x1="143.80" y1="87.50" x2="156.60" y2="87.50" stroke="rgb(255,0,0)" stroke-width="2.20"/><line x1="143.80" y1="108.50" x2="156.60" y2="108.50" stroke="rgb(255,0,0)" stroke-width="2.20"/>
<polygon points="150.20,89.00 159.20,98.00 150.20,107.00 141.20,98.00" fill="none" stroke="rgb(255,0,0)" stroke-width="2.20"/>
</g>
<text x="188.90" y="105.40" font-family="Liberation Sans" font-size="20.00" stroke-width="0.26" textLength="55.10" lengthAdjust="spacingAndGlyphs">Mossa</text>
<line x1="245.20" y1="105.70" x2="251.20" y2="105.70" stroke="#000" stroke-width="0.9"/>
<text x="252.40" y="105.40" font-family="Liberation Sans" font-size="20.00" stroke-width="0.26" textLength="41.00" lengthAdjust="spacingAndGlyphs">2020</text>
<g stroke-opacity="0.5" fill-opacity="0.5">
<line x1="150.20" y1="117.20" x2="150.20" y2="138.20" stroke="rgb(255,165,0)" stroke-width="3.40"/><line x1="143.80" y1="117.20" x2="156.60" y2="117.20" stroke="rgb(255,165,0)" stroke-width="2.20"/><line x1="143.80" y1="138.20" x2="156.60" y2="138.20" stroke="rgb(255,165,0)" stroke-width="2.20"/>
<polygon points="150.20,120.90 156.67,125.60 154.20,133.20 146.20,133.20 143.73,125.60" fill="none" stroke="rgb(255,165,0)" stroke-width="2.20"/>
</g>
<text x="188.90" y="135.10" font-family="Liberation Sans" font-size="20.00" stroke-width="0.26" textLength="64.50" lengthAdjust="spacingAndGlyphs">Schmid</text>
<line x1="254.60" y1="135.40" x2="260.60" y2="135.40" stroke="#000" stroke-width="0.9"/>
<text x="261.80" y="135.10" font-family="Liberation Sans" font-size="20.00" stroke-width="0.26" textLength="41.00" lengthAdjust="spacingAndGlyphs">1997</text>
<g stroke-opacity="0.5" fill-opacity="0.5">
<line x1="150.20" y1="146.90" x2="150.20" y2="167.90" stroke="rgb(0,0,255)" stroke-width="3.40"/><line x1="143.80" y1="146.90" x2="156.60" y2="146.90" stroke="rgb(0,0,255)" stroke-width="2.20"/><line x1="143.80" y1="167.90" x2="156.60" y2="167.90" stroke="rgb(0,0,255)" stroke-width="2.20"/>
<polygon points="157.00,157.40 153.60,151.51 146.80,151.51 143.40,157.40 146.80,163.29 153.60,163.29" fill="none" stroke="rgb(0,0,255)" stroke-width="2.20"/>
</g>
<text x="188.90" y="164.80" font-family="Liberation Sans" font-size="20.00" stroke-width="0.26" textLength="53.90" lengthAdjust="spacingAndGlyphs">Tisma</text>
<line x1="244.00" y1="165.10" x2="250.00" y2="165.10" stroke="#000" stroke-width="0.9"/>
<text x="251.20" y="164.80" font-family="Liberation Sans" font-size="20.00" stroke-width="0.26" textLength="41.00" lengthAdjust="spacingAndGlyphs">2019</text>
<g stroke-opacity="0.5" fill-opacity="0.5">
<line x1="150.20" y1="176.60" x2="150.20" y2="197.60" stroke="rgb(192,192,192)" stroke-width="3.40"/><line x1="143.80" y1="176.60" x2="156.60" y2="176.60" stroke="rgb(192,192,192)" stroke-width="2.20"/><line x1="143.80" y1="197.60" x2="156.60" y2="197.60" stroke="rgb(192,192,192)" stroke-width="2.20"/>
<polygon points="150.20,181.10 151.55,185.25 155.91,185.25 152.38,187.81 153.73,191.95 150.20,189.39 146.67,191.95 148.02,187.81 144.49,185.25 148.85,185.25" fill="none" stroke="rgb(192,192,192)" stroke-width="2.20" stroke-linejoin="round"/>
</g>
<text x="188.90" y="194.50" font-family="Liberation Sans" font-size="20.00" stroke-width="0.26" textLength="56.90" lengthAdjust="spacingAndGlyphs">Turkat</text>
<line x1="247.00" y1="194.80" x2="253.00" y2="194.80" stroke="#000" stroke-width="0.9"/>
<text x="254.20" y="194.50" font-family="Liberation Sans" font-size="20.00" stroke-width="0.26" textLength="41.00" lengthAdjust="spacingAndGlyphs">2021</text>
<g stroke-opacity="0.5" fill-opacity="0.5">
<line x1="150.20" y1="206.30" x2="150.20" y2="227.30" stroke="rgb(0,128,0)" stroke-width="3.40"/><line x1="143.80" y1="206.30" x2="156.60" y2="206.30" stroke="rgb(0,128,0)" stroke-width="2.20"/><line x1="143.80" y1="227.30" x2="156.60" y2="227.30" stroke="rgb(0,128,0)" stroke-width="2.20"/>
<polygon points="150.20,207.80 155.60,216.80 150.20,225.80 144.80,216.80" fill="none" stroke="rgb(0,128,0)" stroke-width="2.20"/>
</g>
<text x="188.90" y="224.20" font-family="Liberation Sans" font-size="20.00" stroke-width="0.26" textLength="63.50" lengthAdjust="spacingAndGlyphs">Warren</text>
<line x1="253.60" y1="224.50" x2="259.60" y2="224.50" stroke="#000" stroke-width="0.9"/>
<text x="260.80" y="224.20" font-family="Liberation Sans" font-size="20.00" stroke-width="0.26" textLength="41.00" lengthAdjust="spacingAndGlyphs">1963</text>
<text transform="translate(417.90,345.00) scale(0.8239,1)" font-family="Liberation Sans" font-size="23.20" stroke-width="0.30">D</text>
<text transform="translate(436.00,345.00) scale(0.9320,1)" font-family="Liberation Sans" font-size="23.20" stroke-width="0.30">(</text>
<text transform="translate(445.10,345.00) scale(1.0001,1)" font-family="Liberation Sans" font-size="23.20" stroke-width="0.30">p</text>
<path d="M459.6,342.6h2.6v2.5q0,2.2 -1.6,3.6l-0.7,-0.6q0.9,-1.0 0.95,-2.9h-1.25z" fill="#000"/>
<path d="M464.6,339.0 C465.3,335.6 467.3,334.2 469.2,334.7 C471.6,335.4 472.9,339.2 473.3,344.0" fill="none" stroke="#000" stroke-width="1.7" stroke-linecap="round"/>
<path d="M477.9,334.2 L473.4,344.3 L471.7,350.5" fill="none" stroke="#000" stroke-width="1.05" stroke-linecap="round"/>
<text transform="translate(479.20,345.00) scale(0.8025,1)" font-family="Liberation Sans" font-size="23.20" stroke-width="0.30">)</text>
<text transform="translate(488.20,336.60) scale(1.2464,1)" font-family="Liberation Serif" font-size="13.80" stroke-width="0.08">3</text>
<text transform="translate(499.20,345.00) scale(0.9376,1)" font-family="Liberation Sans" font-size="23.20" stroke-width="0.30">He</text>
<text transform="translate(594.21,95.50) scale(0.8796,1)" font-family="Liberation Serif" font-size="24.50" stroke-width="0.15" font-style="italic">y</text>
<text transform="translate(605.00,86.30) scale(1.1881,1)" font-family="Liberation Serif" font-size="16.60" stroke-width="0.10">ext</text>
<text transform="translate(604.65,101.60) scale(1.3364,1)" font-family="Liberation Serif" font-size="15.70" stroke-width="0.09" font-style="italic">D</text>
<text transform="translate(619.70,104.60) scale(1.3052,1)" font-family="Liberation Serif" font-size="11.30" stroke-width="0.07" font-style="italic">i</text>
<line x1="632.8" y1="101.3" x2="641.4" y2="77.1" stroke="#000" stroke-width="1.1"/>
<text transform="translate(644.10,95.40) scale(1.2788,1)" font-family="Liberation Serif" font-size="26.00" stroke-width="0.16" font-style="italic">f</text>
<text transform="translate(656.04,99.60) scale(1.2517,1)" font-family="Liberation Serif" font-size="16.00" stroke-width="0.10" font-style="italic">D</text>
</svg>
</body></html>
